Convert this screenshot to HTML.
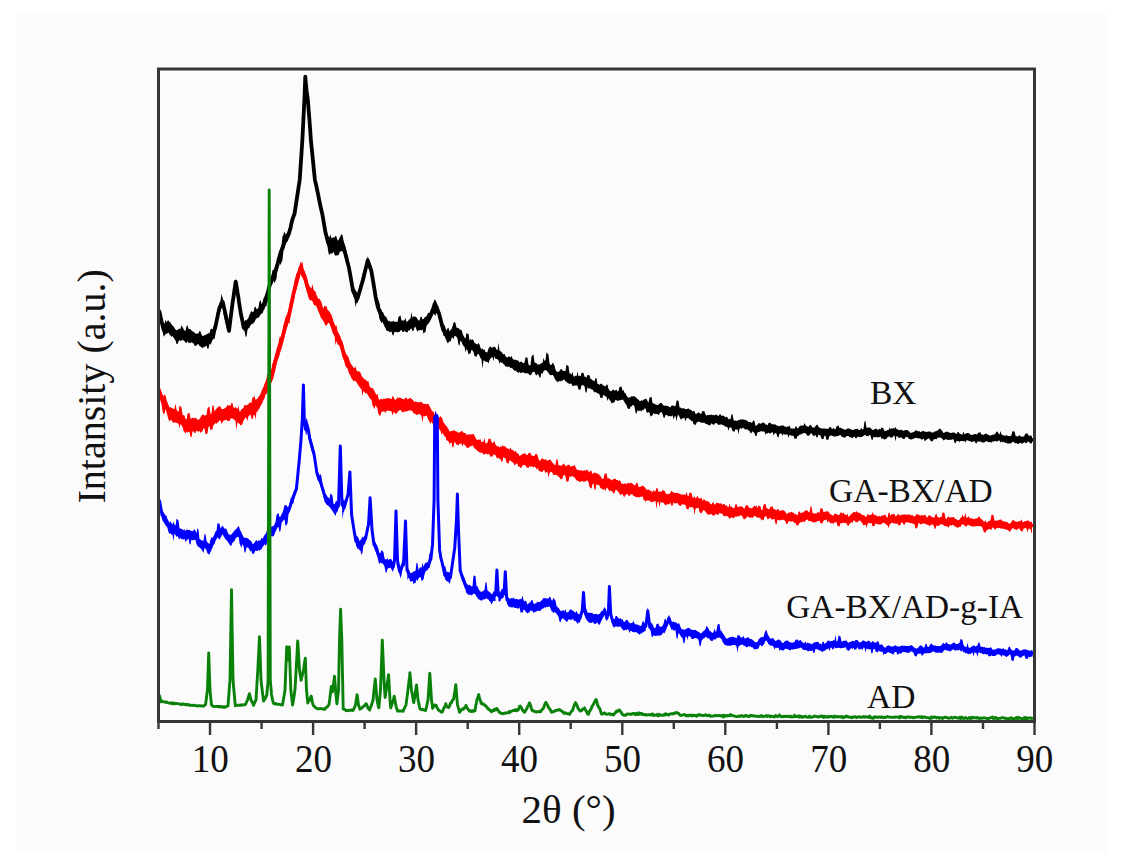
<!DOCTYPE html>
<html><head><meta charset="utf-8"><style>
html,body{margin:0;padding:0;background:#fff;width:1125px;height:859px;overflow:hidden}
svg{display:block}
</style></head><body>
<svg width="1125" height="859" viewBox="0 0 1125 859">
<rect x="0" y="0" width="1125" height="859" fill="#ffffff"/>
<rect x="17" y="13" width="1090" height="839" fill="#fbfbfb"/>
<path d="M159.5 306.4L160 308.6L160.5 311L161 314L161.5 316.5L162 318.7L162.5 320.9L163 322.7L163.4 324.2L163.5 323.9L164 323.8L164.5 323.6L165 321.7L165.5 319.7L166 321.1L166.5 322.4L167 321.6L167.5 320.8L168 320.6L168.5 320.6L169 321.1L169.5 322.1L170 322.3L170.5 322.6L171 323.4L171.5 324.3L172 324.8L172.5 325.4L173 326L173.5 326.6L174 327.2L174.5 327.7L175 328.7L175.5 329.6L176 330.3L176.5 330.4L177 330.1L177.5 329.7L178 329.5L178.5 329.4L179 329L179.5 328.5L180 328.8L180.5 329L181 327.1L181.5 325.2L182 326.1L182.5 327.1L183 328L183.5 329L184 329.8L184.5 330.6L185 330.8L185.5 330.8L186 328.7L186.5 326.2L187 325.8L187.5 325.2L188 326.9L188.5 328.8L189 328.9L189.5 329.1L190 329.1L190.5 329.2L191 329.8L191.5 330.5L192 330.9L192.5 331.3L193 331.6L193.5 331.8L194 332.3L194.5 332.7L195 333.1L195.5 333.4L196 333.7L196.5 334L197 333.6L197.5 333.2L198 333.4L198.5 333.6L199 332.2L199.5 330.8L200 331.2L200.5 331.5L201 333.1L201.5 334.6L202 335.2L202.5 335.7L203 335.9L203.5 335.9L204 335.6L204.5 334.7L205 334.9L205.5 335.2L206 334.7L206.5 334.3L207 334.1L207.5 333.9L208 333.5L208.5 333.1L209 333.2L209.5 333.4L210 331.2L210.5 329L211 329.5L211.5 328.4L212 329L212.5 329.5L213 328L213.5 326.5L214 325.5L214.5 324.6L215 324.3L215.5 322.1L216 318.2L216.5 314.1L217 311.7L217.5 309.3L218 308.8L218.5 308.3L219 305.8L219.3 304.3L219.5 302.6L220 301.7L220.5 300.8L221 297.2L221.5 293.7L222 295.7L222.5 297.7L222.8 298.4L223 299.3L223.5 301.4L224 303.7L224.5 306L225 307.8L225.5 309.8L226 312.2L226.2 313.4L226.5 315L227 317.5L227.5 319.9L228 322.5L228.5 324.9L229 328.3L229.5 324.5L230 320.6L230.5 316.8L231 312.7L231.5 308.7L232 304.7L232.5 300.9L233 297L233.5 293.5L234 290.1L234.5 286.7L235 283.5L235.5 280.2L235.7 278.9L236 279.9L236.5 282.8L237 286L237.5 289.3L238 292.2L238.5 295L238.8 297.2L239 298.7L239.5 302L240 304.9L240.5 307.7L241 310.9L241.5 314L241.6 314.1L242 315.7L242.5 318L243 320.5L243.5 323.1L243.7 324.1L244 321.6L244.5 321.5L245 320.7L245.5 319.9L246 320.1L246.5 320.4L247 319.7L247.5 318.9L248 318.4L248.5 317.7L249 316.1L249.5 314.4L250 313.9L250.5 312.8L251 311.8L251.5 310.9L252 311.4L252.5 312L253 312L253.5 311.9L254 309.8L254.5 307.6L255 307L255.5 306.4L255.6 306.8L256 307.8L256.5 309.3L257 308.9L257.5 308.7L258 308.2L258.5 307.6L259 304.6L259.5 301.4L260 300.7L260.5 299.9L261 301.9L261.2 302.8L261.5 304L262 303.3L262.5 302.6L263 300.5L263.5 298.3L264 297.4L264.5 296.4L265 295.3L265.5 294.1L266 294.2L266.5 294.2L266.6 294.2L267 291.8L267.5 289.1L268 286.9L268.5 285L269 282.7L269.5 280.4L270 278.8L270.5 277.2L271 276.8L271.5 276.3L272 273.1L272.5 269.9L273 269.9L273.5 269.9L274 268.7L274.1 268.7L274.5 267.9L275 266.2L275.5 264.6L276 263.3L276.5 261.7L277 260.9L277.5 259.9L278 257.8L278.1 256.9L278.5 255.1L279 253.1L279.5 251.2L280 249.7L280.5 248.3L281 246.8L281.5 245.5L282 240.7L282.5 236L282.8 236.4L283 235.8L283.5 234.3L284 232.8L284.5 231.4L285 233L285.5 234.8L286 233.8L286.3 233.5L286.5 233.4L287 232.8L287.5 232.1L288 230.5L288.5 228.6L289 227.6L289.5 226.3L290 224.8L290.5 223.2L290.9 221.9L291 220.9L291.5 218.8L292 216.8L292.5 215.1L293 212.5L293.5 210.2L294 209L294.4 209.7L294.5 209.2L295 206.9L295.5 204.4L296 201L296.5 197.6L297 194.6L297.3 193.5L297.5 192.2L298 188.6L298.5 185.2L299 181.9L299.5 178.6L299.7 178.9L300 174.3L300.5 166.4L301 158.9L301.5 151.4L302 144.1L302.4 138.7L302.5 136.8L303 126.9L303.5 117.1L304 107.3L304.4 99.6L304.5 97L305 84L305.3 76.1L305.5 76.8L306 82L306.4 86.1L306.5 86L307 90.7L307.5 95.5L307.9 99.2L308 100.6L308.5 106.9L309 113.1L309.5 119.3L310 126.5L310.5 133.5L310.9 139L311 139.5L311.5 144.3L312 149L312.5 153.9L312.9 157.7L313 158.8L313.5 163.6L314 168.8L314.5 174L314.9 177.6L315 176.5L315.5 178.1L316 180.1L316.5 182.1L317 184.8L317.5 187.6L318 190.3L318.5 192.8L318.8 193.7L319 194.2L319.5 195.5L320 198.8L320.5 201.9L321 204L321.5 206L322 208.2L322.5 210.5L322.8 212.4L323 213.6L323.5 216.4L324 218.4L324.5 220.6L325 223.5L325.5 226.5L326 227.3L326.5 230L327 232.2L327.5 234.4L328 236.4L328.5 236.1L329 237L329.5 237.6L330 235.9L330.5 234L331 236.8L331.5 238.5L332 238L332.5 237.7L333 237.6L333.5 237.6L334 237.5L334.5 237.6L335 236.7L335.5 235.8L336 236.3L336.5 236.8L337 238.7L337.5 240.3L338 240.4L338.5 240.1L339 239.1L339.5 237.9L340 236.7L340.5 236L341 235.1L341.5 234.3L342 234.5L342.5 234.9L343 237.7L343.5 240.3L344 242.3L344.5 244.3L345 246L345.5 248L346 249.6L346.4 251.4L346.5 251.9L347 254.6L347.5 257.2L348 259.1L348.5 261.1L348.8 263L349 264.2L349.5 267.1L350 269.4L350.5 271.5L351 274.4L351.5 277.3L352 280.8L352.5 284.2L353 287.5L353.5 287.7L354 288L354.5 288.4L355 289.3L355.5 290.1L356 290.9L356.5 291.6L357 292.8L357.5 294.4L358 292.6L358.5 290.8L359 288.8L359.5 286.8L360 285.5L360.5 284.3L361 282.3L361.5 280.2L362 276.8L362.5 273.4L362.8 273.4L363 272.6L363.5 270.6L364 270L364.5 269.5L365 267.7L365.5 265.9L366 263.7L366.5 261.5L367 259.5L367.5 257.3L367.7 256.4L368 257L368.5 258.5L369 259.7L369.5 261L370 262.5L370.5 264L371 264.8L371.2 266.4L371.5 267.8L372 270.7L372.5 273.6L373 276.5L373.5 279.5L374 282.7L374.5 286L375 289.4L375.4 292.2L375.5 292.1L376 294.6L376.5 297.1L377 297.6L377.5 298.1L377.8 299.4L378 299.4L378.5 300.8L379 301.9L379.5 303L380 306L380.5 309.1L381 309.3L381.5 309.6L382 311.8L382.5 311.9L383 312.4L383.5 313.1L384 314.5L384.5 316L385 316.2L385.5 316.2L386 316.9L386.5 317.4L387 318.6L387.5 319.9L388 320.4L388.5 320.9L389 321.1L389.5 320.7L390 321.4L390.5 322.1L391 321.7L391.5 321.3L392 321.4L392.5 321.5L393 321.2L393.5 320.8L394 321.4L394.5 322L395 321.7L395.5 321.6L396 321.7L396.5 321.8L397 322.1L397.5 322.2L398 319.6L398.5 316.8L399 316.5L399.5 316.2L400 315.8L400.5 315.5L401 318L401.5 320.5L402 320.5L402.5 320.5L403 320.5L403.5 320.5L404 320.4L404.5 320.2L405 319.1L405.5 318.1L406 319.9L406.5 321.7L407 321.7L407.5 321.4L408 320.9L408.5 320.3L409 319.8L409.5 319.3L410 318.7L410.5 318.3L411 315.2L411.5 312L412 315L412.5 318L413 317.1L413.5 316.2L414 316.4L414.5 316.7L415 316.6L415.5 316.8L416 317.1L416.5 317.6L416.9 318L417 318.6L417.5 318.9L418 319.8L418.5 320.4L419 320.5L419.5 320.5L420 318.7L420.5 316.9L421 316.8L421.5 316.6L422 318L422.5 319.4L423 319.1L423.5 319L423.9 318.8L424 318.6L424.5 317.5L425 317L425.5 316.7L426 316.6L426.5 316.4L427 315.1L427.5 313.7L428 313.2L428.5 312.7L429 312.9L429.5 313L430 311.6L430.5 310L431 309.4L431.5 308.7L432 307.6L432.5 306.4L433 304.8L433.5 303L434 301.2L434.4 299.6L434.5 299.2L435 299.7L435.5 300.4L436 301.3L436.5 302.3L437 303.8L437.5 305.3L438 306.1L438.5 307L439 308.6L439.3 310.4L439.5 311.4L440 313.3L440.5 315.3L441 317.3L441.5 319.2L442 320.5L442.5 321.8L443 323.5L443.5 325.2L444 324.6L444.5 325.2L445 326.6L445.5 328.3L446 329.4L446.5 330.6L447 329.4L447.5 328.1L447.6 328.5L448 328.1L448.5 327.7L449 329.6L449.5 331.5L450 330.8L450.5 330.1L451 329.6L451.5 329.1L452 327.7L452.5 326.4L453 324.5L453.5 322.7L454 322.3L454.5 322.1L454.6 322.2L455 322.6L455.5 323.1L456 325.3L456.5 327.4L457 327.7L457.5 328.1L458 328.1L458.5 328.1L459 328.7L459.5 329.2L460 329.4L460.2 329.7L460.5 330L461 330L461.5 330L462 331.6L462.5 333.4L463 334.6L463.5 335.8L464 336.8L464.4 337.5L464.5 337.4L465 337.9L465.5 338.6L466 335.7L466.5 332.8L467 333.4L467.5 333.8L468 333.9L468.5 333.8L469 337.2L469.5 340.6L470 339.7L470.5 339L471 339.5L471.5 340.1L472 339.7L472.5 339.3L472.8 339.6L473 339.9L473.5 340.3L474 341.7L474.5 343L475 343.2L475.5 343.3L476 343.8L476.5 344.2L477 344.2L477.5 344.4L478 343.6L478.5 343L479 343.7L479.5 344.5L479.8 345.6L480 346.3L480.5 347.8L481 348.6L481.5 349.4L482 348.9L482.5 348.3L483 349.2L483.5 350.1L484 349.7L484.5 349.3L485 350.7L485.5 352.1L486 352.1L486.5 352.2L486.8 352.4L487 352.4L487.5 352.1L488 350.3L488.5 348.4L489 347.8L489.5 347.3L490 346.8L490.5 346.3L491 347L491.5 347.8L492 347.6L492.5 347.6L493 347.3L493.5 347.1L494 346.8L494.5 346.7L494.8 346.7L495 347.1L495.5 347.6L496 348.6L496.5 349.4L497 349.9L497.5 350.2L498 346.5L498.5 342.7L499 346.7L499.5 350.6L500 350.9L500.5 351.3L501 351.6L501.5 351.9L502 352.6L502.5 353.3L503 353.9L503.5 354.5L504 354.1L504.5 353.7L505 354.9L505.5 356L506 356.7L506.5 357L507 357.3L507.5 357.5L508 357L508.5 356.4L509 356.4L509.5 356.5L510 356.9L510.5 357.4L511 356.6L511.5 355.9L512 357.1L512.5 358.5L513 359L513.5 359.5L514 359.7L514.5 359.7L515 359.8L515.5 359.8L516 360.1L516.5 360.2L517 360.3L517.5 360.4L518 360.6L518.5 360.8L519 361.7L519.5 362.6L520 362.3L520.5 361.8L521 361.7L521.5 361.6L522 362.1L522.5 362.8L523 363L523.5 363.2L524 362.9L524.5 362.6L525 360.1L525.5 357.5L526 357.5L526.5 357.5L527 357.6L527.5 357.8L528 361.2L528.5 364.6L529 365.1L529.5 365.4L530 365.4L530.5 365.1L531 360.9L531.5 356.5L532 355.9L532.5 355.3L533 354.7L533.5 354.4L533.9 357.4L534 358.2L534.5 362.3L535 362.6L535.5 363.1L536 363L536.5 362.9L537 363.9L537.5 364.7L538 364.5L538.5 364.2L539 364.3L539.5 364.4L540 364.2L540.5 363.8L541 363.5L541.5 363.1L542 363L542.5 362.9L543 360.4L543.5 357.8L544 359.3L544.5 360.9L545 360.3L545.5 360.2L546 356.1L546.5 352.3L547 352.8L547.5 353.4L548 354L548.5 354.7L549 359L549.5 363.2L550 364.2L550.5 365.1L551 365L551.5 364.9L552 363.7L552.5 362.7L553 363.1L553.5 363.8L554 364.7L554.5 365.6L554.9 367.2L555 368.1L555.5 369.6L556 370.7L556.5 371.6L557 371.8L557.5 371.9L558 371.8L558.5 371.7L559 371.4L559.5 371.2L560 370.2L560.5 369.2L561 369.2L561.5 369L562 369.8L562.5 370.6L563 370.7L563.5 370.9L564 370.8L564.5 370.9L565 371L565.5 371.2L566 367.8L566.5 364.5L567 364.9L567.5 365.4L568 365.8L568.5 366.1L568.8 368.4L569 369.9L569.5 373.5L570 373.5L570.5 373.5L571 374L571.5 374.8L572 373.2L572.5 371.6L573 374.1L573.5 376.4L574 376.5L574.5 376.4L575 376L575.5 375.6L576 375.9L576.5 376.2L577 373.8L577.5 371.4L578 373.9L578.5 376.3L579 375.9L579.5 375.4L580 376L580.5 376.5L581 374.7L581.5 372.9L582 372.8L582.5 372.8L582.8 372.7L583 372.7L583.5 372.9L584 374.8L584.5 376.9L585 376.7L585.5 376.5L586 377.2L586.5 377.8L587 376.3L587.5 374.8L588 374.9L588.5 375L589 375.2L589.5 375.3L590 377.1L590.5 378.9L591 379.1L591.5 379.3L592 379.8L592.5 380.3L593 380.4L593.5 380.4L594 380.9L594.5 381.5L595 379.7L595.5 377.9L596 378.1L596.5 378.3L596.8 380L597 381.2L597.5 384.1L598 384L598.5 383.7L599 384.4L599.5 384.9L600 384.3L600.5 383.7L601 383.7L601.5 383.7L602 384.2L602.5 384.8L603 385.2L603.5 385.6L604 385.7L604.5 385.9L605 386.3L605.5 386.6L606 385.5L606.5 384.4L607 384.6L607.5 384.7L608 386.7L608.5 388.9L609 389.5L609.5 390.2L610 390.8L610.5 391.3L611 391.3L611.5 391.1L612 390.5L612.5 389.9L613 389.6L613.5 389.4L614 390.1L614.5 390.8L615 390.5L615.5 390.3L616 389.9L616.5 389.6L617 390.5L617.5 391.5L618 391.2L618.5 390.9L619 389L619.5 387L620 386.9L620.5 386.8L621 386.6L621.5 386.5L622 388.6L622.5 390.9L622.9 390.3L623 390.4L623.5 390L624 391.3L624.5 392.7L625 393L625.5 393.3L626 394.4L626.5 395.4L627 396.2L627.5 396.9L628 397.4L628.5 397.7L629 397.6L629.5 397.3L630 397.4L630.5 397.3L631 396.8L631.5 396.2L632 396.3L632.5 396.4L633 396.3L633.5 396.3L634 396.3L634.5 396.4L635 396.7L635.5 397.1L636 397.4L636.5 397.7L636.9 398.4L637 398.8L637.5 399.1L638 399.4L638.5 399.6L639 400.3L639.5 400.9L640 401.1L640.5 401.3L641 400.6L641.5 399.9L642 400.4L642.5 400.9L643 400.2L643.5 399.5L644 399.5L644.5 399.5L645 399.1L645.5 398.8L646 398.8L646.5 399L647 399.9L647.5 401L648 401.8L648.5 402.7L649 400L649.5 397.2L650 397.4L650.5 397.5L650.9 397.3L651 396.9L651.5 396.6L652 399.7L652.5 403.1L653 403.2L653.5 403.5L654 403.6L654.5 403.7L655 404.1L655.5 404.5L656 404.7L656.5 404.7L657 405L657.5 405.1L658 405L658.5 404.7L659 404.1L659.5 403.5L660 403.2L660.5 403L661 402.9L661.5 403.1L662 403.6L662.5 404.3L663 404.9L663.5 405.5L664 405.7L664.5 405.8L664.9 405.7L665 405.6L665.5 405.6L666 405.7L666.5 405.8L667 405.9L667.5 406.1L668 406.2L668.5 406.3L669 406.7L669.5 407.1L670 407.2L670.5 407.2L671 406.4L671.5 405.6L672 405.5L672.5 405.4L673 405.5L673.5 405.6L674 405.9L674.5 406.2L675 406.1L675.5 406L676 403.4L676.5 400.8L677 400.6L677.5 400.5L678 400.5L678.5 400.7L678.8 402.6L679 404L679.5 407.2L680 407.4L680.5 407.6L681 408L681.5 408.3L682 408.4L682.5 408.5L683 408.2L683.5 408L684 408.3L684.5 408.7L685 408.9L685.5 409.2L686 409.1L686.5 409L687 408.9L687.5 408.8L688 408.5L688.5 408.3L689 408.9L689.5 409.6L690 409.6L690.5 409.8L691 410L691.5 410.3L692 410.9L692.5 411.4L692.8 411.4L693 411.3L693.5 410.7L694 411L694.5 411.3L695 412.6L695.5 413.8L696 413.9L696.5 413.8L697 413.5L697.5 413.1L698 412.8L698.5 412.5L699 412.6L699.5 412.8L700 413.4L700.5 414L701 413.7L701.5 413.3L702 412.2L702.5 411L703 411L703.5 411L704 411.2L704.5 411.5L705 413L705.5 414.5L706 415.1L706.5 415.8L706.8 415.6L707 415.5L707.5 415.1L708 415.1L708.5 415L709 414.9L709.5 414.7L710 414.9L710.5 415.2L711 414.7L711.5 414.4L712 414.8L712.5 415.3L713 415.1L713.5 414.8L714 415.2L714.5 415.4L715 415L715.5 414.6L716 414.6L716.5 414.8L717 415.2L717.5 415.6L718 415.8L718.5 416L719 415.3L719.5 414.4L720 414.3L720.5 414.2L721 415L721.5 416L722 415.7L722.5 415.6L723 415.7L723.5 415.8L724 416.1L724.5 416.5L725 416.9L725.5 417.4L726 417.1L726.5 416.7L727 417.1L727.5 417.3L728 418.4L728.5 419.4L729 418.9L729.5 418.4L730 418.9L730.5 419.5L731 416.7L731.5 414.1L732 414.3L732.5 414.4L733 417.1L733.5 419.7L734 420.2L734.5 420.7L735 420.6L735.5 420.6L736 420.8L736.5 420.9L737 420.8L737.5 420.6L738 420.4L738.5 420.1L739 420L739.5 420L740 419.5L740.5 419.1L741 419.5L741.5 419.9L742 419.5L742.5 419.2L743 419.3L743.5 419.6L744 419.7L744.5 419.8L745 419.8L745.5 419.8L746 420.3L746.5 420.8L747 420.8L747.5 420.8L748 421.5L748.5 422.3L749 422.2L749.5 422.1L750 422L750.5 421.8L751 422.5L751.5 423.1L752 422.4L752.5 421.9L753 421L753.5 420.3L754 420.8L754.5 421.3L755 423.6L755.5 425.8L756 425.8L756.5 425.6L757 425.2L757.5 424.6L758 423.9L758.5 423.2L759 423.1L759.5 423.2L760 423.4L760.5 423.7L760.9 423.7L761 423.6L761.5 423.6L762 423.1L762.5 422.6L763 422.6L763.5 422.8L764 422.9L764.5 423.1L765 423.8L765.5 424.5L766 424.6L766.5 424.5L767 425L767.5 425.4L768 424.3L768.5 423.1L769 422.9L769.5 422.7L770 422.7L770.5 422.6L771 423.5L771.5 424.4L772 424.1L772.5 423.9L773 424.2L773.5 424.5L774 424.4L774.5 424.3L775 424.5L775.5 424.6L776 425.1L776.5 425.4L777 425.5L777.5 425.7L778 425.8L778.5 425.9L779 426.1L779.5 426.4L780 426.1L780.5 425.7L781 425.6L781.5 425.5L782 425.5L782.5 425.5L783 425.5L783.5 425.6L784 426.1L784.5 426.5L785 426.6L785.5 426.5L786 426.9L786.5 427.2L787 426.9L787.5 426.5L788 426.4L788.5 426.4L788.8 426.1L789 425.9L789.5 425.4L790 426.8L790.5 428.3L791 428.5L791.5 428.5L792 428.6L792.5 428.6L793 428.6L793.5 428.6L794 428.7L794.5 428.8L795 427.7L795.5 426.6L796 426.6L796.5 426.5L797 427.6L797.5 428.6L798 428.3L798.5 427.9L799 427.1L799.5 426.2L800 426L800.5 425.7L801 425.5L801.5 425.4L802 425.6L802.5 425.8L803 425.7L803.5 425.6L804 424.2L804.5 423L805 424.1L805.5 425.2L806 425.5L806.5 425.9L807 426.2L807.5 426.5L808 426.8L808.5 427L809 426.2L809.5 425.4L810 425L810.5 424.8L811 425.4L811.5 426.1L812 426.8L812.5 427.6L813 427.6L813.5 427.4L814 427.6L814.5 427.6L815 426.9L815.5 426L816 425.4L816.5 425L816.8 424.7L817 424.7L817.5 424.8L818 425.8L818.5 427L819 427.2L819.5 427.5L820 427.9L820.5 428.2L821 428.3L821.5 428.3L822 428.6L822.5 428.7L823 428.6L823.5 428.5L824 428.6L824.5 428.6L825 428.6L825.5 428.6L826 428.8L826.5 429L827 428.9L827.5 428.8L828 428.8L828.5 428.8L829 428L829.5 427L830 427L830.5 426.9L831 427.6L831.5 428.4L832 428.6L832.5 428.9L833 428.5L833.5 428.1L834 428.6L834.5 429.1L835 429.2L835.5 429.2L836 427.8L836.5 426.4L837 426.2L837.5 426L838 425.7L838.5 425.5L839 426.7L839.5 428L840 427.8L840.5 427.7L841 428L841.5 428.2L842 428.5L842.5 428.8L843 429.1L843.5 429.3L844 429.5L844.5 429.6L845 429.7L845.5 429.8L846 429.5L846.5 429.1L847 428.8L847.5 428.5L848 428.5L848.5 428.4L849 428.5L849.5 428.6L850 429L850.5 429.3L851 429.3L851.5 429.4L852 429.7L852.5 430L853 430L853.5 429.8L854 429.7L854.5 429.6L855 429.3L855.5 429L856 429L856.5 429L857 428.8L857.5 428.6L858 429.2L858.5 429.8L859 429.9L859.5 430.1L860 429.6L860.5 429.2L861 428.6L861.5 427.9L862 428.7L862.5 429.4L863 429.2L863.5 429.1L864 425.3L864.5 421.6L865 421.3L865.5 421L866 424.4L866.5 427.8L867 427.7L867.5 427.8L868 427.6L868.5 427.6L869 427.5L869.5 427.5L870 427.8L870.5 428.1L871 428.6L871.5 429.1L872 429.5L872.5 429.8L873 429.9L873.5 430L874 429.6L874.5 429.2L875 428.9L875.5 428.6L876 428.8L876.5 428.8L877 429.3L877.5 429.7L878 429.8L878.5 429.8L879 429.2L879.5 428.8L880 429.1L880.5 429.6L881 428.4L881.5 427.3L882 427.6L882.5 428L883 428.3L883.5 428.5L884 429.9L884.5 431.1L885 431L885.5 430.8L886 430.8L886.5 430.7L887 430.4L887.5 430L888 430.1L888.5 430.2L889 428.9L889.5 427.6L890 428.4L890.5 429.2L891 428.7L891.5 428.3L892 428.5L892.5 428.6L893 428.3L893.5 428L894 428.3L894.5 428.7L895 427.8L895.5 426.9L896 428L896.5 429.1L897 429.2L897.5 429.5L898 429.6L898.5 429.7L899 430.1L899.5 430.5L900 430.2L900.5 429.8L901 429.8L901.5 429.7L902 430.1L902.5 430.6L903 430.7L903.5 430.8L904 430.6L904.5 430.4L905 430.2L905.5 430L906 430L906.5 430L907 429.9L907.5 429.9L908 430.4L908.5 431L909 431.4L909.5 431.8L910 432.4L910.5 432.9L911 432.8L911.5 432.7L912 432.5L912.5 432.4L913 432.2L913.5 432L914 431.7L914.5 431.5L915 430.9L915.5 430.3L916 430.3L916.5 430.4L917 430.7L917.5 431L918 431.2L918.5 431.3L919 431.3L919.5 431.3L920 431.8L920.5 432.3L921 431.9L921.5 431.4L922 431.3L922.5 431.2L923 431L923.5 430.8L924 431.3L924.5 431.8L925 431.7L925.5 431.6L926 431.8L926.5 432.1L927 432L927.5 431.8L928 431.7L928.5 431.6L929 431.4L929.5 431.3L930 431.5L930.5 431.8L931 432.1L931.5 432.4L932 432.5L932.5 432.5L933 432.5L933.5 432.5L934 432L934.5 431.6L935 431.4L935.5 431.3L936 431.2L936.5 431L937 430.7L937.5 430.4L938 430L938.5 429.7L939 429.1L939.5 428.6L940 428.7L940.5 429L941 429.5L941.5 430L942 430.8L942.5 431.5L943 432.3L943.5 433L944 432.9L944.5 432.6L945 432.3L945.5 432L946 431.8L946.5 431.7L947 431.6L947.5 431.8L948 431.9L948.5 432.1L949 432.4L949.5 432.7L950 432.8L950.5 432.8L951 432.9L951.5 433L952 432.7L952.5 432.5L953 432.5L953.5 432.6L954 432.6L954.5 432.6L955 432.9L955.5 433.2L956 433.7L956.5 434.2L957 433.2L957.5 432.1L958 432.1L958.5 432L959 432.7L959.5 433.5L960 433.7L960.5 434L961 434.3L961.5 434.6L962 434.5L962.5 434.4L963 433L963.5 431.5L964 433.1L964.5 434.6L965 434.2L965.5 433.8L966 433.5L966.5 433.2L967 433.1L967.5 433.1L968 433L968.5 433.1L969 433.4L969.5 433.8L970 434.1L970.5 434.5L971 434.8L971.5 435.1L972 435L972.5 434.7L973 434.7L973.5 434.6L974 434.3L974.5 434.2L975 434.1L975.5 434L976 434.2L976.5 434.5L977 434.2L977.5 433.8L978 433.3L978.5 432.7L979 432.6L979.5 432.5L980 432.4L980.5 432.2L981 433.4L981.5 434.7L982 434.6L982.5 434.6L983 434.8L983.5 434.9L984 434.6L984.5 434.2L985 434L985.5 433.8L986 433.7L986.5 433.6L987 434.1L987.5 434.6L988 434.8L988.5 435.1L989 435.2L989.5 435.3L990 435.6L990.5 435.8L991 435.5L991.5 435.1L992 435L992.5 434.8L993 434.7L993.5 434.6L994 434.6L994.5 434.6L995 434L995.5 433.4L996 432.6L996.5 431.7L997 431.7L997.5 431.6L998 432.5L998.5 433.4L999 433.9L999.5 434.4L1000 432.7L1000.5 431L1001 432.8L1001.5 434.7L1002 434.8L1002.5 434.8L1003 435.2L1003.5 435.5L1004 435.4L1004.5 435.4L1005 435.5L1005.5 435.7L1006 435.4L1006.5 435.1L1007 435.5L1007.5 435.7L1008 435.9L1008.5 436L1009 436.1L1009.5 436.1L1010 436.2L1010.5 436.3L1011 435.6L1011.5 434.9L1012 433.1L1012.5 431.3L1013 431.3L1013.5 431.3L1014 431.4L1014.5 431.6L1015 433.6L1015.5 435.7L1016 435.9L1016.5 436L1017 436.4L1017.5 436.8L1018 436.3L1018.5 435.8L1019 435.6L1019.5 435.5L1020 435.8L1020.5 436.1L1021 436.4L1021.5 436.7L1022 436.8L1022.5 436.8L1023 436.7L1023.5 436.5L1024 435.9L1024.5 435.4L1025 434.5L1025.5 433.6L1026 433.6L1026.5 433.5L1027 433.6L1027.5 433.6L1028 434.6L1028.5 435.6L1029 435.7L1029.5 435.8L1030 435.6L1030.5 435.3L1031 435.9L1031.5 436.5L1032 435L1032 443.5L1031.5 443L1031 443.4L1030.5 443.8L1030 443.1L1029.5 442.5L1029 442.1L1028.5 441.8L1028 441.7L1027.5 441.6L1027 442.4L1026.5 443.3L1026 443.3L1025.5 443.3L1025 442.6L1024.5 442L1024 442.4L1023.5 442.8L1023 443.3L1022.5 443.7L1022 443.6L1021.5 443.5L1021 443.1L1020.5 442.7L1020 442.9L1019.5 443.2L1019 443.5L1018.5 443.8L1018 444L1017.5 444L1017 443.5L1016.5 442.8L1016 443.1L1015.5 443.3L1015 443.2L1014.5 443.2L1014 442.3L1013.5 441.6L1013 441.7L1012.5 442L1012 442.5L1011.5 443.1L1011 443.3L1010.5 443.6L1010 443.6L1009.5 443.5L1009 443.6L1008.5 443.6L1008 443.6L1007.5 443.5L1007 443.3L1006.5 443.1L1006 442.9L1005.5 442.7L1005 442.5L1004.5 442.5L1004 442.1L1003.5 441.8L1003 442.1L1002.5 442.4L1002 441.9L1001.5 441.3L1001 442L1000.5 442.7L1000 441.6L999.5 440.6L999 440.6L998.5 440.6L998 441.1L997.5 441.5L997 441.5L996.5 441.6L996 441.2L995.5 440.9L995 441.1L994.5 441.2L994 441.3L993.5 441.4L993 441.5L992.5 441.6L992 442.1L991.5 442.7L991 442.4L990.5 442L990 442.1L989.5 442.2L989 442.2L988.5 442.2L988 441.8L987.5 441.5L987 441.4L986.5 441.3L986 441.3L985.5 441.4L985 441.9L984.5 442.3L984 442.5L983.5 442.5L983 442.5L982.5 442.4L982 442.3L981.5 442.2L981 441.7L980.5 441.2L980 441.4L979.5 441.7L979 441.7L978.5 441.6L978 441.5L977.5 441.4L977 442.4L976.5 443.4L976 443.3L975.5 443.1L975 442.1L974.5 441.2L974 441.3L973.5 441.4L973 441.6L972.5 441.8L972 442.1L971.5 442.2L971 441.7L970.5 441L970 441.2L969.5 441.3L969 440.9L968.5 440.7L968 440.4L967.5 440.2L967 440.3L966.5 440.4L966 441.5L965.5 442.5L965 441.8L964.5 441L964 441.1L963.5 441.2L963 441.2L962.5 441.1L962 441L961.5 440.9L961 440.9L960.5 440.9L960 441.5L959.5 442.2L959 441.4L958.5 440.7L958 441L957.5 441.2L957 441L956.5 440.8L956 442.2L955.5 443.5L955 443.1L954.5 442.8L954 441L953.5 439.4L953 439.3L952.5 439.3L952 439.5L951.5 439.7L951 439.7L950.5 439.7L950 439.7L949.5 439.7L949 439.9L948.5 440.1L948 439.9L947.5 439.7L947 439.6L946.5 439.6L946 439.3L945.5 439.2L945 439.6L944.5 440L944 440.3L943.5 440.5L943 439.8L942.5 439L942 438.5L941.5 438L941 437.8L940.5 437.7L940 437.4L939.5 437.2L939 437.5L938.5 437.8L938 437.7L937.5 437.8L937 438.5L936.5 439.3L936 439.2L935.5 438.9L935 439.1L934.5 439.3L934 439.5L933.5 439.6L933 440.6L932.5 441.6L932 441.5L931.5 441.3L931 441L930.5 440.8L930 439.8L929.5 438.8L929 438.6L928.5 438.6L928 438.8L927.5 439L927 439.4L926.5 439.6L926 440.3L925.5 441L925 440.8L924.5 440.7L924 439.5L923.5 438.3L923 438.9L922.5 439.6L922 439.6L921.5 439.5L921 439.2L920.5 438.8L920 438.6L919.5 438.5L919 438.3L918.5 438.2L918 438.3L917.5 438.5L917 438.1L916.5 437.7L916 437.8L915.5 437.9L915 438L914.5 438.1L914 438.4L913.5 438.8L913 438.9L912.5 439L912 439.2L911.5 439.4L911 439.5L910.5 439.5L910 439.3L909.5 439L909 438.8L908.5 438.5L908 437.7L907.5 437L907 436.9L906.5 437.1L906 437.2L905.5 437.3L905 438.2L904.5 439.1L904 439.1L903.5 439L903 438.8L902.5 438.7L902 438.1L901.5 437.6L901 437.5L900.5 437.4L900 437.6L899.5 437.7L899 437.8L898.5 437.9L898 437.1L897.5 436.3L897 436.2L896.5 436.1L896 438.7L895.5 441.4L895 438.5L894.5 435.7L894 435.7L893.5 435.8L893 436.7L892.5 437.4L892 437.5L891.5 437.6L891 437.6L890.5 437.7L890 437L889.5 436.4L889 436.6L888.5 436.8L888 437.1L887.5 437.3L887 438.1L886.5 438.8L886 439L885.5 439.1L885 439.4L884.5 439.6L884 439.3L883.5 438.9L883 438.4L882.5 437.9L882 438.6L881.5 439.3L881 437.8L880.5 436.5L880 436.7L879.5 437.1L879 437.2L878.5 437.3L878 437.3L877.5 437.2L877 437.1L876.5 437L876 437.2L875.5 437.3L875 437.3L874.5 437.3L874 437.1L873.5 436.8L873 438.4L872.5 440L872 439.7L871.5 439.5L871 437.4L870.5 435.4L870 435.1L869.5 434.9L869 435.5L868.5 436.2L868 436.1L867.5 436.1L867 436.1L866.5 436.2L866 435.6L865.5 435L865 435.1L864.5 435.2L864 435.6L863.5 436.1L863 436.3L862.5 436.6L862 436.8L861.5 437L861 437.1L860.5 437.1L860 437.2L859.5 437.3L859 437L858.5 436.6L858 436.7L857.5 436.7L857 437.5L856.5 438.3L856 438.3L855.5 438.3L855 437.4L854.5 436.4L854 436.7L853.5 437L853 437.6L852.5 438.2L852 438L851.5 437.7L851 437.6L850.5 437.5L850 437.2L849.5 436.8L849 436.5L848.5 436.2L848 436.1L847.5 436L847 435.9L846.5 436L846 436.8L845.5 437.6L845 437.5L844.5 437.5L844 437.5L843.5 437.5L843 437.2L842.5 436.8L842 436.7L841.5 436.6L841 435.7L840.5 434.9L840 435L839.5 435.2L839 435.6L838.5 436.1L838 435.9L837.5 435.8L837 436.2L836.5 436.6L836 436.5L835.5 436.3L835 436.4L834.5 436.5L834 436.4L833.5 436.4L833 436.1L832.5 435.9L832 435.6L831.5 435.4L831 435.6L830.5 435.8L830 435.8L829.5 435.9L829 437.8L828.5 439.6L828 439.8L827.5 439.8L827 439.9L826.5 439.8L826 437.9L825.5 435.9L825 435.8L824.5 435.6L824 437.2L823.5 438.9L823 439L822.5 439L822 439L821.5 438.9L821 437.3L820.5 435.6L820 435.4L819.5 435.2L819 434.7L818.5 434.2L818 435.7L817.5 437.4L817 437.2L816.8 437.3L816.5 437.6L816 436.2L815.5 434.9L815 435.3L814.5 435.5L814 435.9L813.5 436.1L813 435.5L812.5 434.7L812 434L811.5 433.4L811 433.3L810.5 433.5L810 434.4L809.5 435.3L809 435.5L808.5 435.7L808 435.7L807.5 435.8L807 435.2L806.5 434.6L806 434L805.5 433.3L805 433.1L804.5 432.9L804 433L803.5 433.3L803 433.2L802.5 433.3L802 433.9L801.5 434.6L801 434.4L800.5 434.2L800 434.5L799.5 434.8L799 435.3L798.5 435.8L798 436L797.5 436.1L797 437.4L796.5 438.7L796 438.7L795.5 438.7L795 438.7L794.5 438.7L794 437.2L793.5 435.7L793 435.7L792.5 435.7L792 435.8L791.5 435.7L791 435.6L790.5 435.3L790 435L789.5 434.7L789 436.3L788.8 436.9L788.5 438L788 436.1L787.5 434.3L787 434.4L786.5 434.5L786 434.6L785.5 434.7L785 434.7L784.5 434.6L784 434.1L783.5 433.7L783 434.7L782.5 435.9L782 434.8L781.5 433.7L781 433.5L780.5 433.4L780 433.5L779.5 433.7L779 435.5L778.5 437.3L778 437.3L777.5 437.2L777 435.4L776.5 433.6L776 433.4L775.5 433.1L775 433.2L774.5 433.2L774 434.4L773.5 435.6L773 433.7L772.5 431.9L772 432.2L771.5 432.5L771 433L770.5 433.5L770 433.5L769.5 433.6L769 433.1L768.5 432.6L768 433.1L767.5 433.6L767 433.5L766.5 433.3L766 434.1L765.5 434.7L765 433.3L764.5 431.8L764 431.5L763.5 431.2L763 431.4L762.5 431.7L762 431.4L761.5 431L761 431.2L760.9 431.3L760.5 431.4L760 431.6L759.5 432L759 431.9L758.5 432L758 432.2L757.5 432.5L757 434.3L756.5 436.1L756 436.2L755.5 436.1L755 434.7L754.5 433.1L754 432.7L753.5 432.3L753 431.7L752.5 431.3L752 432.1L751.5 433.1L751 433.2L750.5 433.2L750 432L749.5 430.7L749 430.7L748.5 430.6L748 429.9L747.5 429.2L747 429.3L746.5 429.5L746 429.5L745.5 429.6L745 429.3L744.5 429.1L744 428.4L743.5 427.9L743 427.7L742.5 427.7L742 428.4L741.5 429.1L741 428.6L740.5 428.1L740 428.4L739.5 428.8L739 431.5L738.5 434.3L738 431.7L737.5 429L737 429.4L736.5 429.7L736 429.5L735.5 429.1L735 430.5L734.5 431.8L734 431.6L733.5 431.5L733 431.3L732.5 431.1L732 429.4L731.5 427.7L731 427.5L730.5 427.4L730 427.4L729.5 427.4L729 429L728.5 430.7L728 429L727.5 427.2L727 427.1L726.5 426.8L726 426.8L725.5 426.7L725 426.2L724.5 425.9L724 425.6L723.5 425.3L723 425.2L722.5 425.1L722 424.6L721.5 424.3L721 424.4L720.5 424.6L720 424.7L719.5 424.6L719 424.9L718.5 425L718 424.5L717.5 423.9L717 423.4L716.5 423L716 422.9L715.5 422.9L715 423.6L714.5 424.4L714 424.6L713.5 424.7L713 424.5L712.5 424.2L712 423.7L711.5 423.2L711 424.1L710.5 425.1L710 425.3L709.5 425.5L709 425.3L708.5 424.9L708 424.7L707.5 424.4L707 424.3L706.8 424.3L706.5 424.1L706 423.9L705.5 423.7L705 423.3L704.5 422.8L704 422.8L703.5 422.8L703 422.7L702.5 422.7L702 422.8L701.5 422.8L701 422.6L700.5 422.3L700 422.2L699.5 422L699 421.7L698.5 421.6L698 421.7L697.5 421.9L697 422.4L696.5 422.8L696 423.9L695.5 425L695 424.8L694.5 424.6L694 424.4L693.5 424.1L693 422.5L692.8 421.7L692.5 420.6L692 420.9L691.5 421.2L691 420.6L690.5 420L690 419.6L689.5 419.5L689 418.8L688.5 418.2L688 418L687.5 417.9L687 418.2L686.5 418.4L686 419.9L685.5 421.4L685 419.6L684.5 417.8L684 418L683.5 418.3L683 418.2L682.5 418L682 418.8L681.5 419.6L681 419.4L680.5 419L680 418L679.5 416.9L679 415.9L678.8 415.3L678.5 414.8L678 415.3L677.5 416L677 418.5L676.5 421.2L676 418.6L675.5 415.9L675 416.2L674.5 416.4L674 417.9L673.5 419.4L673 417.2L672.5 415.2L672 415.8L671.5 416.4L671 416.3L670.5 416.2L670 416.1L669.5 415.9L669 416.2L668.5 416.5L668 415.9L667.5 415.3L667 415.2L666.5 415L666 415L665.5 415L665 416.4L664.9 416.8L664.5 418L664 417.8L663.5 417.4L663 415.6L662.5 413.8L662 412.8L661.5 411.9L661 412.1L660.5 412.5L660 413L659.5 413.5L659 414.4L658.5 415.3L658 414.6L657.5 413.9L657 414L656.5 414L656 414L655.5 413.8L655 413.9L654.5 413.9L654 413.4L653.5 412.9L653 414.1L652.5 415.5L652 415.5L651.5 415.7L651 416L650.9 416.4L650.5 416.6L650 414.8L649.5 412.8L649 412.4L648.5 411.9L648 412.5L647.5 413.1L647 412.4L646.5 411.9L646 410L645.5 408.4L645 408.3L644.5 408.4L644 409.3L643.5 410.4L643 410L642.5 409.6L642 410.7L641.5 411.7L641 411.1L640.5 410.5L640 410.6L639.5 410.7L639 411L638.5 411.3L638 410.6L637.5 409.8L637 412.2L636.9 412.3L636.5 413.9L636 413.2L635.5 412.5L635 409.4L634.5 406.4L634 405.6L633.5 405L633 405L632.5 405.2L632 405.8L631.5 406.5L631 406.6L630.5 406.7L630 408L629.5 409.1L629 409.1L628.5 408.9L628 408.6L627.5 408.1L627 406.7L626.5 405.3L626 404.5L625.5 403.7L625 403L624.5 402.3L624 401.3L623.5 400.4L623 399.9L622.9 399.6L622.5 399.5L622 399.7L621.5 400L621 400L620.5 399.9L620 400.2L619.5 400.5L619 400.6L618.5 400.6L618 400.8L617.5 401L617 400.7L616.5 400.3L616 400L615.5 399.8L615 401L614.5 402.2L614 402.4L613.5 402.6L613 402.8L612.5 403L612 403.2L611.5 403.2L611 402.2L610.5 400.9L610 400.4L609.5 399.9L609 398.9L608.5 398L608 399.5L607.5 401.1L607 398.9L606.5 396.6L606 396.6L605.5 396.5L605 396.2L604.5 395.8L604 395L603.5 394.4L603 396.2L602.5 398.1L602 398L601.5 398L601 398L600.5 398.1L600 396.3L599.5 394.4L599 393.9L598.5 393.4L598 393.4L597.5 393.3L597 393L596.8 392.8L596.5 392.8L596 392.3L595.5 391.8L595 392.3L594.5 392.6L594 391.8L593.5 390.9L593 390.2L592.5 389.5L592 389.5L591.5 389.5L591 389L590.5 388.4L590 388.4L589.5 388.4L589 388.4L588.5 388.4L588 387.8L587.5 387.2L587 390L586.5 392.8L586 392.5L585.5 392.1L585 389.2L584.5 386.3L584 385.8L583.5 385.4L583 385.2L582.8 385.2L582.5 385.3L582 385.3L581.5 385.3L581 387.5L580.5 389.8L580 389.7L579.5 389.7L579 389.6L578.5 389.5L578 387.6L577.5 385.6L577 385.6L576.5 385.6L576 385.5L575.5 385.5L575 385.5L574.5 385.5L574 385.8L573.5 386L573 386.1L572.5 386L572 385L571.5 384L571 383.6L570.5 383.5L570 383.7L569.5 384.1L569 383.8L568.8 383.6L568.5 383.3L568 383.2L567.5 382.9L567 382.4L566.5 381.8L566 381.6L565.5 381.5L565 380.6L564.5 379.7L564 379.6L563.5 379.6L563 380.3L562.5 381L562 380.8L561.5 380.5L561 381L560.5 381.4L560 381.1L559.5 380.9L559 381.3L558.5 381.7L558 381.9L557.5 382L557 381.5L556.5 380.9L556 380.4L555.5 379.7L555 379.4L554.9 378.8L554.5 378.3L554 376.9L553.5 375.6L553 375.1L552.5 374.9L552 374.9L551.5 375.1L551 375.2L550.5 375.3L550 374.9L549.5 374.4L549 373.7L548.5 372.9L548 372.3L547.5 371.7L547 371.1L546.5 370.6L546 370.3L545.5 370.1L545 370.1L544.5 370.6L544 370.9L543.5 371.3L543 372.6L542.5 373.9L542 373.4L541.5 372.8L541 375L540.5 377.2L540 377.5L539.5 377.7L539 376.2L538.5 374.7L538 374.4L537.5 374.1L537 374.8L536.5 375.4L536 375L535.5 374.6L535 373.2L534.5 371.9L534 371.8L533.9 371.8L533.5 372L533 371.9L532.5 372L532 373.2L531.5 374.3L531 374.8L530.5 375.2L530 375.1L529.5 374.9L529 374.4L528.5 373.8L528 373.6L527.5 373.6L527 373.3L526.5 373.1L526 373.2L525.5 373.4L525 373.2L524.5 372.9L524 372.7L523.5 372.5L523 372.4L522.5 372.3L522 372.6L521.5 373L521 372.9L520.5 372.9L520 372.4L519.5 371.8L519 372.4L518.5 373L518 372.6L517.5 372.3L517 372L516.5 371.5L516 371.1L515.5 370.6L515 370.7L514.5 370.8L514 370.3L513.5 369.8L513 369.2L512.5 368.6L512 368.1L511.5 367.8L511 368.1L510.5 368.6L510 367.6L509.5 366.7L509 366.7L508.5 366.6L508 366.8L507.5 366.9L507 366.8L506.5 366.6L506 366.6L505.5 366.5L505 365.8L504.5 365L504 364.6L503.5 364.3L503 363.5L502.5 362.7L502 362.8L501.5 363L501 362.3L500.5 361.6L500 362.8L499.5 364L499 362.1L498.5 360.2L498 359.8L497.5 359.3L497 359.1L496.5 358.7L496 358.9L495.5 358.9L495 357.5L494.8 356.7L494.5 356.1L494 358.6L493.5 361.2L493 359L492.5 357L492 357.2L491.5 357.4L491 358.1L490.5 358.7L490 359.3L489.5 359.9L489 361.7L488.5 363.5L488 362.7L487.5 361.8L487 362.1L486.8 362.1L486.5 361.8L486 361.7L485.5 361.7L485 361.2L484.5 360.8L484 360.5L483.5 360.2L483 364.6L482.5 368.8L482 364.2L481.5 359.5L481 358.8L480.5 358L480 357.2L479.8 356.6L479.5 355.8L479 354.8L478.5 354L478 354L477.5 354.2L477 355.4L476.5 356.7L476 356.6L475.5 356.5L475 356.3L474.5 356L474 354.1L473.5 352.1L473 351.4L472.8 351L472.5 350.6L472 350.2L471.5 349.7L471 351.5L470.5 353.4L470 353.5L469.5 353.7L469 354L468.5 354.2L468 352.2L467.5 350.2L467 349.7L466.5 349L466 350.6L465.5 352.2L465 349.4L464.5 346.8L464.4 346.6L464 346.4L463.5 346.1L463 345.3L462.5 344.5L462 343.1L461.5 341.8L461 341.2L460.5 340.6L460.2 341.8L460 343.3L459.5 345.6L459 345.2L458.5 344.6L458 341.5L457.5 338.5L457 337.6L456.5 336.7L456 336.4L455.5 336L455 336L454.6 335.9L454.5 335.9L454 337.6L453.5 339.5L453 338.3L452.5 337.3L452 337.8L451.5 338.3L451 340.1L450.5 341.8L450 341.5L449.5 341.2L449 341.8L448.5 342.4L448 343L447.6 343.2L447.5 342.9L447 341.9L446.5 340.7L446 339.6L445.5 338.5L445 337.1L444.5 335.8L444 336.2L443.5 335.8L443 333.6L442.5 331.4L442 330.4L441.5 329.3L441 327.3L440.5 325.3L440 323.3L439.5 321.3L439.3 320L439 319L438.5 316.6L438 315.4L437.5 314.2L437 313.4L436.5 312.6L436 314.2L435.5 315.9L435 315.2L434.5 314.7L434.4 314.6L434 314L433.5 313.1L433 314.3L432.5 315.3L432 316.7L431.5 318L431 319.3L430.5 320.4L430 321.3L429.5 322L429 322.9L428.5 323.5L428 324L427.5 324.6L427 325.3L426.5 326L426 328.9L425.5 331.8L425 332.2L424.5 332.6L424 333.2L423.9 333.4L423.5 333.8L423 331.5L422.5 329.2L422 329.8L421.5 330.3L421 330.3L420.5 330.1L420 330.2L419.5 330.2L419 330.3L418.5 330.2L418 331L417.5 331.7L417 331L416.9 330.4L416.5 329.8L416 328.2L415.5 326.9L415 327.1L414.5 327.5L414 329.1L413.5 330.7L413 331L412.5 331.3L412 329.9L411.5 328.5L411 328.7L410.5 328.9L410 329.7L409.5 330.7L409 330.4L408.5 330.3L408 331.3L407.5 332.2L407 332.4L406.5 332.3L406 332L405.5 331.7L405 331.2L404.5 330.8L404 331.4L403.5 332.1L403 332L402.5 331.9L402 330.9L401.5 329.9L401 330.2L400.5 330.5L400 331.3L399.5 332.1L399 332.1L398.5 332L398 332.2L397.5 332.3L397 332.3L396.5 332.1L396 332L395.5 331.9L395 332L394.5 332.1L394 333.6L393.5 335.2L393 335.2L392.5 335.2L392 333.3L391.5 331.5L391 331.8L390.5 332.1L390 332.1L389.5 332.2L389 331.6L388.5 330.7L388 330.9L387.5 331.3L387 331L386.5 330.6L386 329.5L385.5 328.1L385 327.5L384.5 326.6L384 325.1L383.5 323.7L383 322.4L382.5 321.4L382 322.7L381.5 323.1L381 321.9L380.5 320.9L380 320L379.5 319.1L379 316.4L378.5 313.7L378 312.3L377.8 311.3L377.5 309.9L377 307.5L376.5 305L376 303.3L375.5 301.6L375.4 300.1L375 298L374.5 295.3L374 290.9L373.5 286.5L373 283.6L372.5 280.8L372 278.2L371.5 275.6L371.2 273.9L371 274.3L370.5 272.6L370 271.1L369.5 269.6L369 269.1L368.5 268.6L368 266.2L367.7 264.2L367.5 264.8L367 267.2L366.5 269.6L366 271.8L365.5 274.1L365 275.8L364.5 277.6L364 279.7L363.5 281.7L363 284.1L362.8 285L362.5 286.6L362 288L361.5 289.4L361 291.2L360.5 293.1L360 294.7L359.5 296.3L359 298L358.5 299.7L358 301.5L357.5 303.3L357 303.2L356.5 302.5L356 304.9L355.5 307.3L355 303.2L354.5 299.1L354 298L353.5 296.8L353 294.1L352.5 291.1L352 288.2L351.5 285.3L351 282.7L350.5 280.1L350 277.2L349.5 274.5L349 271.8L348.8 270.7L348.5 270.5L348 269L347.5 267.4L347 265.4L346.5 263.3L346.4 262.8L346 262L345.5 260.3L345 258.8L344.5 257.1L344 255L343.5 252.9L343 251.4L342.5 251.7L342 251.3L341.5 251.1L341 251.3L340.5 251.6L340 251.7L339.5 252.6L339 253.9L338.5 254.9L338 255.3L337.5 255.5L337 255.5L336.5 255.3L336 255.5L335.5 255.8L335 255.3L334.5 254.8L334 253.1L333.5 251.7L333 252.4L332.5 253.2L332 253.4L331.5 253.6L331 253.8L330.5 253.2L330 254.1L329.5 254.9L329 254.2L328.5 253.3L328 249.7L327.5 246.4L327 244.3L326.5 242.3L326 240.5L325.5 237.7L325 235.1L324.5 232.5L324 229.1L323.5 225.5L323 222.9L322.8 221.8L322.5 220.8L322 218.1L321.5 215.6L321 213L320.5 210.5L320 208.2L319.5 205.8L319 202.9L318.8 201.7L318.5 199.9L318 199.1L317.5 198.6L317 196.1L316.5 193.8L316 191.7L315.5 189.6L315 185.9L314.9 182.6L314.5 178.1L314 173.1L313.5 167.9L313 162.9L312.9 161.8L312.5 157.8L312 152.8L311.5 148L311 145.2L310.9 142.7L310.5 138.1L310 131.1L309.5 124.1L309 118.8L308.5 112.4L308 104.9L307.9 103.3L307.5 100.9L307 96.6L306.5 92.5L306.4 90.8L306 86.7L305.5 81.5L305.3 77.2L305 85.1L304.5 98.1L304.4 100.6L304 109L303.5 118.9L303 128.7L302.5 138.6L302.4 140.5L302 146.9L301.5 154L301 161.6L300.5 169.2L300 176.7L299.7 181.2L299.5 184.2L299 187.1L298.5 190.1L298 193.6L297.5 197.2L297.3 198.8L297 201.1L296.5 204.6L296 208L295.5 211.3L295 214.6L294.5 217.7L294.4 218.2L294 220.1L293.5 221.2L293 222L292.5 223L292 225.3L291.5 227.9L291 230.1L290.9 231.1L290.5 233.2L290 234.8L289.5 236.3L289 237.8L288.5 239L288 240.4L287.5 241.5L287 242.1L286.5 242.6L286.3 242.2L286 242.5L285.5 243.7L285 246L284.5 248.5L284 249.3L283.5 250.1L283 254.9L282.8 256.7L282.5 259.9L282 261.2L281.5 262.5L281 263.8L280.5 265.3L280 263.2L279.5 261L279 263.4L278.5 265.8L278.1 267L278 267.8L277.5 269.4L277 274L276.5 278.3L276 279.8L275.5 281L275 282.1L274.5 283.3L274.1 282.1L274 281.8L273.5 280.4L273 282.2L272.5 284.1L272 284.6L271.5 285.1L271 286.3L270.5 287.5L270 288.5L269.5 290.7L269 293.4L268.5 296.1L268 298L267.5 300.2L267 302.5L266.6 304.5L266.5 306.5L266 306.3L265.5 306L265 307.6L264.5 309L264 309.8L263.5 310.5L263 312L262.5 313.5L262 313.5L261.5 313.5L261.2 313.8L261 314.1L260.5 314.8L260 315.6L259.5 316.4L259 317.1L258.5 317.7L258 317.7L257.5 317.7L257 318.1L256.5 318.5L256 319.1L255.6 319.6L255.5 319.7L255 320.9L254.5 322.1L254 322.6L253.5 323.1L253 323.6L252.5 324.1L252 324.1L251.5 324.3L251 324.7L250.5 325.2L250 326.5L249.5 327.5L249 328L248.5 328.3L248 329.1L247.5 329.7L247 333.1L246.5 336.5L246 336.6L245.5 336.8L245 333.7L244.5 330.6L244 331.3L243.7 330.7L243.5 329.8L243 328.2L242.5 326.7L242 323.1L241.6 320.3L241.5 320L241 317.2L240.5 314.3L240 311.5L239.5 308.5L239 305.3L238.8 303.7L238.5 302.2L238 299L237.5 295.9L237 293.2L236.5 290.5L236 286.9L235.7 284.3L235.5 285.4L235 288.9L234.5 292.4L234 295.8L233.5 299.2L233 302.9L232.5 306.4L232 310L231.5 313.7L231 317.5L230.5 321.5L230 325.3L229.5 329.2L229 333.2L228.5 332.1L228 330L227.5 327.8L227 325.2L226.5 322.4L226.2 322.5L226 322.5L225.5 322.9L225 320.6L224.5 318.5L224 316.4L223.5 314.2L223 309.5L222.8 307.4L222.5 307.2L222 307.7L221.5 308.2L221 309.8L220.5 311.5L220 312.1L219.5 312.7L219.3 312.4L219 313.9L218.5 316.4L218 318.8L217.5 321.2L217 323.3L216.5 325.5L216 329.9L215.5 334.2L215 336.5L214.5 339.3L214 338.8L213.5 338.4L213 339.3L212.5 340L212 341.3L211.5 342.5L211 343.8L210.5 344.6L210 344.3L209.5 344.1L209 346.3L208.5 348.6L208 348.7L207.5 348.8L207 347.2L206.5 345.6L206 346L205.5 346.6L205 346.6L204.5 346.7L204 347.3L203.5 347.3L203 347.7L202.5 348L202 347.7L201.5 347.3L201 347L200.5 346.6L200 346.3L199.5 345.9L199 345.1L198.5 344.3L198 344.2L197.5 344.2L197 344.8L196.5 345.4L196 345.8L195.5 346.1L195 345.9L194.5 345.6L194 344.5L193.5 343.2L193 343.2L192.5 343.1L192 342.5L191.5 342L191 342.6L190.5 343.2L190 342.9L189.5 342.7L189 342.8L188.5 343L188 342L187.5 341.1L187 342L186.5 342.7L186 342.9L185.5 342.8L185 342.1L184.5 341L184 340.8L183.5 340.6L183 340.1L182.5 339.8L182 340L181.5 340.4L181 340.7L180.5 341L180 340.5L179.5 340.1L179 340.8L178.5 341.5L178 342.8L177.5 344L177 344L176.5 343.9L176 342.3L175.5 340.4L175 339.8L174.5 339.1L174 338.2L173.5 337.4L173 336.7L172.5 336L172 336.4L171.5 336.8L171 336.2L170.5 335.6L170 335.1L169.5 334.7L169 333.3L168.5 332.7L168 333L167.5 333.3L167 333.6L166.5 333.8L166 334L165.5 334.3L165 335.1L164.5 335.8L164 336.3L163.5 336.6L163.4 335L163 333.4L162.5 331.2L162 328.6L161.5 326L161 323.2L160.5 320.5L160 318.4L159.5 316.4Z" fill="#000" stroke="none"/><path d="M159.5 311.8L160 314.1L160.5 316.5L161 318.9L161.5 321.2L162 323.3L162.5 325.4L163 327.4L163.4 328.9L163.5 329.4L164 329.3L164.5 329.1L165 328.9L165.5 328.6L166 328.3L166.5 328.1L167 327.8L167.5 327.5L168 327.2L168.5 327L169 326.8L169.5 327.1L170 327.6L170.5 328.1L171 328.7L171.5 329.3L172 330L172.5 330.6L173 331.3L173.5 331.9L174 332.6L174.5 333.3L175 334.1L175.5 334.7L176 335.4L176.5 335.6L177 335.6L177.5 335.6L178 335.5L178.5 335.3L179 335.1L179.5 334.9L180 334.7L180.5 334.4L181 334.1L181.5 333.9L182 333.8L182.5 333.9L183 334.2L183.5 334.7L184 335.4L184.5 336L185 336.6L185.5 336.9L186 336.9L186.5 336.7L187 336.2L187.5 335.6L188 335L188.5 334.6L189 334.4L189.5 334.4L190 334.5L190.5 334.9L191 335.3L191.5 335.8L192 336.4L192.5 336.9L193 337.5L193.5 338L194 338.5L194.5 338.8L195 339.1L195.5 339.3L196 339.3L196.5 339.2L197 339L197.5 338.9L198 338.9L198.5 338.9L199 339.1L199.5 339.4L200 339.8L200.5 340.1L201 340.4L201.5 340.8L202 341.1L202.5 341.3L203 341.5L203.5 341.7L204 341.7L204.5 341.2L205 340.7L205.5 340.3L206 339.9L206.5 339.7L207 339.6L207.5 339.5L208 339.5L208.5 339.4L209 339.2L209.5 339.1L210 338.9L210.5 338.7L211 338.6L211.5 337.4L212 336.2L212.5 334.9L213 333.6L213.5 332.2L214 330.9L214.5 329.7L215 328.5L215.5 326.3L216 324L216.5 321.7L217 319.2L217.5 316.8L218 314.4L218.5 312.1L219 309.8L219.3 308.4L219.5 307.7L220 306.6L220.5 305.6L221 304.6L221.5 303.8L222 303L222.5 302.3L222.8 302.1L223 303.1L223.5 305.4L224 307.6L224.5 309.7L225 311.9L225.5 314.1L226 316.6L226.2 317.7L226.5 319.2L227 321.8L227.5 324.1L228 326.5L228.5 328.7L229 330.9L229.5 326.9L230 323L230.5 319L231 315L231.5 311.1L232 307.3L232.5 303.6L233 300.1L233.5 296.7L234 293.3L234.5 289.9L235 286.4L235.5 282.9L235.7 281.6L236 283.2L236.5 286.1L237 289.1L237.5 292.2L238 295.3L238.5 298.5L238.8 300.4L239 302L239.5 305.3L240 308.5L240.5 311.5L241 314.3L241.5 317L241.6 317.1L242 319L242.5 321.5L243 324.1L243.5 326.7L243.7 327.6L244 326.6L244.5 326L245 325.6L245.5 325.2L246 325.1L246.5 324.9L247 324.7L247.5 324.5L248 324.2L248.5 323.8L249 323.3L249.5 322.6L250 322L250.5 320.9L251 319.8L251.5 319L252 318.2L252.5 317.6L253 317.1L253.5 316.5L254 316.1L254.5 315.6L255 315L255.5 314.4L255.6 314.3L256 313.9L256.5 313.6L257 313.3L257.5 313.1L258 312.9L258.5 312.6L259 312.1L259.5 311.5L260 310.8L260.5 310L261 309.2L261.2 308.9L261.5 308.4L262 307.8L262.5 307.1L263 306.4L263.5 305.6L264 304.7L264.5 303.7L265 302.6L265.5 301.4L266 300.2L266.5 298.8L266.6 298.1L267 296.1L267.5 293.8L268 291.6L268.5 289.7L269 287.8L269.5 286.1L270 284.3L270.5 283.2L271 281.9L271.5 280.6L272 279.3L272.5 278L273 276.7L273.5 275.4L274 274.2L274.1 274.1L274.5 273.2L275 272.1L275.5 270.9L276 269.7L276.5 268.2L277 266.6L277.5 264.7L278 262.7L278.1 261.8L278.5 260.1L279 258.2L279.5 256.4L280 254.7L280.5 253.1L281 251.6L281.5 250.2L282 249L282.5 247.7L282.8 247.3L283 246.7L283.5 245.2L284 243.7L284.5 242.3L285 240.8L285.5 239.5L286 238.3L286.3 237.9L286.5 238L287 237.3L287.5 236.5L288 235.6L288.5 234.5L289 233.1L289.5 231.6L290 229.8L290.5 228L290.9 226.3L291 225.3L291.5 223L292 221L292.5 219.3L293 217.7L293.5 216.4L294 215.2L294.4 214.4L294.5 213.9L295 210.8L295.5 207.5L296 204.2L296.5 200.9L297 197.6L297.3 195.9L297.5 194.5L298 191.1L298.5 187.8L299 184.5L299.5 181.2L299.7 180L300 175.6L300.5 168.1L301 160.6L301.5 153.1L302 145.5L302.4 139.4L302.5 137.4L303 127.5L303.5 117.7L304 107.9L304.4 99.9L304.5 97.4L305 84.5L305.3 76.7L305.5 79.6L306 84.8L306.4 88.9L306.5 89.9L307 93.7L307.5 97.6L307.9 100.5L308 101.8L308.5 108.2L309 114.5L309.5 120.6L310 127.7L310.5 134.7L310.9 140.2L311 141.4L311.5 146.2L312 151L312.5 155.9L312.9 159.9L313 161L313.5 166L314 171.1L314.5 176L314.9 179.8L315 180.4L315.5 182.4L316 184.5L316.5 186.6L317 188.9L317.5 191.3L318 193.8L318.5 196.4L318.8 198L319 199.1L319.5 201.6L320 204L320.5 206.3L321 208.5L321.5 210.7L322 212.9L322.5 215.2L322.8 216.8L323 218L323.5 221L324 224L324.5 226.9L325 229.9L325.5 232.8L326 234.4L326.5 236.3L327 238.3L327.5 240.4L328 242.4L328.5 243.3L329 244.2L329.5 245L330 245.5L330.5 246L331 246.3L331.5 245.7L332 245.2L332.5 244.9L333 244.7L333.5 244.6L334 244.7L334.5 245L335 245.5L335.5 246L336 246.6L336.5 247.1L337 247.4L337.5 247.6L338 247.5L338.5 247.1L339 246.4L339.5 245.4L340 244.4L340.5 244L341 243.9L341.5 243.9L342 244.1L342.5 244.5L343 245.2L343.5 246.9L344 248.7L344.5 250.5L345 252.4L345.5 254.2L346 256.1L346.4 257.5L346.5 258L347 260.1L347.5 262.2L348 264.1L348.5 266L348.8 267L349 268L349.5 270.8L350 273.5L350.5 276.4L351 279.3L351.5 282.1L352 285L352.5 287.9L353 290.8L353.5 292L354 293L354.5 294L355 295L355.5 295.9L356 296.7L356.5 297.4L357 298L357.5 298.6L358 296.8L358.5 295.1L359 293.4L359.5 291.7L360 290L360.5 288.4L361 286.6L361.5 284.8L362 283.1L362.5 281.4L362.8 280.5L363 279.8L363.5 277.7L364 275.7L364.5 273.6L365 271.5L365.5 269.4L366 267.4L366.5 265.4L367 263.4L367.5 261.3L367.7 260.3L368 261.3L368.5 262.7L369 264.1L369.5 265.5L370 266.9L370.5 268.4L371 269.8L371.2 270.4L371.5 272L372 274.8L372.5 277.7L373 280.6L373.5 283.6L374 286.7L374.5 289.8L375 293L375.4 295.6L375.5 296.3L376 298.6L376.5 301L377 303.3L377.5 305.5L377.8 306.9L378 307.5L378.5 308.9L379 310.1L379.5 311.1L380 312L380.5 313L381 314L381.5 315.2L382 316.6L382.5 316.5L383 317.3L383.5 318.4L384 319.7L384.5 321L385 322.3L385.5 323.3L386 324L386.5 324.5L387 324.8L387.5 325.2L388 325.6L388.5 326.1L389 326.6L389.5 326.6L390 326.7L390.5 326.7L391 326.7L391.5 326.7L392 326.8L392.5 326.9L393 326.9L393.5 326.9L394 326.8L394.5 326.6L395 326.5L395.5 326.5L396 326.5L396.5 326.7L397 326.9L397.5 327L398 327L398.5 326.8L399 326.5L399.5 326.2L400 325.8L400.5 325.5L401 325.3L401.5 325.2L402 325.2L402.5 325.2L403 325.3L403.5 325.3L404 325.4L404.5 325.6L405 325.7L405.5 326L406 326.3L406.5 326.5L407 326.6L407.5 326.5L408 326.1L408.5 325.6L409 325L409.5 324.4L410 324L410.5 323.7L411 323.6L411.5 323.4L412 323.3L412.5 323.1L413 322.8L413.5 322.5L414 322.1L414.5 321.8L415 321.7L415.5 321.8L416 322.1L416.5 322.6L416.9 323.2L417 323.8L417.5 324.5L418 325L418.5 325.3L419 325.4L419.5 325.5L420 325.5L420.5 325.4L421 325.3L421.5 325.1L422 324.8L422.5 324.3L423 323.8L423.5 323.5L423.9 323.5L424 323.4L424.5 322.7L425 322.3L425.5 321.9L426 321.5L426.5 321L427 320.4L427.5 319.8L428 319.3L428.5 318.8L429 318.2L429.5 317.6L430 316.7L430.5 315.8L431 314.7L431.5 313.5L432 312.2L432.5 310.9L433 309.4L433.5 307.7L434 306L434.4 304.5L434.5 304.1L435 304.6L435.5 305.4L436 306.2L436.5 307.3L437 308.4L437.5 309.7L438 310.9L438.5 312.2L439 313.4L439.3 314.3L439.5 315.2L440 317.2L440.5 319.2L441 321.3L441.5 323.3L442 325.2L442.5 327L443 328.8L443.5 330.4L444 330.8L444.5 331.3L445 332L445.5 333L446 334L446.5 335.2L447 336.3L447.5 337.3L447.6 337.7L448 337.5L448.5 337.1L449 336.7L449.5 336.2L450 335.7L450.5 335.1L451 334.5L451.5 333.8L452 332.9L452.5 332.2L453 331.4L453.5 330.8L454 330.4L454.5 330.2L454.6 330.3L455 330.7L455.5 331.2L456 331.6L456.5 332L457 332.4L457.5 332.9L458 333.5L458.5 334.1L459 334.8L459.5 335.2L460 335.5L460.2 335.4L460.5 335.7L461 336.4L461.5 337.1L462 337.8L462.5 338.6L463 339.5L463.5 340.3L464 341.2L464.4 342L464.5 342.1L465 342.6L465.5 343.2L466 343.9L466.5 344.5L467 345L467.5 345.4L468 345.6L468.5 345.5L469 345.3L469.5 345.1L470 344.9L470.5 344.8L471 344.9L471.5 345.2L472 345.5L472.5 346L472.8 346.3L473 346.6L473.5 347.1L474 347.6L474.5 348L475 348.2L475.5 348.4L476 348.6L476.5 348.6L477 348.7L477.5 348.8L478 349.1L478.5 349.5L479 350.2L479.5 351L479.8 351.7L480 352.2L480.5 352.8L481 353.5L481.5 354L482 354.5L482.5 354.9L483 355.3L483.5 355.6L484 355.8L484.5 356.1L485 356.3L485.5 356.6L486 357L486.5 357.3L486.8 357.5L487 357.4L487.5 357L488 356.5L488.5 355.9L489 355.4L489.5 354.8L490 354.3L490.5 353.8L491 353.4L491.5 352.9L492 352.5L492.5 352.1L493 351.8L493.5 351.5L494 351.4L494.5 351.4L494.8 351.6L495 352.2L495.5 353L496 353.7L496.5 354.2L497 354.6L497.5 354.8L498 354.9L498.5 355L499 355.1L499.5 355.2L500 355.4L500.5 355.8L501 356.3L501.5 356.9L502 357.5L502.5 358.1L503 358.7L503.5 359.3L504 359.8L504.5 360.3L505 360.8L505.5 361.2L506 361.7L506.5 361.8L507 362L507.5 362L508 362.1L508.5 362.1L509 362.1L509.5 362.1L510 362.1L510.5 362.1L511 362.1L511.5 362.3L512 362.5L512.5 363L513 363.7L513.5 364.3L514 364.9L514.5 365.4L515 365.8L515.5 366.2L516 366.4L516.5 366.5L517 366.6L517.5 366.7L518 366.8L518.5 367L519 367.2L519.5 367.4L520 367.6L520.5 367.6L521 367.4L521.5 367.3L522 367.3L522.5 367.3L523 367.5L523.5 367.7L524 368L524.5 368.2L525 368.4L525.5 368.4L526 368.4L526.5 368.4L527 368.5L527.5 368.7L528 369L528.5 369.3L529 369.7L529.5 369.9L530 369.9L530.5 369.7L531 369.4L531.5 368.9L532 368.3L532.5 367.6L533 367.1L533.5 366.8L533.9 366.7L534 366.8L534.5 367.1L535 367.4L535.5 367.9L536 368.3L536.5 368.7L537 369L537.5 369.2L538 369.3L538.5 369.3L539 369.2L539.5 369.1L540 368.9L540.5 368.6L541 368.4L541.5 368L542 367.7L542.5 367.4L543 367L543.5 366.5L544 366.1L544.5 365.7L545 365.4L545.5 365.5L546 365.7L546.5 366.1L547 366.6L547.5 367.2L548 367.9L548.5 368.5L549 369L549.5 369.4L550 369.6L550.5 369.7L551 369.7L551.5 369.6L552 369.7L552.5 369.9L553 370.4L553.5 371.1L554 371.9L554.5 372.9L554.9 373.8L555 374.5L555.5 375.1L556 375.7L556.5 376.1L557 376.4L557.5 376.5L558 376.4L558.5 376.3L559 376.2L559.5 376.1L560 376L560.5 376.1L561 376L561.5 375.9L562 375.7L562.5 375.5L563 375.3L563.5 375.2L564 375.2L564.5 375.4L565 375.7L565.5 376L566 376.5L566.5 376.9L567 377.3L567.5 377.8L568 378.2L568.5 378.5L568.8 378.6L569 378.6L569.5 378.6L570 378.6L570.5 378.7L571 379.1L571.5 379.5L572 380L572.5 380.5L573 380.8L573.5 381L574 381L574.5 380.9L575 380.8L575.5 380.6L576 380.5L576.5 380.5L577 380.5L577.5 380.5L578 380.6L578.5 380.6L579 380.7L579.5 380.8L580 380.8L580.5 380.9L581 380.7L581.5 380.7L582 380.6L582.5 380.5L582.8 380.5L583 380.5L583.5 380.6L584 380.8L584.5 381.2L585 381.6L585.5 382L586 382.4L586.5 382.7L587 382.9L587.5 383L588 383.1L588.5 383.2L589 383.4L589.5 383.5L590 383.6L590.5 383.6L591 383.8L591.5 383.9L592 384.2L592.5 384.7L593 385.2L593.5 385.7L594 386.2L594.5 386.7L595 387.1L595.5 387.3L596 387.6L596.5 387.8L596.8 387.9L597 388.1L597.5 388.5L598 388.9L598.5 389.1L599 389.3L599.5 389.3L600 389.3L600.5 389.3L601 389.2L601.5 389.2L602 389.3L602.5 389.3L603 389.6L603.5 389.9L604 390.3L604.5 390.8L605 391.4L605.5 391.8L606 392.2L606.5 392.4L607 392.6L607.5 392.7L608 393L608.5 393.4L609 394L609.5 394.6L610 395.2L610.5 395.7L611 396L611.5 396.2L612 396.1L612.5 396L613 395.7L613.5 395.5L614 395.3L614.5 395.1L615 394.9L615.5 394.9L616 395L616.5 395.2L617 395.4L617.5 395.6L618 395.8L618.5 395.9L619 396L619.5 395.9L620 395.8L620.5 395.7L621 395.5L621.5 395.4L622 395.2L622.5 395.2L622.9 395.4L623 395.6L623.5 396.1L624 396.7L624.5 397.3L625 398L625.5 398.7L626 399.4L626.5 400.1L627 400.9L627.5 401.5L628 402.1L628.5 402.4L629 402.6L629.5 402.6L630 402.5L630.5 402.2L631 401.8L631.5 401.4L632 401L632.5 400.7L633 400.5L633.5 400.5L634 400.7L634.5 401.1L635 401.7L635.5 402.4L636 403.1L636.5 403.8L636.9 404.4L637 404.8L637.5 405.2L638 405.5L638.5 405.7L639 405.8L639.5 405.8L640 405.8L640.5 405.8L641 405.7L641.5 405.6L642 405.4L642.5 405.1L643 404.7L643.5 404.4L644 404.1L644.5 403.8L645 403.7L645.5 403.8L646 404L646.5 404.4L647 405L647.5 405.7L648 406.4L648.5 407.1L649 407.7L649.5 408.2L650 408.4L650.5 408.4L650.9 408.2L651 407.8L651.5 407.5L652 407.3L652.5 407.3L653 407.5L653.5 407.9L654 408.3L654.5 408.7L655 409.1L655.5 409.4L656 409.6L656.5 409.7L657 409.6L657.5 409.5L658 409.3L658.5 409L659 408.7L659.5 408.4L660 408.1L660.5 407.8L661 407.7L661.5 407.8L662 408.1L662.5 408.7L663 409.3L663.5 409.8L664 410.2L664.5 410.4L664.9 410.4L665 410.3L665.5 410.4L666 410.4L666.5 410.5L667 410.7L667.5 410.8L668 411L668.5 411.1L669 411.3L669.5 411.3L670 411.4L670.5 411.4L671 411.2L671.5 411.1L672 411L672.5 410.9L673 411L673.5 411.1L674 411.1L674.5 411.2L675 411.2L675.5 411.1L676 410.9L676.5 410.7L677 410.5L677.5 410.4L678 410.5L678.5 410.6L678.8 410.9L679 411.2L679.5 411.7L680 412.2L680.5 412.6L681 412.9L681.5 413.1L682 413.2L682.5 413.1L683 413.1L683.5 413.2L684 413.2L684.5 413.3L685 413.4L685.5 413.5L686 413.6L686.5 413.7L687 413.7L687.5 413.7L688 413.6L688.5 413.5L689 413.5L689.5 413.6L690 413.8L690.5 414.1L691 414.6L691.5 415L692 415.6L692.5 416.1L692.8 416.6L693 416.9L693.5 417.2L694 417.5L694.5 417.7L695 417.9L695.5 418.1L696 418.2L696.5 418.2L697 418.1L697.5 417.9L698 417.7L698.5 417.5L699 417.5L699.5 417.7L700 417.9L700.5 418.1L701 418.3L701.5 418.3L702 418.3L702.5 418.2L703 418.2L703.5 418.2L704 418.4L704.5 418.6L705 418.9L705.5 419.2L706 419.5L706.5 419.8L706.8 419.9L707 420L707.5 420.1L708 420.2L708.5 420.1L709 419.9L709.5 419.7L710 419.5L710.5 419.3L711 419.2L711.5 419.2L712 419.3L712.5 419.4L713 419.6L713.5 419.6L714 419.5L714.5 419.3L715 419.1L715.5 419L716 418.9L716.5 419L717 419.3L717.5 419.6L718 419.9L718.5 420.2L719 420.4L719.5 420.4L720 420.3L720.5 420.2L721 420L721.5 419.9L722 419.9L722.5 420.1L723 420.3L723.5 420.5L724 420.8L724.5 421.1L725 421.5L725.5 421.9L726 422.3L726.5 422.7L727 423L727.5 423.2L728 423.4L728.5 423.4L729 423.3L729.5 423.3L730 423.3L730.5 423.3L731 423.4L731.5 423.6L732 423.7L732.5 423.9L733 424.1L733.5 424.2L734 424.4L734.5 424.6L735 424.8L735.5 424.9L736 425.1L736.5 425.2L737 425.2L737.5 425.1L738 424.9L738.5 424.7L739 424.5L739.5 424.3L740 424.2L740.5 424.2L741 424.1L741.5 424.1L742 424L742.5 423.9L743 423.8L743.5 423.8L744 423.9L744.5 424.1L745 424.4L745.5 424.6L746 424.8L746.5 425L747 425.3L747.5 425.5L748 425.9L748.5 426.2L749 426.6L749.5 426.9L750 427.1L750.5 427.1L751 427.1L751.5 427L752 426.9L752.5 426.9L753 427.2L753.5 427.6L754 428.1L754.5 428.6L755 429.1L755.5 429.4L756 429.5L756.5 429.4L757 429.1L757.5 428.7L758 428.2L758.5 427.8L759 427.6L759.5 427.5L760 427.5L760.5 427.6L760.9 427.6L761 427.5L761.5 427.4L762 427.3L762.5 427.3L763 427.2L763.5 427.3L764 427.5L764.5 427.9L765 428.3L765.5 428.6L766 428.9L766.5 429.1L767 429.1L767.5 428.9L768 428.7L768.5 428.4L769 428.2L769.5 428.1L770 428L770.5 428L771 428L771.5 428L772 428.2L772.5 428.3L773 428.5L773.5 428.7L774 429L774.5 429.3L775 429.5L775.5 429.7L776 429.7L776.5 429.8L777 429.8L777.5 429.8L778 429.8L778.5 429.8L779 429.9L779.5 429.9L780 429.8L780.5 429.8L781 429.7L781.5 429.6L782 429.6L782.5 429.7L783 429.8L783.5 430L784 430.2L784.5 430.4L785 430.7L785.5 430.7L786 430.8L786.5 430.7L787 430.6L787.5 430.5L788 430.5L788.5 430.6L788.8 430.7L789 430.8L789.5 431.1L790 431.4L790.5 431.7L791 432L791.5 432.1L792 432.2L792.5 432.2L793 432.2L793.5 432.2L794 432.2L794.5 432.2L795 432.2L795.5 432.3L796 432.2L796.5 432.2L797 432.1L797.5 432L798 431.8L798.5 431.5L799 431.3L799.5 431L800 430.8L800.5 430.5L801 430.2L801.5 429.9L802 429.6L802.5 429.3L803 429.1L803.5 429L804 429L804.5 429.1L805 429.3L805.5 429.6L806 429.8L806.5 430.1L807 430.3L807.5 430.4L808 430.4L808.5 430.3L809 430.1L809.5 430L810 429.8L810.5 429.7L811 429.8L811.5 430L812 430.4L812.5 431L813 431.5L813.5 432L814 432.2L814.5 432.1L815 431.8L815.5 431.4L816 430.9L816.5 430.4L816.8 430.1L817 430.1L817.5 430.2L818 430.5L818.5 430.8L819 431.2L819.5 431.6L820 431.9L820.5 432.1L821 432.3L821.5 432.4L822 432.4L822.5 432.4L823 432.4L823.5 432.3L824 432.3L824.5 432.3L825 432.4L825.5 432.4L826 432.6L826.5 432.7L827 432.7L827.5 432.7L828 432.6L828.5 432.5L829 432.4L829.5 432.2L830 432.2L830.5 432.1L831 432L831.5 432.1L832 432.1L832.5 432.2L833 432.3L833.5 432.3L834 432.4L834.5 432.5L835 432.6L835.5 432.7L836 432.7L836.5 432.7L837 432.5L837.5 432.3L838 432L838.5 431.8L839 431.5L839.5 431.4L840 431.4L840.5 431.6L841 431.9L841.5 432.2L842 432.6L842.5 432.9L843 433.1L843.5 433.2L844 433.3L844.5 433.3L845 433.2L845.5 433L846 432.8L846.5 432.7L847 432.5L847.5 432.5L848 432.4L848.5 432.5L849 432.5L849.5 432.6L850 432.6L850.5 432.6L851 432.7L851.5 432.8L852 433L852.5 433.3L853 433.4L853.5 433.4L854 433.4L854.5 433.2L855 433.1L855.5 433L856 432.9L856.5 433L857 433L857.5 433.1L858 433.1L858.5 433.2L859 433.3L859.5 433.3L860 433.4L860.5 433.5L861 433.5L861.5 433.5L862 433.4L862.5 433.2L863 432.9L863.5 432.6L864 432.3L864.5 432L865 431.7L865.5 431.4L866 431.3L866.5 431.1L867 431L867.5 431L868 431L868.5 431.2L869 431.3L869.5 431.5L870 431.8L870.5 432.1L871 432.5L871.5 432.9L872 433.1L872.5 433.4L873 433.5L873.5 433.5L874 433.4L874.5 433.4L875 433.4L875.5 433.4L876 433.6L876.5 433.6L877 433.6L877.5 433.5L878 433.3L878.5 433.1L879 432.8L879.5 432.7L880 432.8L880.5 433L881 433.3L881.5 433.7L882 434.1L882.5 434.5L883 434.7L883.5 434.9L884 435L884.5 434.9L885 434.8L885.5 434.7L886 434.6L886.5 434.4L887 434.2L887.5 434L888 433.7L888.5 433.5L889 433.2L889.5 432.9L890 432.7L890.5 432.6L891 432.5L891.5 432.4L892 432.4L892.5 432.3L893 432.2L893.5 432.1L894 432L894.5 431.9L895 431.9L895.5 432L896 432.1L896.5 432.3L897 432.6L897.5 432.9L898 433.2L898.5 433.6L899 433.9L899.5 434.1L900 434.2L900.5 434.2L901 434.1L901.5 434L902 434L902.5 434L903 434.2L903.5 434.3L904 434.4L904.5 434.5L905 434.3L905.5 434.1L906 433.8L906.5 433.5L907 433.4L907.5 433.5L908 433.9L908.5 434.4L909 434.9L909.5 435.5L910 435.9L910.5 436.1L911 436.1L911.5 436.1L912 435.9L912.5 435.8L913 435.5L913.5 435.3L914 435L914.5 434.7L915 434.5L915.5 434.4L916 434.3L916.5 434.4L917 434.5L917.5 434.5L918 434.6L918.5 434.8L919 434.9L919.5 435.1L920 435.3L920.5 435.6L921 435.7L921.5 435.7L922 435.7L922.5 435.5L923 435.4L923.5 435.2L924 435.1L924.5 435.1L925 435.2L925.5 435.3L926 435.5L926.5 435.7L927 435.7L927.5 435.7L928 435.5L928.5 435.3L929 435.1L929.5 435L930 435L930.5 435.1L931 435.3L931.5 435.6L932 435.8L932.5 435.9L933 436L933.5 436L934 435.9L934.5 435.7L935 435.6L935.5 435.3L936 435.1L936.5 434.8L937 434.4L937.5 434.1L938 433.8L938.5 433.5L939 433.4L939.5 433.3L940 433.4L940.5 433.7L941 434.2L941.5 434.8L942 435.3L942.5 435.9L943 436.3L943.5 436.5L944 436.5L944.5 436.3L945 436.1L945.5 435.7L946 435.5L946.5 435.3L947 435.3L947.5 435.5L948 435.7L948.5 435.9L949 436.1L949.5 436.3L950 436.4L950.5 436.4L951 436.4L951.5 436.3L952 436.1L952.5 436L953 435.9L953.5 435.9L954 436L954.5 436.3L955 436.6L955.5 437L956 437.3L956.5 437.5L957 437.6L957.5 437.6L958 437.6L958.5 437.5L959 437.5L959.5 437.5L960 437.5L960.5 437.6L961 437.6L961.5 437.7L962 437.8L962.5 437.8L963 437.9L963.5 437.9L964 437.9L964.5 437.9L965 437.7L965.5 437.5L966 437.3L966.5 437L967 436.7L967.5 436.5L968 436.5L968.5 436.6L969 436.8L969.5 437.2L970 437.6L970.5 437.9L971 438.2L971.5 438.3L972 438.4L972.5 438.3L973 438.1L973.5 438L974 437.8L974.5 437.7L975 437.6L975.5 437.7L976 437.8L976.5 438L977 438.2L977.5 438.3L978 438.4L978.5 438.4L979 438.3L979.5 438.2L980 438L980.5 437.9L981 437.8L981.5 437.9L982 438L982.5 438.1L983 438.2L983.5 438.2L984 438.2L984.5 438.1L985 437.9L985.5 437.7L986 437.5L986.5 437.5L987 437.6L987.5 437.8L988 438.1L988.5 438.4L989 438.7L989.5 438.9L990 439L990.5 438.9L991 438.8L991.5 438.7L992 438.5L992.5 438.3L993 438.1L993.5 438L994 437.9L994.5 437.9L995 437.8L995.5 437.8L996 437.7L996.5 437.6L997 437.6L997.5 437.5L998 437.5L998.5 437.4L999 437.4L999.5 437.4L1000 437.5L1000.5 437.7L1001 437.9L1001.5 438.3L1002 438.5L1002.5 438.7L1003 438.8L1003.5 438.7L1004 438.6L1004.5 438.6L1005 438.6L1005.5 438.8L1006 439.1L1006.5 439.5L1007 439.8L1007.5 440.1L1008 440.3L1008.5 440.3L1009 440.2L1009.5 440L1010 439.7L1010.5 439.4L1011 439.1L1011.5 438.8L1012 438.6L1012.5 438.5L1013 438.4L1013.5 438.4L1014 438.5L1014.5 438.7L1015 439L1015.5 439.3L1016 439.5L1016.5 439.8L1017 439.9L1017.5 439.9L1018 439.9L1018.5 439.7L1019 439.6L1019.5 439.5L1020 439.5L1020.5 439.6L1021 439.7L1021.5 439.8L1022 439.9L1022.5 439.9L1023 439.7L1023.5 439.5L1024 439.2L1024.5 438.9L1025 438.7L1025.5 438.5L1026 438.5L1026.5 438.4L1027 438.5L1027.5 438.5L1028 438.6L1028.5 438.7L1029 438.8L1029.5 439L1030 439.1L1030.5 439.4L1031 439.6L1031.5 439.8L1032 439.9" fill="none" stroke="#000" stroke-width="3.8" stroke-linejoin="round" stroke-linecap="round"/>
<path d="M159.5 386L160 387.5L160.5 389.1L161 390.9L161.5 392.8L162 393.9L162.5 395L163 396.2L163.4 397L163.5 395.6L164 395L164.5 394.6L165 394.9L165.5 395.5L166 397.6L166.5 399.9L167 401.3L167.5 402.7L168 404.1L168.5 405.3L169 406.6L169.5 407.2L170 407.2L170.5 406.9L171 407.5L171.5 408.2L172 408L172.5 408L173 408.7L173.5 409.3L174 409L174.5 408.7L175 406L175.5 403.5L176 406.4L176.5 409.4L177 410.3L177.5 411.1L178 411.6L178.5 411.9L179 408.8L179.5 405.8L180 406.1L180.5 406.4L181 406.8L181.5 407.2L182 410.7L182.5 414.3L183 414.9L183.5 415.3L184 415.4L184.5 415.6L185 417.2L185.5 418.8L186 419.2L186.5 419.4L187 416.7L187.5 413.7L188 413.6L188.5 413.3L189 413L189.5 412.8L190 415.6L190.5 418.5L191 418.4L191.5 418.5L192 418.2L192.5 417.8L193 418L193.5 418.1L194 418.2L194.5 418.3L195 417.7L195.5 417.4L196 417.9L196.5 418.7L197 419.2L197.5 419.5L198 419.7L198.5 419.8L199 419.5L199.5 419L200 418.3L200.5 417.4L201 416.4L201.5 415.6L202 415.1L202.5 414.8L203 414.6L203.5 414.6L204 415.2L204.5 415.8L205 415.6L205.5 415.3L206 415.1L206.5 414.7L207 411.4L207.5 408L208 407.5L208.5 407.2L209 407L209.5 406.8L210 410.4L210.5 414L211 413.7L211.5 413.2L212 409.4L212.5 405.5L213 405.3L213.5 405L214 408.4L214.5 411.8L215 410.7L215.5 409.4L216 409.2L216.5 408.9L217 408.1L217.5 407.4L217.9 407.1L218 407L218.5 407.2L219 406.5L219.5 405.9L220 406.2L220.5 406.5L221 407.9L221.5 409.2L222 409.1L222.5 408.9L223 408.9L223.5 408.9L224 408.6L224.5 408.4L224.9 408.2L225 408.1L225.5 407.6L226 407.3L226.5 407L227 405.8L227.5 404.9L228 405.3L228.5 405.8L229 405.4L229.5 405L230 405.5L230.5 406.1L231 404.4L231.5 402.7L231.8 402.8L232 402.9L232.5 403.1L233 405.3L233.5 407.6L234 407.7L234.5 407.9L235 407.4L235.5 406.8L236 407.5L236.5 408.2L237 408.5L237.5 409.1L238 407.3L238.5 405.6L238.8 407.6L239 408.9L239.5 411.4L240 411.4L240.5 411.2L241 410.1L241.5 408.9L242 408.9L242.5 408.8L243 408.3L243.5 407.8L244 406.3L244.5 404.9L245 405.1L245.5 405.4L245.8 405.3L246 405.3L246.5 405.2L247 405L247.5 404.7L248 404.6L248.5 404.3L249 403.4L249.5 402.4L250 402.5L250.5 402.7L251 402.8L251.5 402.9L252 400.1L252.5 397.3L252.8 397.7L253 397.7L253.5 397.2L254 396.6L254.5 395.9L255 397.9L255.5 399.8L256 399.5L256.5 399.3L257 398.9L257.5 398.4L258 397.6L258.5 396.8L259 396.2L259.5 395.7L259.8 395.5L260 395.1L260.5 394.1L261 392.6L261.5 391L262 390L262.5 389L263 387.9L263.5 386.7L264 385.3L264.5 383.9L265 382.7L265.4 382L265.5 381.6L266 379.9L266.5 378.3L267 376L267.5 373.8L268 372.9L268.5 371.9L269 371L269.5 369.9L270 370.6L270.5 371.4L271 370.2L271.5 369L272 366L272.5 362.9L272.9 363L273 362.5L273.5 360.3L274 359.6L274.5 358.8L275 356.7L275.5 354.6L276 352L276.5 349.5L277 347.8L277.3 346.8L277.5 345.9L278 344.4L278.5 342.9L279 339.9L279.5 337L280 337.3L280.5 337.6L281 336.1L281.4 335.2L281.5 334.8L282 332.9L282.5 331.1L283 328.3L283.5 325.5L284 323.5L284.5 321.5L284.7 320.6L285 319.4L285.5 317.6L286 316.5L286.5 315.4L287 314.5L287.5 313.6L288 311.9L288.3 311.9L288.5 311.2L289 308.2L289.5 305L290 302.8L290.5 300.4L291 299.1L291.5 297.9L292 295.5L292.5 293.2L293 290.9L293.4 289.1L293.5 288L294 284.3L294.5 280.6L295 278.8L295.5 276.9L296 275.1L296.5 273.3L297 273.1L297.5 272.8L297.6 272.7L298 271L298.5 269.1L299 267.5L299.5 266.1L300 264L300.5 261.9L300.6 261.7L301 262.1L301.5 263.4L302 262.7L302.5 261.9L303 265.3L303.5 268.7L304 269.8L304.5 270.9L305 272.2L305.2 272.8L305.5 273.9L306 275.1L306.5 276.5L307 279.1L307.5 281.7L308 283.3L308.5 284.7L309 285.3L309.5 285.7L310 287.3L310.1 287.1L310.5 287.3L311 287.9L311.5 288.6L312 286.3L312.5 284.1L313 286.8L313.5 289.5L314 290.3L314.5 291.1L315 291.3L315.5 291.6L316 293.3L316.5 295L317 296L317.5 297.1L317.8 297.7L318 298.2L318.5 299.2L319 298.8L319.5 298.5L320 299.5L320.5 300.4L321 301.4L321.5 302.2L322 304.2L322.5 306.2L323 307.3L323.5 308.5L324 307L324.5 305.4L325 306L325.1 306L325.5 306.2L326 306.4L326.5 306.3L327 307.9L327.5 309.4L328 310L328.5 310.7L329 311L329.5 311.7L330 312.6L330.5 313.8L331 314.3L331.5 314.8L332 316.2L332.1 317L332.5 318L333 319.9L333.5 321.6L334 322.7L334.5 323.7L335 325L335.5 326.3L336 325.8L336.5 325.3L337 328.3L337.5 331.1L338 332L338.5 332.7L339 333.7L339.5 334.8L340 335.8L340.5 336.8L341 338.4L341.5 340L342 340.8L342.5 341.6L343 343.4L343.5 345.3L344 347.7L344.5 350.1L344.8 351.4L345 351.4L345.5 352.9L346 353.8L346.5 354.6L347 355.1L347.5 355.7L348 356.4L348.5 357.3L349 358.9L349.5 360.6L350 361.9L350.5 363.3L351 364L351.5 364.6L352 365.5L352.5 365.6L353 366.7L353.5 367.8L354 367.9L354.5 367.9L355 367L355.5 366.2L356 368.2L356.5 370.3L357 370.9L357.5 371.6L358 371.3L358.5 370.9L359 371.5L359.5 371.8L360 372.2L360.5 372.7L361 374L361.5 375.4L362 376.3L362.5 377.3L363 377.6L363.5 377.9L364 378.8L364.5 379.6L365 379.6L365.5 379.6L366 379.9L366.5 380.5L367 380.9L367.5 381.4L368 381.3L368.5 381.3L369 383.7L369.5 386.1L370 386.9L370.5 387.5L371 387.9L371.5 388.1L372 388L372.5 388.1L372.9 388.5L373 388.6L373.5 389.6L374 390.4L374.5 391.3L375 392.3L375.5 393.2L376 394.3L376.5 395.3L377 394.3L377.5 393.3L378 395.9L378.5 398.4L379 399.2L379.5 399.9L379.9 399.9L380 399.5L380.5 399L381 398.8L381.5 398.7L382 399.2L382.5 399.7L383 399L383.5 398.4L384 398.7L384.5 399L385 398.8L385.5 398.4L386 398.4L386.5 398.3L386.9 398.3L387 398.1L387.5 398.2L388 398.2L388.5 398.4L389 398.2L389.5 398.1L390 398.4L390.5 398.7L391 398.9L391.5 399L392 397.7L392.5 396.3L393 396.3L393.5 396.4L393.9 397.7L394 398L394.5 399.5L395 399.6L395.5 399.7L396 399.4L396.5 399.1L397 398.1L397.5 397.2L398 397.6L398.5 398L399 397.8L399.5 397.6L400 397.8L400.5 398.1L400.9 398L401 398.1L401.5 398.3L402 398.6L402.5 398.9L403 399.1L403.5 399.3L404 399.3L404.5 399.3L405 398.5L405.5 397.7L406 397.6L406.5 397.5L407 398.4L407.5 399.4L407.9 399.2L408 399L408.5 398.9L409 398.5L409.5 398L410 398L410.5 398.1L411 398.5L411.5 399.1L412 399.3L412.5 399.6L413 400.3L413.5 400.8L414 401.6L414.5 402.3L414.9 401.9L415 401.7L415.5 401.1L416 401.6L416.5 401.9L417 402.1L417.5 402.2L418 402.3L418.5 402.3L419 402.3L419.5 402.3L420 401.9L420.5 401.6L421 402L421.5 402.4L421.8 402.6L422 402.6L422.5 402.6L423 403.4L423.5 404.1L424 403.9L424.5 403.7L425 403.8L425.5 403.9L426 404.1L426.5 404.4L427 404.1L427.5 403.8L428 403.9L428.5 404L428.8 404.5L429 405L429.5 406.3L430 407L430.5 407.8L431 409L431.5 410L432 410.8L432.5 411.5L433 411.5L433.5 411.6L434 412.7L434.5 413.9L435 415L435.5 416.1L435.8 416.4L436 416.6L436.5 416.9L437 417.2L437.5 417.4L438 417.7L438.5 417.8L439 417.6L439.5 417.5L440 416.6L440.5 416L441 416.7L441.5 417.6L442 418.3L442.5 419L442.8 420.1L443 420.7L443.5 422.5L444 423L444.5 423.5L445 424.4L445.5 425.2L446 425.6L446.5 426L447 426.8L447.5 427.7L448 428.5L448.5 429.1L449 430.4L449.5 431.4L449.8 431.5L450 431.4L450.5 431.3L451 431.2L451.5 431.1L452 431.1L452.5 431L453 430.5L453.5 430.1L454 430.3L454.5 430.6L455 430.9L455.5 431.3L456 431.3L456.5 431.3L456.8 431.8L457 432L457.5 432.2L458 432.5L458.5 432.6L459 432.5L459.5 432.4L460 432.2L460.5 431.9L461 431.4L461.5 430.9L462 431L462.5 431.3L463 432.1L463.5 432.8L464 432.9L464.5 433L465 433L465.5 433.1L466 434L466.5 435.1L467 434.7L467.5 434.2L468 434.6L468.5 434.6L469 434.5L469.5 434.2L470 434.5L470.5 434.8L471 434.5L471.5 434.3L472 434.2L472.5 434.3L473 434L473.5 434L474 434.8L474.5 435.8L475 436.7L475.5 437.5L476 438.6L476.5 439.4L477 439.7L477.5 439.9L478 439.7L478.5 439.6L479 439.7L479.5 439.7L480 439.5L480.5 439.3L481 440.5L481.5 441.9L482 441.9L482.5 441.9L482.9 441.8L483 441.8L483.5 441.5L484 439.7L484.5 437.8L485 440.5L485.5 443.2L486 443.3L486.5 443.5L487 443L487.5 442.6L488 440.7L488.5 438.8L489 438.8L489.5 438.8L490 438.8L490.5 438.8L491 440.5L491.5 442.1L492 442.5L492.5 443L493 442.7L493.5 442.5L494 441.5L494.5 440.7L495 442.7L495.5 444.7L496 445.2L496.5 445.6L496.9 446L497 446.2L497.5 446.4L498 446.3L498.5 446.2L499 446.9L499.5 447.5L500 447.1L500.5 446.6L501 446.7L501.5 446.6L502 445.8L502.5 445.3L503 445.7L503.5 446.3L504 446.2L504.5 446.1L505 446.4L505.5 446.7L506 447.3L506.5 447.9L507 448.3L507.5 448.6L508 448.8L508.5 448.8L509 449.2L509.5 449.6L510 448.6L510.5 447.6L510.9 448.3L511 448.6L511.5 449.7L512 449.8L512.5 449.9L513 450.3L513.5 450.6L514 451.3L514.5 452L515 451.3L515.5 450.6L516 451.6L516.5 452.7L517 452.9L517.5 453.3L518 453.7L518.5 454L519 455L519.5 455.9L520 455.8L520.5 455.4L521 455.2L521.5 454.8L522 454.3L522.5 453.9L523 453.8L523.5 453.8L524 453.6L524.5 453.4L524.9 453.4L525 453.6L525.5 453.6L526 454.3L526.5 455L527 455L527.5 454.9L528 454.1L528.5 453.1L529 453.1L529.5 453L530 452.9L530.5 452.7L531 454L531.5 455.4L532 455.5L532.5 455.7L533 455.9L533.5 456.1L534 456L534.5 455.8L535 454.7L535.5 453.7L536 453.8L536.5 454.1L537 454.5L537.5 455.2L538 457L538.5 458.8L538.8 459.5L539 460L539.5 460.6L540 460.5L540.5 460.3L541 459.6L541.5 458.7L542 458.5L542.5 458.3L543 458.8L543.5 459.3L544 459.6L544.5 459.8L545 459.4L545.5 459.1L546 459.6L546.5 460.2L547 460.5L547.5 460.8L548 460.4L548.5 459.9L549 459.9L549.5 459.8L550 459.7L550.5 459.5L551 460.4L551.5 461.5L552 462L552.5 462.7L552.8 463L553 463.4L553.5 463.4L554 464.3L554.5 464.9L555 464.9L555.5 464.8L556 461.9L556.5 459.1L557 459.3L557.5 459.5L558 462.6L558.5 465.6L559 465.5L559.5 465.3L560 465.5L560.5 465.5L561 465.7L561.5 465.8L562 465.3L562.5 464.7L563 464L563.5 463.4L564 463.9L564.5 464.4L565 465.1L565.5 465.9L566 466.1L566.5 466.3L566.8 465.9L567 465.6L567.5 464.9L568 464.8L568.5 464.8L569 464.9L569.5 465L570 465.8L570.5 466.5L571 466.5L571.5 466.4L572 466.1L572.5 465.9L573 465.9L573.5 466.1L574 465.3L574.5 464.8L575 465.9L575.5 467.1L576 468.1L576.5 469L577 469.6L577.5 470.1L578 470L578.5 469.9L579 470.2L579.5 470.4L580 470.4L580.5 470.3L581 470.2L581.5 470.1L582 470.6L582.5 471.1L583 470.9L583.5 470.6L584 470.4L584.5 470.1L585 470.6L585.5 471L586 470.3L586.5 469.8L587 469.8L587.5 470L588 470.6L588.5 471.3L589 471.9L589.5 472.4L590 471.4L590.5 470.3L591 470.7L591.5 471L592 472.7L592.5 474.2L592.9 473.7L593 473.3L593.5 472.7L594 472.7L594.5 472.7L595 472.7L595.5 472.7L596 473.1L596.5 473.5L597 473.5L597.5 473.4L598 473.7L598.5 473.9L599 474.5L599.5 475.3L600 475.5L600.5 475.9L601 476.8L601.5 477.8L602 478.5L602.5 479.1L603 479.1L603.5 479L604 476.6L604.5 474.1L605 473.7L605.5 473.4L606 473.2L606.5 473.2L606.9 475.2L607 475.7L607.5 478.4L608 478.2L608.5 477.9L609 478.3L609.5 478.7L610 479L610.5 479.2L611 479.9L611.5 480.6L612 480.1L612.5 479.6L613 479.4L613.5 479.2L614 478.9L614.5 478.8L615 478.7L615.5 478.7L616 479.3L616.5 479.9L617 479.9L617.5 480L618 480.4L618.5 480.9L619 480.6L619.5 480.2L620 480.7L620.5 481.1L620.9 482.2L621 482.4L621.5 483.7L622 483.5L622.5 483.4L623 483.8L623.5 484.3L624 483.8L624.5 483.3L625 483.4L625.5 483.4L626 484L626.5 484.6L627 483.6L627.5 482.6L628 482.9L628.5 483.3L629 483.3L629.5 483.3L630 483.1L630.5 482.8L631 482.9L631.5 483L632 483.2L632.5 483.5L633 484L633.5 484.5L634 485.1L634.5 485.5L634.9 485.3L635 485.2L635.5 484.9L636 483.6L636.5 482.5L637 482.7L637.5 483.1L638 485L638.5 486.9L639 487L639.5 487L640 486.8L640.5 486.5L641 486.4L641.5 486.2L642 485.9L642.5 485.5L643 485.8L643.5 486.3L644 486.5L644.5 486.9L645 487.5L645.5 488.1L646 489L646.5 489.9L647 489.8L647.5 489.6L648 489.7L648.5 489.7L648.8 489.7L649 489.8L649.5 489.9L650 490.3L650.5 490.9L651 491.1L651.5 491.4L652 491.7L652.5 491.9L653 491L653.5 490.1L654 490.8L654.5 491.5L655 491.3L655.5 491.3L656 489.5L656.5 487.9L657 488.1L657.5 488.2L658 490.1L658.5 491.8L659 491.8L659.5 491.8L660 491.6L660.5 491.6L661 491.7L661.5 492L662 490.9L662.5 489.9L662.8 490.1L663 490.3L663.5 490.5L664 490.7L664.5 490.8L665 491.8L665.5 492.9L666 493.4L666.5 494L667 494.2L667.5 494.2L668 494.1L668.5 493.8L669 494L669.5 494L670 493.3L670.5 492.6L671 491.6L671.5 490.7L672 491.3L672.5 492.1L673 492.2L673.5 492.4L674 492.6L674.5 492.8L675 493.1L675.5 493.3L676 493L676.5 492.7L676.8 492.7L677 492.7L677.5 493L678 493.1L678.5 493.4L679 493.6L679.5 493.8L680 494L680.5 494.1L681 494.4L681.5 494.6L682 494.5L682.5 494.4L683 494.6L683.5 494.9L684 494.5L684.5 494.3L685 494.7L685.5 495.2L686 493.4L686.5 491.7L687 493.6L687.5 495.5L688 495.9L688.5 496.2L689 494.3L689.5 492.5L690 492.6L690.5 492.8L691 493L691.5 493L692 495.2L692.5 497.4L693 497.6L693.5 497.9L694 496.9L694.5 495.9L695 497.2L695.5 498.4L696 498L696.5 497.5L697 496.5L697.5 495.5L698 496.7L698.5 498L699 498.3L699.5 498.7L700 498.4L700.5 498.2L701 497.8L701.5 497.4L702 499.2L702.5 500.9L702.9 500.5L703 500.1L703.5 499.2L704 499.4L704.5 499.6L705 500.1L705.5 500.8L706 501L706.5 501.3L707 501.2L707.5 501.1L708 501.4L708.5 501.8L709 502.1L709.5 502.2L710 503.3L710.5 504.2L711 504.2L711.5 504.2L712 503.4L712.5 502.6L713 502.6L713.5 502.6L714 503.5L714.5 504.4L715 504.5L715.5 504.5L716 503.5L716.5 502.5L716.9 502.8L717 502.7L717.5 503.2L718 503L718.5 502.8L719 503.2L719.5 503.7L720 503.5L720.5 503.3L721 503.4L721.5 503.5L722 504.4L722.5 505.1L723 504.5L723.5 503.8L724 504L724.5 504.1L725 504.9L725.5 505.9L726 505.4L726.5 504.9L727 505.8L727.5 506.8L728 507L728.5 507.2L729 505.4L729.5 503.6L730 505.2L730.5 506.7L730.9 506.7L731 506.7L731.5 506.8L732 507.1L732.5 507.5L733 508L733.5 508.3L734 508.1L734.5 507.7L735 506L735.5 504.2L736 504L736.5 504L737 505.4L737.5 506.9L738 506.9L738.5 506.8L739 506.7L739.5 506.7L740 506.4L740.5 506.3L741 506.3L741.5 506.4L742 506.7L742.5 506.9L743 507.5L743.5 507.9L744 508.4L744.5 508.7L744.9 507.7L745 507.2L745.5 505.8L746 505.5L746.5 505.3L747 505.2L747.5 505.1L748 505.9L748.5 506.7L749 507.4L749.5 508.1L750 508.1L750.5 508L751 508.2L751.5 508.3L752 508.2L752.5 508.1L753 507.3L753.5 506.5L754 506.1L754.5 505.8L755 506.2L755.5 506.8L756 506.1L756.5 505.5L757 506.7L757.5 507.9L758 506.7L758.5 505.4L758.8 505.6L759 505.8L759.5 506.1L760 506.3L760.5 506.5L761 508.4L761.5 510.1L762 510L762.5 509.7L763 507.3L763.5 504.8L764 504.4L764.5 504.1L765 503.8L765.5 503.7L766 505.9L766.5 508.3L767 508.3L767.5 508.5L768 508.8L768.5 509L769 509.2L769.5 509.3L770 507.9L770.5 506.5L771 506.5L771.5 506.5L772 506.6L772.5 506.6L772.8 507.3L773 507.8L773.5 509L774 509.1L774.5 509.4L775 509.5L775.5 509.7L776 510.1L776.5 510.4L777 509.7L777.5 508.9L778 508.9L778.5 508.9L779 510L779.5 511.2L780 510.9L780.5 510.5L781 510.5L781.5 510.4L782 510.3L782.5 510.3L783 510.2L783.5 510.2L784 510.5L784.5 510.9L785 511.4L785.5 511.9L786 513.1L786.5 514.1L786.8 514L787 513.8L787.5 513.2L788 512.9L788.5 512.7L789 512.5L789.5 512.5L790 512.5L790.5 512.5L791 512.1L791.5 511.8L792 512.1L792.5 512.5L793 512.6L793.5 512.9L794 513.2L794.5 513.7L795 513.9L795.5 514.1L796 514.4L796.5 514.6L797 515.1L797.5 515.4L798 513.7L798.5 511.9L799 511.6L799.5 511.3L800 512.2L800.5 513.2L801 513L801.5 513L802 512.6L802.5 512.3L803 512.4L803.5 512.6L804 511.8L804.5 510.9L805 510.7L805.5 510.6L806 510.4L806.5 510.3L807 510.5L807.5 510.7L808 511.3L808.5 512L809 512.2L809.5 512.5L810 509.4L810.5 506.3L811 506.5L811.5 506.7L812 510.1L812.5 513.5L813 513.1L813.5 512.8L814 513.4L814.5 514.1L815 513.7L815.5 513.1L816 513.4L816.5 513.5L817 512.8L817.5 512L818 512.2L818.5 512.5L819 512.5L819.5 512.7L820 510.4L820.5 508.1L821 508.3L821.5 508.4L822 508.4L822.5 508.2L823 510.3L823.5 512.3L824 512L824.5 511.7L825 511.7L825.5 511.8L826 511.5L826.5 511.4L827 511.1L827.5 510.9L828 511.4L828.5 511.9L829 512.4L829.5 512.8L830 513.7L830.5 514.5L831 514.5L831.5 514.6L832 515L832.5 515.5L833 515.5L833.5 515.4L834 514.5L834.5 513.4L835 513.8L835.5 514.3L836 513.9L836.5 513.8L837 514.2L837.5 514.8L838 515.1L838.5 515.3L839 514.9L839.5 514.4L840 513.5L840.5 512.6L840.9 512.6L841 512.5L841.5 512.5L842 513.2L842.5 513.8L843 513.1L843.5 512.5L844 513.3L844.5 514.3L845 514.4L845.5 514.6L846 514.9L846.5 515.2L847 514.3L847.5 513.4L848 515.2L848.5 516.9L849 516.6L849.5 516.3L850 515.4L850.5 514.6L851 514.3L851.5 514L852 513.5L852.5 513.2L853 512.4L853.5 511.7L854 511.9L854.5 512.2L855 512.3L855.5 512.4L856 511.7L856.5 511.1L857 511.8L857.5 512.5L858 512.5L858.5 512.6L859 512.8L859.5 513.1L860 513.2L860.5 513.4L861 514L861.5 514.6L862 514.9L862.5 515.1L863 515.1L863.5 515L864 515.3L864.5 515.4L865 516.3L865.5 517L866 516.7L866.5 516.4L867 515.2L867.5 514.2L868 514.3L868.5 514.6L869 515L869.5 515.4L870 514.9L870.5 514.5L871 514.8L871.5 515L872 513.4L872.5 511.7L873 513.2L873.5 514.7L874 514.6L874.5 514.6L875 515L875.5 515.6L876 515.4L876.5 515.3L877 516L877.5 516.6L878 516.4L878.5 516.1L879 516L879.5 515.9L880 516.3L880.5 516.7L881 516.1L881.5 515.7L882 515.6L882.5 515.6L883 515.4L883.5 515.3L884 515.1L884.5 515.1L885 514.8L885.5 514.6L886 515.8L886.5 517L887 517.4L887.5 517.7L888 515.4L888.5 512.9L889 512.7L889.5 512.4L890 514.2L890.5 516L891 515L891.5 514.2L892 514.3L892.5 514.6L893 514.1L893.5 513.7L894 513.9L894.5 514.1L895 515.2L895.5 516.2L896 516.2L896.5 516.1L897 515.2L897.5 514.3L898 514.2L898.5 514.1L899 514.8L899.5 515.5L900 515.4L900.5 515.2L901 515L901.5 514.8L902 514.7L902.5 514.6L903 514.6L903.5 514.7L904 514.5L904.5 514.3L905 514.5L905.5 514.6L906 514.8L906.5 514.9L907 514.6L907.5 514.3L908 514.5L908.5 514.7L909 514.5L909.5 514.4L910 514.7L910.5 515.1L911 515.3L911.5 515.6L912 515.3L912.5 515L913 515.7L913.5 516.3L914 516.4L914.5 516.4L915 516.1L915.5 515.7L916 514.8L916.5 513.9L917 514.1L917.5 514.4L918 514.4L918.5 514.6L919 514.9L919.5 515.2L920 515.6L920.5 515.9L921 515.2L921.5 514.4L922 515.1L922.5 515.8L923 515.6L923.5 515.5L924 515.1L924.5 514.8L925 515L925.5 515.3L926 516.1L926.5 516.9L927 517.2L927.5 517.4L928 516.6L928.5 515.6L929 515.4L929.5 515.1L930 515.5L930.5 516.1L931 516.3L931.5 516.7L932 517L932.5 517.3L933 517.3L933.5 517.4L934 517.6L934.5 517.8L935 516.1L935.5 514.3L936 514.2L936.5 514.1L937 515.5L937.5 517L937.6 517L938 517.2L938.5 517.5L939 517.6L939.5 517.6L940 517.4L940.5 517.1L941 517.1L941.5 517L942 514.7L942.5 512.4L943 512.5L943.5 512.6L944 512.8L944.5 513.1L945 515.6L945.5 518.1L946 518.7L946.5 519.3L947 518.2L947.5 516.9L948 516.7L948.5 516.5L949 517L949.5 517.4L950 517.4L950.5 517.4L951 517.3L951.5 517.3L952 517.2L952.5 517.2L953 517.1L953.5 517L954 517.5L954.5 518.1L955 518.5L955.5 518.9L956 519.1L956.5 519.2L957 519.8L957.5 520.2L958 520.2L958.5 520.1L959 519.9L959.5 519.5L960 518.8L960.5 518L961 517.6L961.5 517.3L962 515.8L962.5 514.5L963 515.7L963.5 517L964 516.8L964.5 516.6L965 514.7L965.5 512.7L966 515.6L966.5 518.3L967 517.8L967.5 517.4L968 516.7L968.5 516.1L969 517.1L969.5 518.1L970 518.1L970.2 518.2L970.5 518.3L971 518.4L971.5 518.5L972 518.3L972.5 518.2L973 518.7L973.5 519.2L974 519.1L974.5 518.9L975 518.7L975.5 518.6L976 518.4L976.5 518.2L977 518.4L977.5 518.6L978 517.5L978.5 516.5L979 516.5L979.5 516.5L980 517.5L980.5 518.6L981 518.9L981.5 519.2L982 519.4L982.5 519.7L983 520.6L983.5 521.4L984 521.8L984.5 522.1L985 521.1L985.5 520L986 521.2L986.5 522.3L987 522.6L987.5 522.8L988 521.9L988.5 520.8L989 520.9L989.5 520.9L990 520.6L990.5 520.3L991 517.5L991.5 514.8L992 514.7L992.5 514.8L993 515L993.5 515.3L994 517.9L994.5 520.5L995 520.7L995.5 520.7L996 520.7L996.5 520.6L997 520.5L997.5 520.5L998 520.4L998.5 520.3L999 520L999.5 519.7L1000 519.7L1000.5 519.6L1001 519.6L1001.5 519.6L1002 520.4L1002.5 521.3L1002.8 521.2L1003 521.3L1003.5 521.1L1004 521.4L1004.5 521.7L1005 521.6L1005.5 521.5L1006 521.8L1006.5 522.2L1007 522.1L1007.5 522.1L1008 522.7L1008.5 523.3L1009 523.6L1009.5 523.7L1010 523.6L1010.5 523.3L1011 522.6L1011.5 521.7L1012 520.9L1012.5 520.1L1013 520L1013.5 520.2L1014 520.5L1014.5 520.9L1015 521.2L1015.5 521.5L1016 521.7L1016.5 521.7L1017 521.7L1017.5 521.6L1018 521.5L1018.5 521.4L1019 521.3L1019.5 521.3L1020 521.2L1020.5 521.2L1021 520.2L1021.5 519.2L1022 520.6L1022.5 522L1023 522.1L1023.5 522L1024 521.7L1024.5 521.3L1025 521.3L1025.5 521.3L1026 521.1L1026.5 520.9L1027 520.7L1027.5 520.4L1028 520.4L1028.5 520.4L1029 521.1L1029.5 521.8L1030 521.7L1030.5 521.7L1031 521.7L1031.5 521.9L1032 522L1032 533.1L1031.5 533L1031 531.1L1030.5 529.2L1030 528.9L1029.5 528.6L1029 528.7L1028.5 528.8L1028 530.6L1027.5 532.3L1027 530.4L1026.5 528.5L1026 528.3L1025.5 528.1L1025 528.2L1024.5 528.3L1024 528.5L1023.5 528.7L1023 530.2L1022.5 531.5L1022 531.4L1021.5 531.3L1021 531.1L1020.5 530.9L1020 529.6L1019.5 528.4L1019 528.4L1018.5 528.4L1018 529L1017.5 529.5L1017 529.7L1016.5 529.9L1016 529.8L1015.5 529.6L1015 529.3L1014.5 529.1L1014 528.8L1013.5 528.7L1013 528.3L1012.5 528L1012 528.6L1011.5 529.3L1011 530.1L1010.5 530.9L1010 531.5L1009.5 531.9L1009 531.2L1008.5 530.4L1008 530.2L1007.5 530L1007 529.8L1006.5 529.8L1006 529.5L1005.5 529.4L1005 529.2L1004.5 529L1004 528.8L1003.5 528.7L1003 528.8L1002.8 528.8L1002.5 528.8L1002 528.6L1001.5 528.5L1001 528.5L1000.5 528.5L1000 528.3L999.5 528L999 527.9L998.5 527.7L998 528L997.5 528.2L997 527.9L996.5 527.7L996 528.7L995.5 529.7L995 529.4L994.5 529L994 528.5L993.5 528L993 527.6L992.5 527.2L992 528.3L991.5 529.6L991 529.7L990.5 530L990 529.3L989.5 528.7L989 529.1L988.5 529.5L988 529.7L987.5 529.7L987 530.1L986.5 530.3L986 531.5L985.5 532.7L985 532.5L984.5 532.3L984 531.9L983.5 531.5L983 529.6L982.5 527.7L982 527.2L981.5 526.7L981 526.4L980.5 526.3L980 526L979.5 525.9L979 526L978.5 526.3L978 526.2L977.5 526.1L977 526.1L976.5 526.1L976 526.2L975.5 526.2L975 526.3L974.5 526.4L974 526.4L973.5 526.3L973 526.5L972.5 526.5L972 526.4L971.5 526.4L971 526.1L970.5 525.9L970.2 525.7L970 525.6L969.5 525.4L969 525.1L968.5 524.9L968 525L967.5 525.1L967 525.9L966.5 526.8L966 526.5L965.5 526.2L965 525.9L964.5 525.4L964 524.9L963.5 524.4L963 524.4L962.5 524.6L962 524.6L961.5 524.8L961 525.9L960.5 527L960 526.9L959.5 526.7L959 527.1L958.5 527.4L958 527.7L957.5 527.8L957 527.4L956.5 526.9L956 526.7L955.5 526.4L955 526.4L954.5 526.3L954 525.7L953.5 525L953 525L952.5 525.1L952 525.3L951.5 525.7L951 525.3L950.5 525.1L950 525.5L949.5 525.8L949 526.8L948.5 527.7L948 527.2L947.5 526.6L947 526.6L946.5 526.5L946 526.3L945.5 526.1L945 526L944.5 526.1L944 525.8L943.5 525.6L943 524.7L942.5 523.9L942 524.2L941.5 524.5L941 524.4L940.5 524.3L940 524.7L939.5 525L939 525.5L938.5 526L938 525.9L937.6 525.9L937.5 526L937 525.6L936.5 525.2L936 527L935.5 528.8L935 528.8L934.5 528.7L934 526.9L933.5 525.1L933 524.7L932.5 524.4L932 524.4L931.5 524.4L931 524.8L930.5 525.4L930 525.6L929.5 525.9L929 525.5L928.5 525L928 524.9L927.5 524.8L927 524.7L926.5 524.6L926 524.3L925.5 524L925 523.7L924.5 523.5L924 523.4L923.5 523.4L923 523.5L922.5 523.6L922 523.9L921.5 524.3L921 524.3L920.5 524.2L920 523.9L919.5 523.5L919 523L918.5 522.7L918 525L917.5 527.6L917 527.7L916.5 528.1L916 528.4L915.5 528.7L915 526.6L914.5 524.3L914 524.1L913.5 523.7L913 523.7L912.5 523.6L912 523.3L911.5 523L911 523.1L910.5 523.2L910 523.1L909.5 523L909 522.8L908.5 522.5L908 522.3L907.5 522.2L907 522.2L906.5 522.3L906 522.4L905.5 522.5L905 523.7L904.5 524.8L904 524.7L903.5 524.6L903 523.5L902.5 522.4L902 522.4L901.5 522.3L901 523.6L900.5 525L900 525.1L899.5 525.2L899 525.3L898.5 525.4L898 524.5L897.5 523.7L897 523.6L896.5 523.5L896 523.7L895.5 523.8L895 523.6L894.5 523.3L894 523.5L893.5 523.6L893 523.1L892.5 522.7L892 522.7L891.5 522.9L891 523.3L890.5 523.9L890 524.3L889.5 524.7L889 526.5L888.5 528.2L888 526.8L887.5 525.3L887 525.2L886.5 524.9L886 524.3L885.5 523.7L885 523.4L884.5 523.2L884 522.9L883.5 522.7L883 522.9L882.5 523.1L882 523.6L881.5 524.2L881 524.3L880.5 524.4L880 524.4L879.5 524.5L879 524.4L878.5 524.3L878 524.3L877.5 524.2L877 524L876.5 523.8L876 523.5L875.5 523.2L875 524.6L874.5 526L874 526L873.5 526L873 526.1L872.5 526.2L872 524.5L871.5 522.8L871 523.2L870.5 523.6L870 523.3L869.5 523.1L869 522.9L868.5 522.8L868 523.4L867.5 524.1L867 526L866.5 527.9L866 526.2L865.5 524.4L865 524.8L864.5 525.1L864 525.4L863.5 525.5L863 524.6L862.5 523.6L862 522.9L861.5 522.2L861 521.5L860.5 520.9L860 520.6L859.5 520.5L859 520.7L858.5 521L858 521.7L857.5 522.4L857 522.3L856.5 522.2L856 522L855.5 522L855 521.2L854.5 520.4L854 520.5L853.5 520.6L853 521.8L852.5 523.2L852 522.5L851.5 522L851 522.5L850.5 523L850 523.5L849.5 523.8L849 524.9L848.5 525.9L848 525.7L847.5 525.4L847 524.6L846.5 523.6L846 523.2L845.5 522.7L845 523L844.5 523.3L844 522.8L843.5 522.4L843 522.8L842.5 523.3L842 523.3L841.5 523.2L841 523.2L840.9 523.2L840.5 523.2L840 524.8L839.5 526.5L839 526.4L838.5 526.3L838 526L837.5 525.7L837 523.7L836.5 521.8L836 522L835.5 522.4L835 522.3L834.5 522.3L834 523.1L833.5 523.8L833 523.6L832.5 523.2L832 523.2L831.5 523L831 523.3L830.5 523.5L830 522.7L829.5 521.9L829 521.4L828.5 520.9L828 521.8L827.5 522.8L827 521L826.5 519.2L826 519.8L825.5 520.5L825 520.1L824.5 519.9L824 520.3L823.5 520.7L823 522L822.5 523.3L822 523.4L821.5 523.4L821 523.3L820.5 523.2L820 521.9L819.5 520.6L819 520.7L818.5 520.9L818 520.9L817.5 521.1L817 521.5L816.5 521.8L816 521.9L815.5 521.9L815 522.3L814.5 522.6L814 522.4L813.5 522.3L813 522.2L812.5 522.2L812 522L811.5 521.6L811 521.4L810.5 521L810 521.1L809.5 521.3L809 521.1L808.5 521L808 520.1L807.5 519.3L807 519.8L806.5 520.3L806 520.2L805.5 520.2L805 521.5L804.5 522.8L804 522L803.5 521.2L803 521.4L802.5 521.6L802 522.1L801.5 522.6L801 522.2L800.5 521.9L800 522.4L799.5 523L799 524L798.5 525L798 525.3L797.5 525.4L797 525.5L796.5 525.4L796 524.2L795.5 522.9L795 522.9L794.5 522.7L794 522.4L793.5 522.2L793 521.6L792.5 521.1L792 521.3L791.5 521.4L791 521.5L790.5 521.6L790 521.4L789.5 521.2L789 521.2L788.5 521.3L788 522.6L787.5 524L787 524.1L786.8 524.2L786.5 524L786 522.9L785.5 521.6L785 520.9L784.5 520.2L784 519.9L783.5 519.7L783 519.8L782.5 519.9L782 519.8L781.5 519.7L781 520L780.5 520.4L780 520.3L779.5 520.2L779 520.3L778.5 520.3L778 519.9L777.5 519.5L777 522.1L776.5 524.5L776 524.2L775.5 523.8L775 521.3L774.5 519L774 518.9L773.5 518.9L773 519.3L772.8 519.4L772.5 519.6L772 519.6L771.5 519.6L771 518.7L770.5 517.7L770 517.9L769.5 518L769 518.6L768.5 519.3L768 519.3L767.5 519.3L767 517.9L766.5 516.6L766 516.3L765.5 516.2L765 516.6L764.5 517L764 518.8L763.5 520.7L763 520L762.5 519.3L762 519.9L761.5 520.5L761 519.5L760.5 518.3L760 518.2L759.5 518L759 517.7L758.8 517.5L758.5 517.2L758 517.5L757.5 517.7L757 517.4L756.5 517L756 516.7L755.5 516.5L755 516L754.5 515.6L754 516.3L753.5 517.1L753 517.6L752.5 518.1L752 517.7L751.5 517.3L751 517.6L750.5 517.9L750 517.8L749.5 517.6L749 517.4L748.5 517.1L748 516.7L747.5 516.3L747 516.9L746.5 517.5L746 518.2L745.5 518.8L745 519L744.9 519.2L744.5 519.3L744 519.3L743.5 519.1L743 517.8L742.5 516.4L742 515.9L741.5 515.5L741 515.3L740.5 515.2L740 515.5L739.5 516L739 516.3L738.5 516.6L738 516.4L737.5 516.1L737 516.6L736.5 517L736 516.6L735.5 516.3L735 516.8L734.5 517.2L734 517.8L733.5 518.2L733 518.1L732.5 517.9L732 517.5L731.5 517L731 517.5L730.9 517.7L730.5 518.2L730 518.5L729.5 518.8L729 517.9L728.5 516.9L728 516.7L727.5 516.4L727 516L726.5 515.6L726 515.9L725.5 516.3L725 516.2L724.5 516.2L724 516.1L723.5 515.9L723 515L722.5 514L722 513.8L721.5 513.4L721 513.4L720.5 513.5L720 513.1L719.5 512.7L719 513.7L718.5 514.7L718 514.8L717.5 514.9L717 514.3L716.9 514.3L716.5 513.9L716 514L715.5 514.2L715 514.9L714.5 515.5L714 515.5L713.5 515.5L713 515.5L712.5 515.5L712 514.7L711.5 513.8L711 514.2L710.5 514.5L710 514.4L709.5 514.3L709 514.6L708.5 514.9L708 514.5L707.5 514.2L707 513.7L706.5 513.3L706 512.5L705.5 511.7L705 511.1L704.5 510.6L704 510.2L703.5 509.9L703 510.7L702.9 510.9L702.5 511.3L702 512.5L701.5 513.6L701 513.2L700.5 512.8L700 512.4L699.5 512L699 509.8L698.5 507.6L698 507.9L697.5 508.2L697 508.1L696.5 508L696 508.5L695.5 508.8L695 512.1L694.5 515.3L694 511.8L693.5 508.3L693 507.8L692.5 507.3L692 507.1L691.5 506.9L691 507.2L690.5 507.5L690 507.1L689.5 506.7L689 508L688.5 509.5L688 509.4L687.5 509.3L687 509.1L686.5 508.9L686 507L685.5 505L685 504.8L684.5 504.6L684 504.6L683.5 504.6L683 504.4L682.5 504.4L682 504.4L681.5 504.5L681 505.4L680.5 506.1L680 505.9L679.5 505.5L679 505.1L678.5 504.7L678 503.7L677.5 502.9L677 503L676.8 503.1L676.5 503.4L676 503.3L675.5 503.2L675 503.4L674.5 503.5L674 502.8L673.5 502.1L673 504L672.5 505.9L672 505.8L671.5 506L671 504.2L670.5 502.4L670 503.2L669.5 504L669 504.4L668.5 504.6L668 504.3L667.5 503.8L667 504.3L666.5 504.9L666 504.9L665.5 504.9L665 504.7L664.5 504.6L664 503.6L663.5 502.6L663 502.8L662.8 502.7L662.5 502.7L662 502.5L661.5 502.3L661 502L660.5 501.7L660 504.4L659.5 507.3L659 504.5L658.5 501.6L658 501.8L657.5 501.8L657 505.4L656.5 508.9L656 504.9L655.5 501L655 501.1L654.5 501.4L654 501.4L653.5 501.3L653 502L652.5 502.5L652 502.1L651.5 501.6L651 501.9L650.5 502.1L650 501.3L649.5 500.6L649 500.5L648.8 500.5L648.5 500.5L648 500.4L647.5 500.3L647 500.5L646.5 500.6L646 501.2L645.5 501.8L645 501.1L644.5 500.5L644 499.9L643.5 499.6L643 497.7L642.5 496L642 496.5L641.5 496.9L641 496.8L640.5 496.7L640 497.1L639.5 497.5L639 497.3L638.5 497.1L638 497.2L637.5 497.4L637 497.1L636.5 497L636 497.1L635.5 497.3L635 496.6L634.9 496.6L634.5 496.1L634 496L633.5 496L633 495.2L632.5 494.4L632 494.3L631.5 494.3L631 494.3L630.5 494.4L630 495.1L629.5 495.9L629 495.9L628.5 495.8L628 494.7L627.5 493.7L627 494L626.5 494.3L626 494.6L625.5 494.8L625 496L624.5 497L624 496.7L623.5 496.3L623 495.1L622.5 494L622 494L621.5 494.1L621 494.7L620.9 494.9L620.5 495.2L620 494.5L619.5 493.7L619 492.7L618.5 491.9L618 491.5L617.5 491.3L617 490.6L616.5 489.9L616 489.9L615.5 490L615 491.6L614.5 493.3L614 493.4L613.5 493.6L613 492.5L612.5 491.4L612 491.3L611.5 491.3L611 490.8L610.5 490.3L610 490.9L609.5 491.5L609 490.5L608.5 489.6L608 488.9L607.5 488.3L607 487.8L606.9 487.7L606.5 487.4L606 489.2L605.5 491.2L605 490L604.5 488.9L604 489.3L603.5 489.5L603 489.6L602.5 489.5L602 488.9L601.5 488.2L601 488.2L600.5 488.2L600 486.9L599.5 485.7L599 485L598.5 484.5L598 484.9L597.5 485.3L597 484.6L596.5 483.8L596 486.8L595.5 489.7L595 489.7L594.5 489.6L594 486.4L593.5 483.3L593 483.6L592.9 484L592.5 484.3L592 486.6L591.5 488.6L591 488.3L590.5 487.9L590 487.5L589.5 487L589 484.6L588.5 482.1L588 481.4L587.5 480.7L587 480.5L586.5 480.5L586 480.9L585.5 481.3L585 481.5L584.5 481.7L584 481.7L583.5 481.7L583 481.4L582.5 481L582 481.1L581.5 481.2L581 481.6L580.5 482L580 481.9L579.5 481.7L579 481.5L578.5 481.2L578 480.9L577.5 480.5L577 480.6L576.5 480.6L576 479.8L575.5 478.8L575 478.1L574.5 477.5L574 477.2L573.5 477.1L573 476.5L572.5 476.2L572 476.3L571.5 476.4L571 476.6L570.5 476.8L570 476.5L569.5 476.2L569 478.9L568.5 481.6L568 481.6L567.5 481.7L567 481.8L566.8 481.8L566.5 481.9L566 479.1L565.5 476.3L565 475.7L564.5 475.1L564 475.1L563.5 475.3L563 476.8L562.5 478.4L562 478.7L561.5 479L561 479.2L560.5 479.3L560 478.4L559.5 477.3L559 476.9L558.5 476.5L558 476.2L557.5 475.9L557 475.3L556.5 474.8L556 474.8L555.5 474.9L555 474.9L554.5 474.8L554 475L553.5 475.1L553 474.4L552.8 473.8L552.5 473L552 472.3L551.5 471.8L551 472L550.5 472.3L550 472.6L549.5 472.8L549 475.5L548.5 478L548 474.9L547.5 471.6L547 471.9L546.5 472.1L546 472.7L545.5 473.3L545 471.7L544.5 470.2L544 470.2L543.5 470.3L543 471L542.5 471.7L542 471.9L541.5 472.1L541 471.7L540.5 471.2L540 471.2L539.5 471L539 470.9L538.8 470.6L538.5 470.2L538 469L537.5 467.9L537 468.7L536.5 469.7L536 468.3L535.5 467.2L535 466.8L534.5 466.6L534 467L533.5 467.4L533 467L532.5 466.7L532 466.4L531.5 466.2L531 466.4L530.5 466.7L530 466.4L529.5 466L529 467L528.5 467.9L528 467.9L527.5 467.7L527 467.6L526.5 467.3L526 466.3L525.5 465.2L525 465.3L524.9 465.2L524.5 465.4L524 465L523.5 464.7L523 465.1L522.5 465.6L522 466.5L521.5 467.4L521 467.8L520.5 468.1L520 467.4L519.5 466.4L519 466.8L518.5 467L518 465.6L517.5 464.3L517 463.7L516.5 463.3L516 463.9L515.5 464.6L515 465.1L514.5 465.6L514 464.3L513.5 462.8L513 462.7L512.5 462.3L512 462L511.5 461.7L511 461.1L510.9 460.9L510.5 460.6L510 460.4L509.5 460.4L509 461.9L508.5 463.5L508 463.4L507.5 463.2L507 462.9L506.5 462.5L506 460.4L505.5 458.3L505 458.2L504.5 458.1L504 457.4L503.5 456.7L503 458.8L502.5 461.3L502 461.6L501.5 462L501 460.6L500.5 459.1L500 459L499.5 458.7L499 458.2L498.5 457.7L498 458L497.5 458.4L497 458.1L496.9 457.9L496.5 457.6L496 456.4L495.5 455.3L495 454.9L494.5 454.6L494 454.5L493.5 454.5L493 455.4L492.5 456.5L492 456.5L491.5 456.6L491 456.7L490.5 456.7L490 455.7L489.5 454.5L489 454.2L488.5 453.9L488 454.3L487.5 454.6L487 454.2L486.5 453.8L486 453.8L485.5 453.8L485 454L484.5 454.3L484 454.4L483.5 454.5L483 453.9L482.9 453.7L482.5 453.1L482 452.9L481.5 452.6L481 452.7L480.5 452.8L480 452.5L479.5 452.3L479 452L478.5 451.8L478 451.2L477.5 450.7L477 450.4L476.5 450L476 449.6L475.5 449.1L475 448.7L474.5 448.3L474 447.4L473.5 446.7L473 445.8L472.5 445.3L472 445.7L471.5 446.5L471 446.1L470.5 445.8L470 446.6L469.5 447.3L469 447.5L468.5 447.6L468 448.1L467.5 448.3L467 447.8L466.5 447.1L466 446.4L465.5 445.9L465 445.2L464.5 444.7L464 444.3L463.5 443.8L463 445.3L462.5 446.8L462 445.1L461.5 443.5L461 443.6L460.5 443.8L460 443.8L459.5 444L459 444.6L458.5 445.3L458 445L457.5 444.7L457 444.9L456.8 444.9L456.5 444.8L456 443.8L455.5 442.8L455 442.3L454.5 441.9L454 444.4L453.5 447L453 447.2L452.5 447.4L452 445L451.5 442.5L451 442.6L450.5 442.7L450 443.6L449.8 443.9L449.5 444.2L449 442.8L448.5 441.3L448 440.9L447.5 440.5L447 440.5L446.5 440.6L446 438.6L445.5 436.7L445 436.5L444.5 436.4L444 435.4L443.5 434.6L443 433.6L442.8 433.3L442.5 432.6L442 433.8L441.5 435L441 432.8L440.5 430.8L440 430L439.5 429.5L439 429L438.5 428.6L438 429.9L437.5 431L437 430.9L436.5 430.7L436 430.1L435.8 429.7L435.5 429.2L435 428.4L434.5 427.7L434 426.3L433.5 424.9L433 424.2L432.5 423.5L432 422.6L431.5 421.6L431 422.8L430.5 423.9L430 422.8L429.5 421.8L429 420.8L428.8 420.3L428.5 420.6L428 419.1L427.5 417.6L427 416.6L426.5 415.6L426 415.7L425.5 415.9L425 416.2L424.5 416.4L424 416.1L423.5 415.8L423 419L422.5 422.3L422 419.3L421.8 418.1L421.5 416.1L421 415.5L420.5 414.9L420 414.4L419.5 414L419 413.9L418.5 413.8L418 414.4L417.5 414.9L417 415L416.5 414.9L416 414.4L415.5 413.7L415 413.8L414.9 413.9L414.5 414L414 413.6L413.5 413.1L413 412.3L412.5 411.5L412 411L411.5 410.7L411 410.4L410.5 410.2L410 410.4L409.5 410.6L409 410.6L408.5 410.7L408 410.7L407.9 410.9L407.5 411.1L407 411.3L406.5 411.4L406 411.5L405.5 411.5L405 411.4L404.5 411.2L404 411.8L403.5 412.4L403 412.2L402.5 412L402 411.8L401.5 411.5L401 410.5L400.9 410.2L400.5 409.6L400 410L399.5 410.5L399 410.7L398.5 410.8L398 411.6L397.5 412.4L397 412.9L396.5 413.4L396 413.7L395.5 413.9L395 413.1L394.5 412.1L394 412.4L393.9 412.5L393.5 412.6L393 414.1L392.5 415.7L392 413.6L391.5 411.6L391 411.2L390.5 410.9L390 410.9L389.5 411L389 410.9L388.5 410.8L388 410.6L387.5 410.5L387 410.6L386.9 410.9L386.5 411.1L386 412L385.5 413L385 412.3L384.5 411.6L384 411.6L383.5 411.4L383 411.5L382.5 411.6L382 411.8L381.5 412.1L381 413.8L380.5 415.6L380 415.8L379.9 415.8L379.5 415.4L379 414.8L378.5 414.1L378 411.4L377.5 408.7L377 407.8L376.5 406.8L376 406L375.5 405.2L375 407.2L374.5 409.2L374 408.1L373.5 407.1L373 406.3L372.9 406.1L372.5 405.8L372 402.8L371.5 399.8L371 399.6L370.5 399.2L370 398.5L369.5 397.7L369 397L368.5 396.1L368 395.3L367.5 394.6L367 393.7L366.5 392.9L366 392.9L365.5 393.5L365 392.8L364.5 392L364 391.5L363.5 390.8L363 393.4L362.5 395.8L362 392.5L361.5 389.3L361 388.7L360.5 388.3L360 387.6L359.5 387L359 386.2L358.5 385.2L358 384.7L357.5 384.2L357 383.1L356.5 382.1L356 381.7L355.5 381.3L355 380.8L354.5 380.4L354 381L353.5 381.6L353 380.4L352.5 379.2L352 379L351.5 378.5L351 377L350.5 375.4L350 374.9L349.5 374.4L349 373.1L348.5 371.8L348 370L347.5 368.3L347 367.9L346.5 367.5L346 366.7L345.5 365.9L345 364.5L344.8 363.4L344.5 362.2L344 360.3L343.5 358.3L343 357.2L342.5 356.2L342 353.9L341.5 351.7L341 350.3L340.5 349L340 347.4L339.5 345.9L339 344.9L338.5 345L338 344.7L337.5 344.1L337 342.5L336.5 340.8L336 343L335.5 345.2L335 340.5L334.5 335.8L334 335.2L333.5 334.6L333 333.6L332.5 332.4L332.1 331.2L332 330.7L331.5 329.1L331 327.5L330.5 326.1L330 324.7L329.5 323.5L329 322.9L328.5 322.7L328 323.2L327.5 323.8L327 324.8L326.5 325.6L326 325.7L325.5 325.6L325.1 324.6L325 324.7L324.5 323.1L324 322.4L323.5 321.5L323 320.6L322.5 319.6L322 319.1L321.5 318.7L321 317.8L320.5 316.7L320 315.3L319.5 313.9L319 312.8L318.5 311.7L318 310.6L317.8 310L317.5 309.3L317 308L316.5 306.6L316 305.9L315.5 305.2L315 305.2L314.5 305.4L314 304.8L313.5 304.2L313 302.8L312.5 301.4L312 300.8L311.5 300.2L311 300.4L310.5 300.7L310.1 300.1L310 300.4L309.5 299.4L309 298.7L308.5 297.8L308 295.7L307.5 293.5L307 291.4L306.5 289.4L306 287.9L305.5 286.6L305.2 285.1L305 284.3L304.5 282.3L304 281.1L303.5 279.8L303 278.8L302.5 277.8L302 277L301.5 276.3L301 274.6L300.6 272.5L300.5 272.7L300 274.7L299.5 276.9L299 278.6L298.5 280.5L298 282.5L297.6 284.2L297.5 284.9L297 286.8L296.5 288.7L296 290.1L295.5 291.5L295 293.9L294.5 296.3L294 299.5L293.5 302.6L293.4 302L293 304L292.5 306.5L292 307.4L291.5 308.4L291 311.2L290.5 313.9L290 319L289.5 324L289 323.4L288.5 322.6L288.3 323.2L288 324.8L287.5 326.3L287 327.6L286.5 328.9L286 330.3L285.5 331.6L285 333.8L284.7 335.1L284.5 336.2L284 338.2L283.5 340.3L283 342.4L282.5 344.4L282 346.5L281.5 348.6L281.4 348.9L281 350.2L280.5 351.2L280 353.2L279.5 355.2L279 356.6L278.5 357.9L278 359.4L277.5 360.8L277.3 360.6L277 361.4L276.5 362.7L276 364.6L275.5 366.5L275 368.7L274.5 370.9L274 374.3L273.5 377.7L273 378.8L272.9 379.2L272.5 380.3L272 381.6L271.5 382.8L271 383.6L270.5 384.3L270 385.3L269.5 386.3L269 388.3L268.5 390.3L268 391.2L267.5 392L267 392.9L266.5 393.9L266 394.2L265.5 394.5L265.4 395.1L265 396.6L264.5 398.4L264 399.2L263.5 400L263 401.2L262.5 402.3L262 403.4L261.5 404.6L261 405.3L260.5 405.9L260 407.2L259.8 407.8L259.5 408.6L259 409.1L258.5 409.6L258 410.6L257.5 411.4L257 411.8L256.5 412.1L256 415.8L255.5 419.6L255 417.2L254.5 414.8L254 415L253.5 415.1L253 417.4L252.8 418.1L252.5 419.2L252 419L251.5 418.7L251 416.5L250.5 414.3L250 414.9L249.5 415.6L249 415.7L248.5 415.8L248 418.5L247.5 421L247 419.7L246.5 418.2L246 417.7L245.8 417.5L245.5 417.2L245 418.2L244.5 419.3L244 419.9L243.5 420.6L243 422.2L242.5 423.8L242 424.5L241.5 425L241 425.2L240.5 425.4L240 424.6L239.5 423.6L239 423.8L238.8 423.6L238.5 423.3L238 422.6L237.5 422L237 426L236.5 430.1L236 425.4L235.5 420.7L235 420.4L234.5 419.9L234 419.6L233.5 419.3L233 418.9L232.5 418.6L232 418.5L231.8 418.4L231.5 418.3L231 418.6L230.5 418.7L230 419.9L229.5 421.2L229 421L228.5 420.9L228 420.9L227.5 421.1L227 420.3L226.5 419.7L226 419.9L225.5 420L225 420.3L224.9 420.3L224.5 420.3L224 420.5L223.5 420.7L223 421.6L222.5 422.5L222 423.2L221.5 423.9L221 422.3L220.5 420.6L220 420.5L219.5 420.3L219 421L218.5 421.9L218 422L217.9 422.1L217.5 422.6L217 423.2L216.5 423.9L216 423.3L215.5 422.7L215 423.7L214.5 424.6L214 424.6L213.5 424.7L213 426.9L212.5 429.2L212 429.5L211.5 429.8L211 430.1L210.5 430.3L210 428.2L209.5 426.1L209 426.4L208.5 426.7L208 429.9L207.5 433.2L207 433.6L206.5 434L206 434.2L205.5 434.3L205 431.6L204.5 428.8L204 428.5L203.5 428.2L203 429.6L202.5 431.2L202 431.4L201.5 431.8L201 432.4L200.5 433.1L200 432L199.5 430.8L199 431.4L198.5 431.8L198 431.6L197.5 431.2L197 430.9L196.5 430.4L196 431.6L195.5 433L195 433L194.5 433.1L194 432.2L193.5 431.3L193 431.5L192.5 431.6L192 434.5L191.5 437.3L191 437.1L190.5 437.1L190 434.6L189.5 432.1L189 431.8L188.5 431.5L188 432.2L187.5 432.8L187 432.2L186.5 431.4L186 432.6L185.5 433.6L185 432.9L184.5 432.1L184 431.3L183.5 430.7L183 428.8L182.5 426.9L182 426L181.5 425.2L181 424.6L180.5 424.1L180 426.3L179.5 428.6L179 426.2L178.5 423.8L178 423.6L177.5 423.4L177 423.1L176.5 422.8L176 422.5L175.5 422.6L175 422.5L174.5 422.5L174 422.6L173.5 422.7L173 422.6L172.5 422.3L172 421.1L171.5 420.1L171 419.9L170.5 419.9L170 420.7L169.5 421.3L169 420.5L168.5 419.2L168 417.7L167.5 416.1L167 413.8L166.5 411.6L166 410.1L165.5 408.9L165 411.4L164.5 414.1L164 414L163.5 414L163.4 413.3L163 412.5L162.5 411.2L162 407.4L161.5 403.6L161 401.6L160.5 399.6L160 399.6L159.5 399.6Z" fill="#ff0000" stroke="none"/><path d="M159.5 391.7L160 393.3L160.5 394.9L161 396.5L161.5 398L162 399.5L162.5 400.9L163 402.2L163.4 403L163.5 402.4L164 402.4L164.5 402.5L165 402.8L165.5 403.4L166 404.4L166.5 405.6L167 407.1L167.5 408.7L168 410.3L168.5 411.8L169 413.1L169.5 413.8L170 414.2L170.5 414.3L171 414.3L171.5 414.4L172 414.6L172.5 414.9L173 415.1L173.5 415.2L174 415.1L174.5 415L175 415L175.5 415.1L176 415.4L176.5 415.9L177 416.4L177.5 416.9L178 417.3L178.5 417.5L179 417.7L179.5 418L180 418.2L180.5 418.6L181 418.9L181.5 419.4L182 419.8L182.5 420.3L183 420.9L183.5 421.5L184 422.2L184.5 422.9L185 423.7L185.5 424.4L186 425.2L186.5 425.7L187 426L187.5 426.1L188 426L188.5 425.8L189 425.5L189.5 425.2L190 425.1L190.5 425.1L191 425.1L191.5 425.2L192 425.4L192.5 425.4L193 425.2L193.5 424.8L194 424.4L194.5 424L195 423.8L195.5 423.8L196 424.2L196.5 424.7L197 425.2L197.5 425.5L198 425.6L198.5 425.6L199 425.3L199.5 424.9L200 424.3L200.5 423.5L201 422.8L201.5 422.2L202 421.8L202.5 421.6L203 421.6L203.5 421.7L204 422L204.5 422.2L205 422.4L205.5 422.5L206 422.3L206.5 422.1L207 421.7L207.5 421.3L208 420.9L208.5 420.6L209 420.4L209.5 420.2L210 420.1L210.5 419.9L211 419.8L211.5 419.5L212 419.2L212.5 418.8L213 418.6L213.5 418.3L214 418L214.5 417.7L215 417.3L215.5 416.8L216 416.2L216.5 415.6L217 415L217.5 414.3L217.9 413.8L218 413.7L218.5 413.6L219 413.8L219.5 414.1L220 414.4L220.5 414.7L221 415L221.5 415.1L222 415.2L222.5 415.1L223 415L223.5 414.9L224 414.7L224.5 414.6L224.9 414.4L225 414.3L225.5 413.8L226 413.3L226.5 412.7L227 412.1L227.5 411.8L228 411.7L228.5 411.6L229 411.8L229.5 411.9L230 412L230.5 412.3L231 412.4L231.5 412.5L231.8 412.6L232 412.8L232.5 413L233 413.1L233.5 413.3L234 413.5L234.5 413.8L235 414L235.5 414.2L236 414.4L236.5 414.6L237 414.9L237.5 415.2L238 415.8L238.5 416.3L238.8 416.9L239 417.1L239.5 417.3L240 417.3L240.5 417.2L241 417L241.5 416.7L242 416.2L242.5 415.6L243 414.8L243.5 413.9L244 413.1L244.5 412.4L245 411.9L245.5 411.5L245.8 411.4L246 411.4L246.5 411.3L247 411.1L247.5 410.8L248 410.4L248.5 409.9L249 409.4L249.5 408.9L250 408.6L250.5 408.5L251 408.6L251.5 408.7L252 409L252.5 409.2L252.8 409.4L253 409.4L253.5 408.8L254 408.3L254.5 407.7L255 407.1L255.5 406.5L256 406.1L256.5 405.7L257 405.3L257.5 404.8L258 404.2L258.5 403.5L259 402.8L259.5 402.1L259.8 401.6L260 401.1L260.5 400L261 398.9L261.5 397.7L262 396.6L262.5 395.5L263 394.5L263.5 393.3L264 392.1L264.5 390.9L265 389.5L265.4 388.5L265.5 388.1L266 386.8L266.5 385.6L267 384.6L267.5 383.6L268 382.8L268.5 381.9L269 380.9L269.5 379.9L270 378.8L270.5 377.7L271 376.6L271.5 375.5L272 374.4L272.5 373.3L272.9 372.2L273 371.7L273.5 369.5L274 367.3L274.5 365L275 362.8L275.5 360.6L276 358.6L276.5 356.6L277 354.7L277.3 353.6L277.5 353.1L278 351.6L278.5 350.1L279 348.7L279.5 347.3L280 345.9L280.5 344.5L281 343L281.4 341.8L281.5 341.4L282 339.4L282.5 337.5L283 335.5L283.5 333.5L284 331.4L284.5 329.4L284.7 328.5L285 327.3L285.5 325.6L286 323.9L286.5 322.4L287 320.9L287.5 319.5L288 318.2L288.3 317.5L288.5 317L289 314.9L289.5 312.8L290 310.5L290.5 308.1L291 305.8L291.5 303.4L292 301L292.5 298.6L293 296.2L293.4 294.2L293.5 293.7L294 291.8L294.5 289.8L295 287.9L295.5 286L296 284.2L296.5 282.4L297 280.6L297.5 278.8L297.6 278.5L298 276.8L298.5 274.9L299 273L299.5 271.2L300 269.4L300.5 267.7L300.6 267.4L301 268.5L301.5 269.7L302 270.8L302.5 271.9L303 273L303.5 274.2L304 275.4L304.5 276.6L305 277.9L305.2 278.5L305.5 279.6L306 281.3L306.5 283.2L307 285.2L307.5 287.1L308 289L308.5 290.6L309 292L309.5 293.1L310 294.1L310.1 293.8L310.5 293.9L311 294.1L311.5 294.4L312 294.8L312.5 295.3L313 295.8L313.5 296.4L314 296.9L314.5 297.5L315 298.2L315.5 299L316 299.9L316.5 300.8L317 301.8L317.5 302.9L317.8 303.6L318 304.1L318.5 305.2L319 306.3L319.5 307.4L320 308.4L320.5 309.4L321 310.3L321.5 311.1L322 311.9L322.5 312.8L323 313.7L323.5 314.7L324 315.5L324.5 316.3L325 316.9L325.1 316.8L325.5 317L326 317.2L326.5 317.1L327 316.9L327.5 316.7L328 316.5L328.5 316.6L329 316.9L329.5 317.5L330 318.5L330.5 319.7L331 321.1L331.5 322.6L332 323.9L332.1 324.5L332.5 325.6L333 326.7L333.5 327.8L334 328.9L334.5 330L335 331.1L335.5 332.4L336 333.7L336.5 334.9L337 336.1L337.5 337.2L338 338.1L338.5 338.9L339 339.5L339.5 340.7L340 341.9L340.5 343.1L341 344.4L341.5 345.9L342 347.6L342.5 349.3L343 351.2L343.5 353.1L344 354.9L344.5 356.6L344.8 357.7L345 358L345.5 359L346 359.9L346.5 360.7L347 361.6L347.5 362.4L348 363.4L348.5 364.4L349 365.6L349.5 366.7L350 367.9L350.5 369.1L351 370.3L351.5 371.4L352 372.5L352.5 373.1L353 373.5L353.5 373.9L354 374.2L354.5 374.4L355 374.8L355.5 375.1L356 375.7L356.5 376.3L357 376.9L357.5 377.6L358 378.3L358.5 378.9L359 379.5L359.5 379.9L360 380.4L360.5 380.8L361 381.3L361.5 382L362 382.7L362.5 383.4L363 384.1L363.5 384.7L364 385.2L364.5 385.5L365 385.7L365.5 385.8L366 385.9L366.5 386.3L367 387L367.5 387.9L368 388.9L368.5 390L369 391.1L369.5 392.1L370 392.8L370.5 393.4L371 393.8L371.5 394L372 394.1L372.5 394.3L372.9 394.6L373 394.7L373.5 395.5L374 396.5L374.5 397.6L375 398.6L375.5 399.5L376 400.3L376.5 401.1L377 401.9L377.5 402.7L378 403.5L378.5 404.3L379 405L379.5 405.6L379.9 406L380 405.8L380.5 405.6L381 405.4L381.5 405.3L382 405.3L382.5 405.4L383 405.5L383.5 405.7L384 405.8L384.5 405.7L385 405.6L385.5 405.4L386 405.2L386.5 405L386.9 404.8L387 404.6L387.5 404.5L388 404.5L388.5 404.5L389 404.7L389.5 404.8L390 405L390.5 405.2L391 405.4L391.5 405.6L392 405.7L392.5 405.8L393 405.8L393.5 405.9L393.9 406L394 406L394.5 405.9L395 405.8L395.5 405.6L396 405.3L396.5 405.1L397 404.9L397.5 404.8L398 404.7L398.5 404.5L399 404.4L399.5 404.2L400 404L400.5 403.9L400.9 403.9L401 404L401.5 404.2L402 404.5L402.5 404.7L403 404.9L403.5 405.1L404 405.3L404.5 405.5L405 405.5L405.5 405.5L406 405.4L406.5 405.3L407 405.2L407.5 405.1L407.9 404.9L408 404.7L408.5 404.7L409 404.6L409.5 404.6L410 404.5L410.5 404.5L411 404.6L411.5 404.9L412 405.3L412.5 405.9L413 406.5L413.5 407.1L414 407.5L414.5 407.8L414.9 407.9L415 407.9L415.5 408L416 408.1L416.5 408.2L417 408.1L417.5 408.1L418 408L418.5 408.1L419 408.2L419.5 408.5L420 409L420.5 409.5L421 409.9L421.5 410.2L421.8 410.4L422 410.5L422.5 410.4L423 410.3L423.5 410.3L424 410.2L424.5 410L425 410L425.5 409.9L426 409.9L426.5 410L427 410.1L427.5 410.3L428 410.4L428.5 410.5L428.8 410.7L429 411.1L429.5 412.1L430 413.2L430.5 414.3L431 415.4L431.5 416.3L432 417L432.5 417.7L433 418.2L433.5 418.8L434 419.4L434.5 420.1L435 420.8L435.5 421.6L435.8 422.1L436 422.4L436.5 423L437 423.4L437.5 423.6L438 423.6L438.5 423.4L439 423.3L439.5 423.4L440 423.8L440.5 424.4L441 425.2L441.5 426L442 426.8L442.5 427.4L442.8 427.8L443 427.9L443.5 428.4L444 428.9L444.5 429.5L445 430.1L445.5 430.8L446 431.4L446.5 432.1L447 432.9L447.5 433.9L448 434.8L448.5 435.7L449 436.4L449.5 437L449.8 437.2L450 437.2L450.5 437.2L451 437.2L451.5 437.1L452 436.9L452.5 436.7L453 436.5L453.5 436.4L454 436.3L454.5 436.3L455 436.5L455.5 436.9L456 437.4L456.5 437.9L456.8 438.3L457 438.5L457.5 438.6L458 438.6L458.5 438.4L459 438.2L459.5 438L460 437.8L460.5 437.7L461 437.6L461.5 437.7L462 437.7L462.5 437.9L463 438L463.5 438.1L464 438.3L464.5 438.4L465 438.7L465.5 439.1L466 439.6L466.5 440.3L467 440.9L467.5 441.5L468 441.8L468.5 441.9L469 441.8L469.5 441.4L470 441L470.5 440.6L471 440.1L471.5 439.7L472 439.5L472.5 439.6L473 439.8L473.5 440.4L474 441.2L474.5 442.2L475 443.1L475.5 443.9L476 444.5L476.5 444.8L477 445L477.5 445.2L478 445.4L478.5 445.6L479 445.9L479.5 446.1L480 446.4L480.5 446.6L481 446.8L481.5 447.1L482 447.4L482.5 447.7L482.9 447.9L483 447.9L483.5 448.1L484 448.2L484.5 448.3L485 448.4L485.5 448.5L486 448.5L486.5 448.6L487 448.7L487.5 448.7L488 448.7L488.5 448.7L489 448.7L489.5 448.7L490 448.7L490.5 448.7L491 448.7L491.5 448.6L492 448.5L492.5 448.5L493 448.5L493.5 448.7L494 449L494.5 449.4L495 449.8L495.5 450.1L496 450.5L496.5 451L496.9 451.4L497 451.6L497.5 451.9L498 452.1L498.5 452.4L499 452.6L499.5 452.9L500 452.9L500.5 452.9L501 452.6L501.5 452.1L502 451.7L502.5 451.4L503 451.3L503.5 451.5L504 451.9L504.5 452.3L505 452.8L505.5 453.3L506 453.8L506.5 454.3L507 454.8L507.5 455.1L508 455.3L508.5 455.3L509 455.3L509.5 455.2L510 455.2L510.5 455.2L510.9 455.4L511 455.5L511.5 455.9L512 456.4L512.5 456.9L513 457.3L513.5 457.6L514 457.8L514.5 457.8L515 457.9L515.5 457.9L516 458L516.5 458.2L517 458.5L517.5 459L518 459.6L518.5 460.3L519 460.8L519.5 461.3L520 461.5L520.5 461.4L521 461.1L521.5 460.6L522 460.1L522.5 459.7L523 459.4L523.5 459.2L524 459.2L524.5 459.3L524.9 459.5L525 459.7L525.5 460L526 460.3L526.5 460.6L527 460.8L527.5 461L528 461.2L528.5 461.2L529 461.2L529.5 461.1L530 460.9L530.5 460.8L531 460.7L531.5 460.6L532 460.7L532.5 460.9L533 461.1L533.5 461.3L534 461.4L534.5 461.4L535 461.4L535.5 461.4L536 461.5L536.5 461.8L537 462.2L537.5 462.9L538 463.6L538.5 464.3L538.8 464.9L539 465.3L539.5 465.7L540 466L540.5 466.1L541 466.1L541.5 465.9L542 465.7L542.5 465.5L543 465.3L543.5 465.1L544 465.1L544.5 465L545 465.1L545.5 465.2L546 465.4L546.5 465.8L547 466.2L547.5 466.7L548 467L548.5 467.3L549 467.3L549.5 467.2L550 467L550.5 466.9L551 466.8L551.5 466.8L552 467.1L552.5 467.7L552.8 468.3L553 468.8L553.5 469.4L554 469.7L554.5 469.9L555 469.9L555.5 469.8L556 469.8L556.5 469.9L557 470.1L557.5 470.3L558 470.5L558.5 470.8L559 470.9L559.5 471L560 471.1L560.5 471L561 470.9L561.5 470.7L562 470.4L562.5 470.1L563 470L563.5 469.9L564 470L564.5 470.2L565 470.5L565.5 470.8L566 471L566.5 471.2L566.8 471.2L567 471.1L567.5 471L568 471L568.5 471L569 471.1L569.5 471.2L570 471.4L570.5 471.5L571 471.5L571.5 471.5L572 471.3L572.5 471.2L573 471.1L573.5 471.2L574 471.5L574.5 472L575 472.7L575.5 473.4L576 474.2L576.5 474.7L577 475.2L577.5 475.5L578 475.8L578.5 476L579 476.2L579.5 476.3L580 476.4L580.5 476.3L581 476.2L581.5 476L582 476L582.5 476L583 476.1L583.5 476.2L584 476.2L584.5 476.1L585 476L585.5 475.8L586 475.7L586.5 475.6L587 475.7L587.5 475.9L588 476.2L588.5 476.6L589 477L589.5 477.3L590 477.8L590.5 478.2L591 478.6L591.5 478.9L592 479.1L592.5 479.1L592.9 478.9L593 478.6L593.5 478.4L594 478.2L594.5 478.2L595 478.2L595.5 478.3L596 478.5L596.5 478.6L597 478.8L597.5 479L598 479.2L598.5 479.5L599 479.9L599.5 480.5L600 481.1L600.5 481.9L601 482.6L601.5 483.2L602 483.7L602.5 484L603 484.1L603.5 484.1L604 483.9L604.5 483.5L605 483.1L605.5 482.8L606 482.7L606.5 482.6L606.9 482.8L607 482.8L607.5 483.2L608 483.5L608.5 483.9L609 484.2L609.5 484.5L610 484.9L610.5 485.2L611 485.5L611.5 485.6L612 485.5L612.5 485.4L613 485.1L613.5 484.9L614 484.7L614.5 484.6L615 484.6L615.5 484.6L616 484.7L616.5 485L617 485.3L617.5 485.6L618 486L618.5 486.4L619 486.9L619.5 487.5L620 488L620.5 488.3L620.9 488.5L621 488.4L621.5 488.4L622 488.5L622.5 488.6L623 488.9L623.5 489.3L624 489.7L624.5 490L625 490.1L625.5 490.1L626 489.8L626.5 489.5L627 489.1L627.5 488.8L628 488.7L628.5 488.7L629 488.7L629.5 488.8L630 488.9L630.5 488.9L631 489L631.5 489.1L632 489.3L632.5 489.6L633 489.8L633.5 490.1L634 490.3L634.5 490.4L634.9 490.4L635 490.3L635.5 490.4L636 490.5L636.5 490.7L637 491L637.5 491.3L638 491.6L638.5 491.8L639 492L639.5 492.1L640 492.1L640.5 492L641 491.9L641.5 491.7L642 491.5L642.5 491.3L643 491.3L643.5 491.5L644 491.8L644.5 492.4L645 493L645.5 493.7L646 494.3L646.5 494.7L647 495L647.5 495.2L648 495.3L648.5 495.4L648.8 495.4L649 495.4L649.5 495.6L650 495.8L650.5 496.2L651 496.5L651.5 496.9L652 497.1L652.5 497.1L653 496.9L653.5 496.7L654 496.4L654.5 496.2L655 496.1L655.5 496.2L656 496.4L656.5 496.7L657 496.9L657.5 497.1L658 497.1L658.5 497L659 496.8L659.5 496.6L660 496.5L660.5 496.4L661 496.5L661.5 496.6L662 496.8L662.5 497.1L662.8 497.3L663 497.5L663.5 497.7L664 497.8L664.5 497.9L665 498.1L665.5 498.3L666 498.5L666.5 498.7L667 498.9L667.5 499.1L668 499.2L668.5 499.1L669 499L669.5 498.7L670 498.2L670.5 497.8L671 497.3L671.5 497L672 496.8L672.5 496.9L673 497.1L673.5 497.4L674 497.7L674.5 498L675 498L675.5 498L676 497.9L676.5 497.7L676.8 497.6L677 497.6L677.5 497.7L678 497.9L678.5 498.3L679 498.7L679.5 499.1L680 499.4L680.5 499.7L681 499.8L681.5 499.7L682 499.6L682.5 499.4L683 499.4L683.5 499.4L684 499.6L684.5 499.8L685 500.1L685.5 500.2L686 500.4L686.5 500.6L687 500.8L687.5 500.9L688 501.1L688.5 501.1L689 501.2L689.5 501.4L690 501.5L690.5 501.7L691 501.9L691.5 502L692 502L692.5 502.1L693 502.3L693.5 502.5L694 502.8L694.5 503.1L695 503.3L695.5 503.4L696 503.5L696.5 503.4L697 503.3L697.5 503.2L698 503.1L698.5 503.1L699 503.1L699.5 503.3L700 503.7L700.5 504L701 504.5L701.5 504.9L702 505.3L702.5 505.6L702.9 505.7L703 505.6L703.5 505.4L704 505.3L704.5 505.2L705 505.3L705.5 505.6L706 505.9L706.5 506.4L707 506.8L707.5 507.2L708 507.6L708.5 508L709 508.3L709.5 508.5L710 508.7L710.5 508.9L711 509L711.5 509.1L712 509L712.5 509L713 509L713.5 509L714 509L714.5 509L715 509L715.5 509L716 508.9L716.5 508.7L716.9 508.6L717 508.4L717.5 508.3L718 508.2L718.5 508.1L719 508.1L719.5 508.1L720 508.3L720.5 508.4L721 508.7L721.5 509L722 509.3L722.5 509.6L723 509.9L723.5 510L724 510.2L724.5 510.3L725 510.4L725.5 510.5L726 510.7L726.5 510.9L727 511.1L727.5 511.4L728 511.7L728.5 511.9L729 512L729.5 512.1L730 512.1L730.5 512L730.9 512L731 512L731.5 512.1L732 512.2L732.5 512.5L733 512.6L733.5 512.7L734 512.6L734.5 512.3L735 512.1L735.5 511.8L736 511.6L736.5 511.6L737 511.6L737.5 511.6L738 511.6L738.5 511.5L739 511.3L739.5 511.1L740 510.8L740.5 510.8L741 510.8L741.5 511.1L742 511.5L742.5 512L743 512.4L743.5 512.7L744 512.9L744.5 513L744.9 512.9L745 512.7L745.5 512.5L746 512.2L746.5 512L747 511.9L747.5 511.8L748 511.9L748.5 512.1L749 512.3L749.5 512.6L750 512.7L750.5 512.8L751 512.8L751.5 512.7L752 512.5L752.5 512.2L753 511.9L753.5 511.5L754 511.2L754.5 511L755 511L755.5 511.1L756 511.3L756.5 511.6L757 512L757.5 512.4L758 512.7L758.5 512.9L758.8 513.2L759 513.4L759.5 513.6L760 513.8L760.5 514L761 514.2L761.5 514.3L762 514.2L762.5 514L763 513.7L763.5 513.4L764 513L764.5 512.6L765 512.3L765.5 512.2L766 512.2L766.5 512.3L767 512.5L767.5 512.8L768 513L768.5 513.2L769 513.4L769.5 513.5L770 513.6L770.5 513.7L771 513.7L771.5 513.7L772 513.7L772.5 513.7L772.8 513.8L773 513.8L773.5 513.9L774 513.9L774.5 514L775 514.2L775.5 514.4L776 514.8L776.5 515.1L777 515.4L777.5 515.5L778 515.6L778.5 515.5L779 515.4L779.5 515.2L780 515.1L780.5 515L781 514.9L781.5 514.8L782 514.8L782.5 514.9L783 515.1L783.5 515.4L784 515.7L784.5 516.1L785 516.6L785.5 517.1L786 517.6L786.5 518L786.8 518.1L787 518.1L787.5 517.9L788 517.6L788.5 517.4L789 517.1L789.5 516.9L790 516.7L790.5 516.6L791 516.6L791.5 516.7L792 516.8L792.5 516.9L793 517.1L793.5 517.3L794 517.7L794.5 518.1L795 518.6L795.5 519L796 519.3L796.5 519.6L797 519.6L797.5 519.6L798 519.4L798.5 519.2L799 518.9L799.5 518.5L800 518.2L800.5 517.9L801 517.6L801.5 517.4L802 517.2L802.5 517L803 516.8L803.5 516.6L804 516.4L804.5 516.2L805 516L805.5 515.8L806 515.6L806.5 515.5L807 515.5L807.5 515.5L808 515.6L808.5 515.9L809 516.1L809.5 516.5L810 516.8L810.5 517.1L811 517.4L811.5 517.5L812 517.5L812.5 517.5L813 517.5L813.5 517.5L814 517.6L814.5 517.9L815 518.1L815.5 518.1L816 518.1L816.5 517.9L817 517.6L817.5 517.2L818 516.9L818.5 516.7L819 516.5L819.5 516.6L820 516.7L820.5 516.9L821 517.1L821.5 517.2L822 517.2L822.5 517L823 516.8L823.5 516.5L824 516.2L824.5 515.9L825 515.6L825.5 515.5L826 515.4L826.5 515.5L827 515.7L827.5 516.1L828 516.5L828.5 517.1L829 517.6L829.5 518L830 518.4L830.5 518.6L831 518.8L831.5 519L832 519.2L832.5 519.4L833 519.4L833.5 519.3L834 519L834.5 518.6L835 518.3L835.5 518L836 517.9L836.5 518L837 518.2L837.5 518.5L838 518.8L838.5 519L839 519.2L839.5 519.3L840 519.3L840.5 519.3L840.9 519.3L841 519.3L841.5 519.2L842 519L842.5 518.9L843 518.6L843.5 518.4L844 518.3L844.5 518.3L845 518.5L845.5 518.8L846 519.3L846.5 519.7L847 520.1L847.5 520.5L848 520.6L848.5 520.5L849 520.3L849.5 519.9L850 519.4L850.5 518.9L851 518.4L851.5 517.9L852 517.4L852.5 517L853 516.7L853.5 516.5L854 516.3L854.5 516.2L855 516.2L855.5 516.2L856 516.2L856.5 516.4L857 516.5L857.5 516.6L858 516.7L858.5 516.8L859 516.7L859.5 516.7L860 516.9L860.5 517.2L861 517.6L861.5 518.3L862 518.9L862.5 519.5L863 520.1L863.5 520.5L864 520.8L864.5 520.9L865 520.8L865.5 520.7L866 520.4L866.5 520L867 519.7L867.5 519.5L868 519.2L868.5 519.1L869 519.1L869.5 519.1L870 519.1L870.5 519.2L871 519.2L871.5 519.2L872 519.1L872.5 519L873 518.9L873.5 518.8L874 518.8L874.5 518.8L875 519L875.5 519.3L876 519.7L876.5 520L877 520.3L877.5 520.5L878 520.7L878.5 520.7L879 520.7L879.5 520.6L880 520.5L880.5 520.3L881 520L881.5 519.8L882 519.5L882.5 519.3L883 519.2L883.5 519.1L884 519.1L884.5 519.3L885 519.5L885.5 519.9L886 520.3L886.5 520.7L887 521.1L887.5 521.3L888 521.4L888.5 521.4L889 521.2L889.5 520.9L890 520.5L890.5 520L891 519.5L891.5 519.1L892 518.9L892.5 518.9L893 519L893.5 519.2L894 519.5L894.5 519.7L895 519.8L895.5 519.9L896 519.9L896.5 519.8L897 519.6L897.5 519.4L898 519.3L898.5 519.2L899 519.2L899.5 519.1L900 519L900.5 518.9L901 518.7L901.5 518.6L902 518.5L902.5 518.4L903 518.3L903.5 518.4L904 518.5L904.5 518.6L905 518.6L905.5 518.6L906 518.6L906.5 518.5L907 518.5L907.5 518.4L908 518.5L908.5 518.6L909 518.7L909.5 518.8L910 518.9L910.5 519.1L911 519.2L911.5 519.4L912 519.6L912.5 519.8L913 519.9L913.5 520.1L914 520.1L914.5 520.1L915 520L915.5 519.7L916 519.4L916.5 519.1L917 518.8L917.5 518.6L918 518.5L918.5 518.7L919 518.9L919.5 519.3L920 519.6L920.5 519.8L921 519.8L921.5 519.8L922 519.7L922.5 519.6L923 519.5L923.5 519.5L924 519.5L924.5 519.6L925 519.8L925.5 520.1L926 520.4L926.5 520.8L927 521L927.5 521.2L928 521.1L928.5 520.9L929 520.7L929.5 520.4L930 520.2L930.5 520.2L931 520.3L931.5 520.5L932 520.7L932.5 520.9L933 521.1L933.5 521.4L934 521.6L934.5 521.7L935 521.8L935.5 521.8L936 521.7L936.5 521.6L937 521.5L937.5 521.4L937.6 521.4L938 521.3L938.5 521.2L939 521.2L939.5 521.1L940 521L940.5 520.8L941 520.7L941.5 520.5L942 520.4L942.5 520.4L943 520.4L943.5 520.5L944 520.7L944.5 521L945 521.5L945.5 522L946 522.4L946.5 522.8L947 523L947.5 523L948 522.9L948.5 522.6L949 522.2L949.5 521.9L950 521.5L950.5 521.2L951 521L951.5 520.9L952 520.8L952.5 520.9L953 521.1L953.5 521.4L954 521.7L954.5 522L955 522.4L955.5 522.8L956 523.2L956.5 523.5L957 523.7L957.5 523.9L958 523.9L958.5 523.7L959 523.4L959.5 523L960 522.5L960.5 522L961 521.4L961.5 521L962 520.7L962.5 520.7L963 520.7L963.5 520.9L964 521.1L964.5 521.4L965 521.6L965.5 521.8L966 521.8L966.5 521.7L967 521.5L967.5 521.4L968 521.4L968.5 521.4L969 521.5L969.5 521.7L970 521.8L970.2 522L970.5 522.1L971 522.3L971.5 522.5L972 522.7L972.5 522.9L973 523L973.5 522.9L974 522.7L974.5 522.5L975 522.3L975.5 522.2L976 522.1L976.5 522L977 522L977.5 522L978 522L978.5 522L979 522L979.5 522.1L980 522.2L980.5 522.3L981 522.5L981.5 522.8L982 523.3L982.5 523.8L983 524.3L983.5 524.8L984 525.2L984.5 525.5L985 525.7L985.5 525.9L986 526.1L986.5 526.2L987 526.3L987.5 526.3L988 526.1L988.5 525.9L989 525.5L989.5 525L990 524.5L990.5 524.1L991 523.8L991.5 523.6L992 523.6L992.5 523.7L993 523.9L993.5 524.1L994 524.3L994.5 524.4L995 524.4L995.5 524.3L996 524.2L996.5 524.1L997 524L997.5 524L998 524.1L998.5 524.3L999 524.4L999.5 524.5L1000 524.5L1000.5 524.4L1001 524.4L1001.5 524.4L1002 524.5L1002.5 524.7L1002.8 524.8L1003 525L1003.5 525.1L1004 525.1L1004.5 525.2L1005 525.2L1005.5 525.3L1006 525.4L1006.5 525.6L1007 525.8L1007.5 526.2L1008 526.5L1008.5 526.9L1009 527.1L1009.5 527.3L1010 527.1L1010.5 526.8L1011 526.3L1011.5 525.6L1012 525L1012.5 524.6L1013 524.3L1013.5 524.3L1014 524.4L1014.5 524.6L1015 524.9L1015.5 525.1L1016 525.3L1016.5 525.3L1017 525.2L1017.5 525.1L1018 524.9L1018.5 524.8L1019 524.7L1019.5 524.7L1020 524.7L1020.5 524.9L1021 525.1L1021.5 525.3L1022 525.4L1022.5 525.5L1023 525.4L1023.5 525.3L1024 525.1L1024.5 524.9L1025 524.8L1025.5 524.8L1026 524.9L1026.5 525.1L1027 525.3L1027.5 525.4L1028 525.5L1028.5 525.4L1029 525.3L1029.5 525.2L1030 525.1L1030.5 525.1L1031 525.1L1031.5 525.2L1032 525.4" fill="none" stroke="#ff0000" stroke-width="3.8" stroke-linejoin="round" stroke-linecap="round"/>
<path d="M159.5 497.4L160 500.1L160.5 502.9L161 506.1L161.5 509.3L162 511.8L162.5 510.2L163 511.2L163.5 512.3L164 513.1L164.5 513.8L165 514.6L165.5 515.5L166 515.6L166.5 515.8L167 517.4L167.5 519.1L168 520L168.5 520.7L169 522L169.5 522.7L170 522L170.5 521.1L171 522.2L171.5 523.2L172 523.9L172.5 524.6L173 523L173.5 521.2L174 522.9L174.5 524.4L175 525L175.5 525.7L176 522.3L176.5 518.7L177 519.1L177.5 519.6L178 520.1L178.5 520.6L179 524.6L179.5 528.5L180 528.4L180.5 528.3L181 528.7L181.5 529L182 529.2L182.5 529.2L183 529.6L183.5 530.2L184 529.7L184.5 529.3L185 530.1L185.5 531L186 530.4L186.5 529.5L187 529.7L187.5 529.7L188 529.7L188.5 529.9L189 529.8L189.5 529.9L190 530.3L190.5 530.7L191 530.8L191.5 530.9L192 531.1L192.5 531.2L193 530.8L193.5 530.4L194 529.7L194.5 529L195 530L195.5 531.1L196 531.9L196.5 533L197 530.3L197.5 527.9L198 529L198.5 530.1L199 534.6L199.5 539L200 539.3L200.5 539.4L201 539.9L201.5 540.3L202 540.5L202.5 540.7L203 540.7L203.5 540.7L203.9 538.2L204 537.2L204.5 534.1L205 534.1L205.5 534.4L206 537.4L206.5 540.7L207 541.6L207.5 542.4L208 543L208.5 543.3L209 543.8L209.5 543.9L210 541.6L210.5 539.2L210.9 539.2L211 538.5L211.5 537.1L212 537.5L212.5 538.1L213 537.2L213.5 536.3L214 535.2L214.5 534.1L215 532.8L215.5 531.5L216 531L216.5 530.7L217 526.8L217.5 523.1L217.9 523L218 523.4L218.5 523.6L219 523.7L219.5 523.6L220 526.1L220.5 528.4L221 527.7L221.5 527L222 525.9L222.1 525.4L222.5 525.7L223 526.4L223.5 527L224 527.9L224.5 528.8L225 528.6L225.5 528.4L226 528.6L226.5 529.2L227 530.5L227.5 531.9L228 533L228.5 534.1L229 534.8L229.5 534.3L230 534.7L230.5 535L231 534.7L231.5 534.3L232 533.7L232.5 533L233 532.5L233.5 531.8L234 531.2L234.5 530.6L235 530L235.5 529.5L236 529.1L236.5 528.9L237 528L237.5 527.2L238 526.7L238.5 526L238.8 526.2L239 526.8L239.5 528.2L240 529.7L240.5 531.1L241 531.8L241.5 532.5L242 533.8L242.5 535.1L243 536L243.5 536.8L244 537.8L244.4 538.6L244.5 537.8L245 537.7L245.5 537.5L246 537.8L246.5 538.1L247 538.1L247.5 538.2L248 538.4L248.5 538.8L249 539.5L249.5 540.2L250 540.2L250.5 540.2L251 540.9L251.5 541.6L252 542.8L252.5 543.8L252.8 544.1L253 544L253.5 543.7L254 543.2L254.5 542.7L255 541.7L255.5 541L256 540.4L256.5 540.1L257 540.8L257.5 541.5L258 541.1L258.5 540.6L259 540.6L259.5 540.7L260 540.4L260.5 540.2L261 539L261.2 538.6L261.5 537.6L262 538.3L262.5 538.9L263 538L263.5 537L264 536.1L264.5 535.1L265 534.6L265.5 534.1L266 533.1L266.5 532.1L266.8 530.8L267 529.8L267.5 527.3L268 526.6L268.5 526L269 525.4L269.5 524.8L270 526.1L270.5 527.4L271 527L271.5 526.7L272 526.3L272.5 526.2L273 526.2L273.5 526L274 525.3L274.5 524.4L275 523.2L275.5 522L276 518.5L276.5 515.1L277 514.4L277.5 513.8L278 513.3L278.5 512.9L279 515.1L279.5 517.1L280 516.9L280.5 516.6L281 515.6L281.5 514.4L282 513.5L282.5 512.6L283 511.1L283.5 509.6L284 507.3L284.5 505.3L285 505L285.5 504.9L286 505.6L286.5 505L287 506.1L287.5 507.1L288 507L288.5 506.7L289 505.6L289.5 504.3L290 501.6L290.5 498.8L291 498L291.5 497.3L292 496L292.5 494.9L292.9 494.1L293 493.8L293.5 492.3L294 491.1L294.5 489.8L295 488.4L295.5 486.8L296 481.9L296.4 484.9L296.5 483.6L297 479.8L297.5 476L298 470.8L298.5 465.5L299 460.5L299.2 458.9L299.5 455.5L300 449.6L300.5 443.7L301 438.6L301.5 430.9L302 422.9L302.3 419.5L302.5 413.1L303 397.2L303.4 384.6L303.5 388.5L304 408L304.3 419.7L304.5 418.2L305 422.1L305.5 426L306 420.4L306.5 418.3L307 418.6L307.5 421.3L308 423.1L308.5 426.7L309 430.1L309.5 433.6L309.7 435L310 433.8L310.5 435.5L311 437.6L311.5 439.7L312 441.6L312.5 443.6L313 445.1L313.5 446.6L313.9 449.5L314 450.1L314.5 453.5L315 456.7L315.5 460L316 463.8L316.5 467.4L316.7 468.8L317 469.7L317.5 471.3L318 472.2L318.5 472.9L319 474.1L319.5 475.3L320 474.5L320.5 473.9L320.9 475.1L321 475.4L321.5 477.1L322 481.1L322.5 485L323 486.4L323.5 487.9L324 489.1L324.5 490.3L325 492.8L325.1 493.5L325.5 494.1L326 494.6L326.5 495L327 496L327.5 496.8L328 497.1L328.5 497.4L329 498.2L329.5 498.9L330 496.1L330.5 493.3L330.7 493.6L331 493.8L331.5 494.3L332 495L332.5 495.7L333 499.7L333.5 503.8L334 504.1L334.5 504.3L334.9 503.8L335 503.5L335.5 501.7L336 501.1L336.5 500.4L337 501.8L337.5 503.3L338 502.6L338.5 504.8L339 488.4L339.5 471.9L340 455.5L340.3 445.7L340.5 452.7L341 470L341.5 487.3L342 504.6L342.5 497.4L343 498.5L343.5 499.6L344 501.6L344.5 500.2L345 499.7L345.5 499L346 497.1L346.5 495.4L347 493.5L347.5 491.7L348 493.6L348.5 487.6L349 481.4L349.5 475.3L349.9 471.5L350 474L350.5 486.7L351 499.3L351.5 512L351.6 514.5L352 514.1L352.5 517.2L353 520.4L353.5 523.6L354 526.7L354.5 529.8L355 532.8L355.5 535.8L355.8 537.3L356 535.7L356.5 535.4L357 535.9L357.5 536.6L358 537.3L358.5 537.9L359 539.5L359.5 541L360 540.5L360.5 539.9L361 539.3L361.4 539L361.5 538.4L362 537.6L362.5 536.9L363 537L363.5 537.2L364 536.5L364.5 535.8L365 535.5L365.5 535L365.6 535L366 532.9L366.5 530.3L367 526.2L367.5 522.2L368 521.3L368.5 524L369 515.4L369.5 506.9L370 498.2L370.1 496.5L370.5 503L371 511.5L371.5 519.9L372 528.4L372.5 529.4L373 534.2L373.5 539L374 542.8L374.5 541.5L375 541.8L375.5 542.3L376 543.3L376.5 544.6L377 545.3L377.5 546.2L378 547.8L378.5 549.3L379 551.5L379.5 553.4L379.6 553.3L380 553.1L380.5 552.9L381 551.4L381.5 550L382 550.4L382.5 550.9L383 551.6L383.5 552.3L384 555.3L384.5 558.2L385 559L385.5 559.5L386 559.4L386.5 559.3L387 558.8L387.5 558.1L388 559.2L388.5 560.3L389 559.8L389.5 559L390 558.8L390.5 558.9L391 559.1L391.5 559.6L392 560.4L392.5 561.2L393 562.2L393.2 564.2L393.5 562.8L394 560L394.5 559.8L395 543.4L395.5 527.1L396 510.8L396.5 527.2L397 543.5L397.5 559.9L398 559.6L398.5 560.2L399 562.3L399.5 564.1L400 567.3L400.1 567.4L400.5 566.7L401 564.9L401.5 563.3L402 562.1L402.5 561.1L403 558.7L403.5 564L404 553L404.5 542.1L405 531.1L405.5 520.6L406 537L406.5 553.4L407 569.7L407.5 567.1L408 568.1L408.5 569.3L409 570.1L409.5 571L409.9 572.5L410 572.7L410.5 573.2L411 573L411.5 572.6L412 572.7L412.5 572.6L413 572L413.5 571.4L414 571.2L414.5 571.2L415 571L415.5 570.9L416 566.9L416.5 563L416.9 563.1L417 563.2L417.5 563.1L418 566.6L418.5 570L419 569.2L419.5 568.3L420 567.6L420.5 567.1L421 567.6L421.5 568.1L422 565.4L422.5 562.6L423 564.8L423.5 566.7L423.9 566L424 565.4L424.5 564.3L425 563.5L425.5 562.8L426 562.6L426.5 562.5L427 562.3L427.5 562.2L428 561.9L428.5 560.3L429 556.5L429.5 552.7L430 554.3L430.5 556.3L430.9 557.6L431 556.6L431.5 552.2L432 547.9L432.5 544.8L433 530.7L433.5 516.7L434 502.6L434.1 500L434.5 445.7L434.7 418.5L435 413L435.5 410.5L436 411.9L436.5 413.8L437 414.2L437.3 418.5L437.5 445.7L437.9 500L438 502.6L438.5 517.3L439 532.1L439.5 546.9L439.6 549.8L440 550.5L440.5 552.8L440.7 554.6L441 554.7L441.5 557.9L442 559.3L442.5 560.7L443 562.8L443.5 565.3L444 565.7L444.5 566.1L444.9 567.9L445 566.3L445.5 566.7L446 569.3L446.5 571.9L447 571.8L447.5 571.7L448 571.9L448.5 572L449 572.4L449.5 572.8L450 573.1L450.4 575.2L450.5 574.5L451 570.9L451.5 567.3L452 563.5L452.5 559.6L453 556.5L453.5 553.4L454 550.2L454.5 547.1L454.6 548.7L455 542.1L455.5 533.9L456 526.1L456.5 519.4L457 505L457.4 493.5L457.5 496.8L458 513.3L458.5 529.7L459 541.5L459.5 553.5L460 565.5L460.2 570.3L460.5 567.6L461 568.9L461.5 570.2L462 572L462.5 573.7L463 574.6L463.5 575.5L464 576.8L464.5 578.1L465 579.5L465.5 580.9L465.8 582.2L466 582.4L466.5 583.5L467 583.9L467.5 584.2L468 584.9L468.5 585.5L469 585.1L469.5 584.7L470 585.1L470.5 585.3L471 586L471.5 586.6L472 586.4L472.5 586.2L472.8 582.9L473 580.6L473.5 575.7L474 575.6L474.5 575.8L475 575.9L475.5 576L476 580.9L476.5 585.9L477 586.1L477.5 586.5L478 587.7L478.5 589L479 589.8L479.5 590.5L480 591.1L480.5 591.4L481 591.8L481.5 591.9L482 591.7L482.5 591.3L483 591L483.5 590.7L484 590.3L484.5 589.9L485 586L485.5 582.2L486 582.2L486.5 582.4L486.8 584.8L487 586.5L487.5 590.4L488 590.9L488.5 591.3L489 591.6L489.5 591.9L490 592.4L490.5 592.8L491 593.5L491.5 594.1L492 594.3L492.5 593.7L493 592.5L493.5 591.2L494 591.4L494.5 591.6L495 590.9L495.5 590.3L495.6 594.3L496 586.3L496.5 576.4L496.9 568.8L497 570.6L497.5 579.9L498 589.2L498.2 592.9L498.5 587.1L499 589.9L499.5 592.5L500 592.4L500.4 592.2L500.5 591.6L501 590.4L501.5 589.4L502 589.1L502.5 589.1L503 588.4L503.5 587.7L504 592.9L504.5 584.4L505 576L505.3 571.1L505.5 575.2L506 585L506.5 594.7L506.6 596.7L507 595.7L507.5 596.5L508 597L508.5 597.4L509 597.9L509.5 598.5L510 599L510.1 599L510.5 598.5L511 598.2L511.5 597.9L512 598.2L512.5 598.5L513 597.9L513.5 597.3L514 598.1L514.5 599L515 599.1L515.5 599.2L516 598.9L516.5 598.7L517 598.9L517.5 599.2L518 599.4L518.5 599.7L519 599.5L519.5 599.3L519.9 599.2L520 599L520.5 599.1L521 599.2L521.5 599.3L522 597.3L522.5 595.6L523 597.8L523.5 600.2L524 600.8L524.5 601.5L525 601L525.5 600.6L526 601.2L526.5 601.7L526.9 603.1L527 603.4L527.5 604.7L528 604.2L528.5 603.5L529 603.1L529.5 602.8L530 602.3L530.5 602.1L531 600.9L531.5 599.8L532 600L532.5 600.2L533 601.7L533.5 603.2L533.9 603.7L534 603.7L534.5 603.9L535 603.6L535.5 603.2L536 603.1L536.5 603.1L537 602.3L537.5 601.5L538 601.8L538.5 602L539 602.2L539.5 602.1L540 601.9L540.5 601.5L541 601L541.5 600.5L542 599.9L542.5 599.4L543 598.6L543.5 597.9L543.7 598L544 598.1L544.5 598.2L545 598.1L545.5 598.1L546 598.4L546.5 598.8L547 598.5L547.5 598.2L548 598.5L548.5 598.8L549 597.6L549.3 596.9L549.5 596.5L550 596.9L550.5 597.3L551 598.7L551.5 600.2L552 600.3L552.5 600.6L553 599L553.5 597.6L554 598.4L554.5 599.2L554.9 599.9L555 600L555.5 600.5L556 603.3L556.5 606.1L557 606.5L557.5 606.9L558 607.4L558.5 607.9L559 608.6L559.5 609.3L560 610.1L560.5 610.8L561 611.1L561.5 611.2L561.8 611.1L562 610.7L562.5 610.6L563 610.2L563.5 609.9L564 610.7L564.5 611.6L565 610.4L565.5 609L566 610.8L566.5 612.4L567 612.4L567.5 612.3L568 612.2L568.5 612L568.8 611.4L569 610.8L569.5 609.9L570 609.7L570.5 609.6L571 609.4L571.5 609.4L572 610L572.5 610.7L573 610.7L573.5 610.9L574 611.4L574.5 612L575 612.4L575.5 612.7L576 611.7L576.5 610.8L577 612.1L577.5 613.3L578 613.7L578.5 614L579 614.2L579.5 614.2L580 614.5L580.5 612.9L581 610.6L581.5 608.1L582 606.2L582.3 608.7L582.5 605.7L583 598.6L583.5 591.5L584 599L584.5 606.4L584.8 610.8L585 607.3L585.5 607.3L586 608.3L586.5 609.3L587 611.4L587.5 612.5L588 612.6L588.5 612.7L589 612.8L589.5 612.9L590 612.8L590.5 612.7L591 612.8L591.5 613.1L592 613L592.5 613L593 613.7L593.5 614.4L594 614.3L594.5 614L595 614.1L595.5 614.1L596 613.9L596.5 613.7L596.8 613.9L597 614L597.5 614.7L598 614.4L598.5 614.2L599 614.1L599.5 614.1L600 613.2L600.5 612.3L600.6 612.9L601 612L601.5 610.7L602 610.9L602.5 611.1L603 610L603.5 608.9L604 608.1L604.5 607.2L604.8 607L605 607.7L605.5 609.5L606 611.5L606.5 613.4L606.8 614.8L607 614.2L607.5 612.5L608 610.8L608.4 611.7L608.5 609.2L609 596.4L609.4 586.2L609.5 588.2L610 598.9L610.5 609.6L610.6 611.8L611 611.8L611.5 613.2L612 615.4L612.5 617.4L613 618.6L613.2 619L613.5 618.6L614 618.9L614.5 619.2L615 617.7L615.5 616.2L616 615.9L616.5 615.7L617 616.3L617.5 617L618 617.6L618.5 618.3L619 618.6L619.5 618.8L620 618.4L620.5 618L621 618.7L621.5 619.6L622 619.2L622.5 618.9L623 620.4L623.5 621.5L624 621.8L624.5 621.9L625 621.3L625.5 620.5L626 620.3L626.5 620.1L627 619.9L627.5 619.8L628 620.8L628.5 622L629 622.4L629.5 622.7L630 623.1L630.5 623.4L631 623.3L631.3 623L631.5 622.9L632 622.9L632.5 622.8L633 621.7L633.5 620.6L634 621.9L634.5 623.4L635 623.8L635.5 624.2L636 624.4L636.5 624.6L637 624.6L637.5 624.7L638 624.8L638.5 624.9L639 625.2L639.5 625.6L639.7 625.9L640 626L640.5 626.1L641 625.8L641.5 625.6L642 623.5L642.5 621.6L643 621.4L643.5 621.1L644 622.4L644.5 623.6L645 622.8L645.5 622L645.8 623.7L646 621.7L646.5 616.7L647 612.8L647.5 609L647.8 607L648 608.7L648.5 613L649 618.1L649.5 623.3L649.8 625.5L650 622.4L650.5 622.3L651 622.6L651.5 623.1L652 623.6L652.5 624.3L653 625.3L653.5 626.4L653.7 627.2L654 627.5L654.5 627.9L655 628L655.5 628L656 626L656.5 624L657 623.9L657.5 623.7L658 623.7L658.5 623.6L659 625L659.5 626.4L660 626.6L660.5 626.8L661 626.8L661.5 626.7L662 626.4L662.1 626.4L662.5 625.7L663 624.8L663.5 624L664 621.8L664.5 619.6L665 619.1L665.5 618.5L666 620L666.5 621.5L667 619.8L667.5 618.1L668 617.1L668.5 616.1L669 614.8L669.5 616.1L670 617.5L670.5 618.9L671 620.5L671.5 622.3L672 621.6L672.5 621.8L673 621.7L673.5 621.7L674 621.9L674.5 622.1L675 622.2L675.3 622.2L675.5 622.3L676 622.6L676.5 622.8L677 623.3L677.5 623.9L678 623.4L678.5 622.9L679 623.5L679.5 624.2L680 625.5L680.5 626.8L681 627.9L681.5 629L681.6 629.3L682 629.2L682.5 629.2L683 629.3L683.5 629.4L684 629.7L684.5 629.8L685 629.6L685.5 629.2L686 629L686.5 628.7L687 628.4L687.5 628.1L688 627.9L688.5 627.8L689 627.9L689.5 628.1L690 628.8L690.5 629.6L691 629.6L691.5 629.5L692 629.7L692.5 629.8L692.8 629.9L693 630L693.5 630.2L694 630.1L694.5 630L695 629.9L695.5 629.8L696 630.2L696.5 630.7L697 631L697.5 631.4L698 631.6L698.5 631.8L699 632.1L699.5 632.4L700 632.9L700.5 633.3L701 633.5L701.2 633.5L701.5 633L702 632.5L702.5 632L703 631.4L703.5 630.9L704 630.6L704.5 630.2L705 629.8L705.5 629.2L706 627.6L706.5 626.1L706.8 625.9L707 626.2L707.5 626.9L708 627.7L708.5 628.4L709 629.6L709.5 630.7L710 631L710.5 631.3L711 631.8L711.5 632.3L712 632.7L712.4 633L712.5 632.9L713 632.4L713.5 632L714 630.3L714.5 628.6L715 630.2L715.5 631.7L716 631.1L716.5 630.5L717 627.7L717.5 624.8L718 624.3L718.5 623.9L719 623.7L719.5 624.2L720 627.3L720.5 630.5L721 630.7L721.5 631.1L722 632L722.5 632.9L723 633.6L723.5 634.1L724 635L724.5 635.9L725 636.6L725.5 637.4L726 638.4L726.5 638.6L727 638.6L727.5 638.5L728 638.3L728.5 638L729 637.7L729.5 637.3L730 637.1L730.5 637L731 636.9L731.5 636.9L732 636.7L732.5 636.5L733 636.8L733.5 637.1L734 637.2L734.5 637.5L735 637.5L735.5 637.5L736 638.1L736.5 638.6L737 636.9L737.5 635.2L738 635.2L738.5 635.3L739 635.3L739.5 635.2L739.9 636.1L740 636.1L740.5 637.3L741 637.4L741.5 637.5L742 637.5L742.5 637.6L743 636.6L743.5 635.7L744 637L744.5 638.3L745 638.5L745.5 638.7L746 638.3L746.5 637.6L747 637.6L747.5 637.5L748 637.4L748.5 637.3L749 637.9L749.5 638.6L750 638.8L750.5 639.2L751 639L751.5 639L752 639.4L752.5 639.7L753 640.2L753.5 640.8L753.9 641.2L754 641.5L754.5 641.5L755 641.9L755.5 642.3L756 642.3L756.5 642.3L757 642.1L757.5 641.8L758 640.7L758.5 639.5L759 639L759.5 638.4L760 637.8L760.5 637.4L761 637.3L761.5 637.3L762 637.3L762.5 637.1L763 637.1L763.5 636.9L764 635L764.5 633L765 632.1L765.5 631.1L766 630.3L766.5 629.8L767 631.7L767.5 633.8L768 634.9L768.5 636L769 636.7L769.5 637.4L770 638.5L770.5 638.5L771 638.5L771.5 638.6L772 638.2L772.5 637.9L773 638.3L773.5 638.6L774 639.3L774.5 639.9L774.9 640.5L775 640.7L775.5 641.1L776 640.8L776.5 640.5L777 640.3L777.5 640.1L778 639.7L778.5 639.3L779 639.5L779.5 639.9L780 640.2L780.5 640.5L781 641.2L781.5 641.8L782 642.4L782.5 643L783 643L783.5 642.8L784 642.2L784.5 641.5L785 641.2L785.5 640.8L786 640.7L786.5 640.8L787 640.6L787.5 640.6L788 640.8L788.5 641.2L788.8 641.5L789 641.7L789.5 641.9L790 642.3L790.5 642.7L791 642.6L791.5 642.5L792 642.7L792.5 642.8L793 642.6L793.5 642.3L794 642.2L794.5 642.1L795 641L795.5 640L796 639.8L796.5 639.6L797 639.5L797.5 639.5L798 640.3L798.5 641.2L799 640.7L799.5 640.3L800 640L800.5 639.9L801 640.6L801.5 641.4L802 641.7L802.5 642L802.8 642.3L803 642.6L803.5 642.9L804 643.1L804.5 643.3L805 642.3L805.5 641.3L806 642.6L806.5 643.8L807 643.2L807.5 642.5L808 642.8L808.5 643.2L809 643.1L809.5 643L810 643.4L810.5 643.7L811 644L811.5 644.2L812 644L812.5 643.6L813 643.4L813.5 643.2L814 642.5L814.5 641.9L815 642.1L815.5 642.4L816 642.1L816.5 641.9L816.8 641.9L817 641.9L817.5 641.8L818 641.9L818.5 642L819 642.9L819.5 643.8L820 643.7L820.5 643.6L821 644.2L821.5 644.8L822 643.4L822.5 641.9L823 641.7L823.5 641.6L824 642.8L824.5 644L825 643.5L825.5 643L826 642.7L826.5 642.4L827 641.7L827.5 641.1L828 640.7L828.5 640.3L829 640.8L829.5 641.2L830 641.2L830.5 641.2L831 641.1L831.5 641L832 641L832.5 641.1L833 640.5L833.5 640L834 640.3L834.5 640.7L835 637.8L835.5 634.9L836 638.2L836.5 641.4L837 641.3L837.5 641.2L838 638.5L838.5 635.8L839 635.8L839.5 635.9L840 636.1L840.5 636.4L841 638.9L841.5 641.4L842 641.6L842.5 641.6L843 641.2L843.5 640.7L844 640.8L844.5 640.8L845 640.7L845.5 640.8L846 640.6L846.5 640.7L847 641.3L847.5 641.9L848 642.4L848.5 642.8L849 642.6L849.5 642.1L850 642L850.5 641.9L851 641.5L851.5 641.2L852 641.1L852.5 641.2L853 641.1L853.5 641L854 641.3L854.5 641.5L855 640.7L855.5 639.8L856 639.9L856.5 640L857 640L857.5 640.2L858 640.7L858.5 641.3L859 642L859.5 642.6L860 642.4L860.5 642.1L861 642.3L861.1 642.1L861.5 642.1L862 641.3L862.5 640.6L863 640.5L863.5 640.4L864 640.7L864.5 641.1L865 641.3L865.5 641.5L866 641.7L866.5 641.8L867 641.6L867.5 641.3L868 640.9L868.5 640.6L869 640.8L869.5 640.9L870 641.7L870.5 642.4L871 642.5L871.5 642.6L872 641.7L872.5 640.9L873 641.3L873.5 641.8L874 642.1L874.5 642.4L875 642.4L875.5 642.4L876 642.4L876.5 642.4L877 641.7L877.5 641L878 641.2L878.5 641.4L879 643.1L879.5 644.8L880 644.7L880.5 644.5L881 644.5L881.5 644.6L882 644.6L882.5 644.8L883 645.7L883.5 646.6L884 646.9L884.5 647.2L884.9 647.6L885 647.7L885.5 647.7L886 646.9L886.5 646L887 646L887.5 646.1L888 645.6L888.5 645.3L889 645.4L889.5 645.6L890 646.1L890.5 646.5L891 646.4L891.5 646.2L892 646.6L892.5 646.8L893 646.4L893.5 645.9L894 645.9L894.5 645.9L895 645.4L895.5 645L896 645.6L896.5 646.3L897 646.3L897.5 646.3L898 646.4L898.5 646.5L899 646.6L899.5 646.7L900 646.4L900.5 646.1L901 646L901.5 645.8L902 645.6L902.5 645.4L903 645.6L903.5 645.9L904 645.8L904.5 645.7L905 645.8L905.5 645.9L906 645.9L906.5 646L907 646L907.5 645.9L908 646.1L908.5 646.1L909 646L909.5 645.9L910 645.6L910.5 645.4L911 645.2L911.5 645.1L912 645.4L912.5 645.9L913 646.2L913.5 646.7L914 647.2L914.5 647.7L915 648L915.5 648.3L916 648.5L916.5 648.5L917 648.5L917.5 648.3L918 647.8L918.5 647.2L919 646.6L919.5 646.2L920 645.6L920.5 645.2L921 645.4L921.5 645.7L922 646L922.5 646.2L923 647.1L923.5 647.8L924 647.6L924.5 647.3L925 645.6L925.5 643.9L926 643.7L926.5 643.7L927 645.2L927.5 646.8L928 646.9L928.5 646.9L929 646.4L929.5 645.7L930 644.9L930.5 644L931 643.7L931.5 643.5L932 644.2L932.5 645L933 645L933.5 645.2L934 645.4L934.5 645.7L935 645.6L935.5 645.5L936 645.8L936.5 646L937 646L937.5 646L938 646L938.5 646L939 646L939.5 646.1L940 645.9L940.5 645.7L941 645.5L941.5 645.3L942 644.5L942.5 643.5L943 643.2L943.5 642.8L944 643.4L944.5 644.1L945 643.7L945.5 643.5L946 642.7L946.5 642L947 642.7L947.5 643.5L948 643.7L948.5 644.1L949 644.3L949.5 644.5L950 644.5L950.5 644.4L951 644.2L951.5 644L952 643.8L952.5 643.5L952.9 643.1L953 642.9L953.5 642.6L954 642.6L954.5 642.7L955 643.1L955.5 643.7L956 643.9L956.5 644L957 644L957.5 643.9L958 643.8L958.5 643.6L959 643.2L959.5 642.8L960 640.9L960.5 639.1L961 639.2L961.5 639.4L962 639.6L962.5 639.9L963 642.4L963.5 644.9L964 645.5L964.5 646.2L965 646.6L965.5 647L966 647L966.5 647L967 644.7L967.5 642.4L968 644.9L968.5 647.5L969 647.6L969.5 647.7L970 647.8L970.5 647.8L971 647.1L971.5 646.4L972 646.3L972.5 646.4L973 645.7L973.5 645.2L974 645.6L974.5 646.1L975 646.2L975.5 646.4L976 646.2L976.5 646L977 645.7L977.5 645.3L978 643.8L978.5 642.4L979 642.4L979.5 642.5L980 644.6L980.5 646.7L980.9 646.8L981 646.8L981.5 646.8L982 646.8L982.5 646.8L983 647L983.5 647.2L984 647.1L984.5 647L985 647.4L985.5 647.8L986 647.7L986.5 647.5L987 647.8L987.5 648L988 647.9L988.5 647.7L989 647.8L989.5 648L990 647.5L990.5 647.2L991 647.4L991.5 647.7L992 648.8L992.5 649.8L993 649.7L993.5 649.4L994 649.5L994.5 649.4L995 649.5L995.5 649.5L996 649.1L996.5 648.8L997 648.5L997.5 648.3L998 648.2L998.5 648.2L999 648.3L999.5 648.6L1000 648.6L1000.5 648.6L1001 648.8L1001.5 648.9L1002 648.7L1002.5 648.4L1003 648.4L1003.5 648.4L1004 649L1004.5 649.6L1005 649.3L1005.5 649L1006 649.7L1006.5 650.3L1007 650.2L1007.5 650.1L1008 648.6L1008.5 647.2L1008.8 646.9L1009 646.6L1009.5 646.5L1010 647.3L1010.5 648.4L1011 649.1L1011.5 649.8L1012 650.2L1012.5 650.4L1013 650.4L1013.5 650.3L1014 650.4L1014.5 650.4L1015 649.3L1015.5 648.2L1016 648.1L1016.5 648L1017 648L1017.5 648.1L1018 648.7L1018.5 649.3L1019 649.9L1019.5 650.5L1020 650.4L1020.5 650.2L1021 650.5L1021.5 650.6L1022 650.2L1022.5 649.7L1023 649.6L1023.5 649.5L1024 649.5L1024.5 649.6L1025 649.2L1025.5 648.9L1026 649.4L1026.5 649.8L1027 649.9L1027.5 649.9L1028 650.1L1028.5 650.2L1029 650.5L1029.5 650.8L1030 650.7L1030.5 650.7L1031 650.4L1031.5 650.1L1032 650.3L1032.5 650.5L1032.6 650.2L1032.6 656.3L1032.5 656.4L1032 656.5L1031.5 656.6L1031 656.7L1030.5 656.9L1030 657.1L1029.5 657.4L1029 657.1L1028.5 656.8L1028 658L1027.5 659.3L1027 659.1L1026.5 658.9L1026 658.7L1025.5 658.6L1025 657L1024.5 655.5L1024 655.6L1023.5 655.7L1023 656L1022.5 656.2L1022 656.8L1021.5 657.5L1021 657.6L1020.5 657.6L1020 657.6L1019.5 657.5L1019 657L1018.5 656.5L1018 656.3L1017.5 656L1017 655.8L1016.5 655.6L1016 655.8L1015.5 656.1L1015 656.4L1014.5 656.7L1014 658.9L1013.5 661.1L1013 661L1012.5 660.8L1012 660.5L1011.5 660.2L1011 657.5L1010.5 655L1010 654.7L1009.5 654.6L1009 654.9L1008.8 655.2L1008.5 655.7L1008 656L1007.5 656.3L1007 656.7L1006.5 657L1006 656.8L1005.5 656.4L1005 655.9L1004.5 655.5L1004 655.4L1003.5 655.4L1003 655.2L1002.5 655.1L1002 656L1001.5 656.9L1001 656.1L1000.5 655.2L1000 655L999.5 654.8L999 654.5L998.5 654.3L998 654.2L997.5 654.4L997 654.6L996.5 654.9L996 655.3L995.5 655.8L995 655.9L994.5 655.9L994 656.1L993.5 656.1L993 656.2L992.5 656L992 655.7L991.5 655.3L991 655.7L990.5 656.3L990 656.2L989.5 656.2L989 656.2L988.5 656.3L988 655.3L987.5 654.2L987 654.3L986.5 654.4L986 654.2L985.5 654L985 653.9L984.5 653.9L984 654.1L983.5 654.2L983 654.2L982.5 654.1L982 653.5L981.5 652.9L981 653.1L980.9 653.1L980.5 653.2L980 652.8L979.5 652.4L979 652.4L978.5 652.4L978 654.6L977.5 656.9L977 655L976.5 653.1L976 652.9L975.5 652.7L975 652.6L974.5 652.6L974 654.6L973.5 656.6L973 654.5L972.5 652.4L972 652.7L971.5 653L971 653.6L970.5 654.2L970 654L969.5 653.8L969 654.1L968.5 654.3L968 653.9L967.5 653.5L967 653.4L966.5 653.3L966 653.3L965.5 653.2L965 652.7L964.5 652.1L964 652.4L963.5 652.6L963 651.4L962.5 650.2L962 650.8L961.5 651.4L961 651.2L960.5 651.1L960 650.3L959.5 649.6L959 650L958.5 650.4L958 650.3L957.5 650.2L957 650.1L956.5 649.9L956 650.4L955.5 651L955 650.4L954.5 649.9L954 649.7L953.5 649.7L953 649.4L952.9 649.6L952.5 649.6L952 650.1L951.5 650.6L951 650.9L950.5 651.1L950 651.4L949.5 651.6L949 651L948.5 650.4L948 650.6L947.5 650.9L947 650.7L946.5 650.5L946 650.1L945.5 649.8L945 649.9L944.5 650.1L944 650.5L943.5 651L943 651.8L942.5 652.5L942 652.7L941.5 652.8L941 652.9L940.5 652.9L940 652.7L939.5 652.6L939 652.4L938.5 652.4L938 652.7L937.5 652.9L937 652.8L936.5 652.6L936 652.7L935.5 652.8L935 652.2L934.5 651.7L934 651.7L933.5 651.6L933 651.5L932.5 651.5L932 652.1L931.5 652.6L931 652.8L930.5 653L930 653L929.5 652.9L929 653.1L928.5 653.2L928 653.2L927.5 653.1L927 653.3L926.5 653.5L926 653.2L925.5 653L925 653.2L924.5 653.4L924 653.8L923.5 654.1L923 655L922.5 655.7L922 655.5L921.5 655.2L921 654.2L920.5 653.2L920 653.4L919.5 653.9L919 653.6L918.5 653.5L918 653.9L917.5 654.2L917 655.4L916.5 656.5L916 656.5L915.5 656.3L915 656.1L914.5 655.7L914 654.3L913.5 652.8L913 652.4L912.5 652.1L912 651.6L911.5 651.4L911 651.3L910.5 651.4L910 652L909.5 652.6L909 652.8L908.5 652.9L908 652.8L907.5 652.6L907 652.7L906.5 652.7L906 652.4L905.5 652.1L905 652.1L904.5 652.2L904 652.1L903.5 652.1L903 652.1L902.5 652.1L902 652.7L901.5 653.3L901 653.5L900.5 653.7L900 653.5L899.5 653.3L899 653.7L898.5 654L898 654.5L897.5 655L897 653.6L896.5 652.2L896 652.1L895.5 652.1L895 652.1L894.5 652.2L894 653.4L893.5 654.8L893 654.4L892.5 653.9L892 653.7L891.5 653.4L891 653.2L890.5 652.9L890 652.9L889.5 652.9L889 652.5L888.5 652L888 652.1L887.5 652.4L887 652.8L886.5 653.4L886 653.7L885.5 653.9L885 654L884.9 654L884.5 653.6L884 654.5L883.5 655.3L883 653.4L882.5 651.5L882 651.6L881.5 651.9L881 651.8L880.5 651.7L880 651.5L879.5 651.3L879 651.1L878.5 650.8L878 651.7L877.5 652.6L877 652.4L876.5 652.1L876 651.8L875.5 651.6L875 650.1L874.5 648.7L874 648.8L873.5 649L873 651.1L872.5 653.2L872 653.3L871.5 653.4L871 651.3L870.5 649.1L870 649.3L869.5 649.3L869 649.4L868.5 649.3L868 649.1L867.5 649L867 648.7L866.5 648.4L866 650.4L865.5 652.5L865 650.2L864.5 647.9L864 647.7L863.5 647.6L863 648.9L862.5 650.3L862 649.4L861.5 648.5L861.1 648.7L861 648.9L860.5 648.9L860 649.4L859.5 649.6L859 649.3L858.5 648.9L858 647.9L857.5 647.1L857 647.9L856.5 649L856 649.2L855.5 649.5L855 649.8L854.5 650L854 648.9L853.5 647.8L853 648.5L852.5 649.1L852 648.5L851.5 648L851 648.4L850.5 648.8L850 649.4L849.5 649.9L849 650.5L848.5 651L848 650.7L847.5 650.3L847 649.8L846.5 649.3L846 648.1L845.5 647.1L845 647.3L844.5 647.7L844 647.8L843.5 647.8L843 648L842.5 648.2L842 648.1L841.5 648L841 648.2L840.5 648.5L840 648.1L839.5 647.9L839 647.8L838.5 647.9L838 647.8L837.5 647.8L837 647.9L836.5 647.9L836 648.2L835.5 648.4L835 647.8L834.5 647L834 648.1L833.5 649.3L833 649.4L832.5 649.6L832 648.6L831.5 647.6L831 647.7L830.5 647.6L830 649.4L829.5 651.1L829 649.7L828.5 648.3L828 648.6L827.5 648.9L827 649.1L826.5 649.3L826 649.8L825.5 650.2L825 650.6L824.5 650.9L824 650.9L823.5 650.9L823 651.4L822.5 651.9L822 651.7L821.5 651.4L821 651L820.5 650.6L820 650.6L819.5 650.5L819 650.3L818.5 650.1L818 649.7L817.5 649.3L817 649.2L816.8 649.2L816.5 649.2L816 649.1L815.5 649.1L815 650.9L814.5 652.8L814 652.9L813.5 653.2L813 651.7L812.5 650.2L812 650.7L811.5 651L811 651.1L810.5 651L810 650.8L809.5 650.6L809 650.9L808.5 651.2L808 651.2L807.5 651.2L807 650.6L806.5 649.9L806 650.1L805.5 650.2L805 650.1L804.5 650L804 650L803.5 650L803 649.7L802.8 649.4L802.5 649.2L802 648.5L801.5 647.9L801 647.7L800.5 647.6L800 647.8L799.5 648L799 648.3L798.5 648.6L798 648.6L797.5 648.6L797 648.7L796.5 648.8L796 648.9L795.5 648.9L795 648.9L794.5 648.9L794 649.2L793.5 649.5L793 649.5L792.5 649.6L792 649.4L791.5 649.2L791 649.8L790.5 650.5L790 650.3L789.5 650.2L789 650L788.8 649.8L788.5 649.5L788 649.2L787.5 649L787 648.9L786.5 649L786 648.7L785.5 648.5L785 649L784.5 649.4L784 649.9L783.5 650.4L783 650.5L782.5 650.4L782 650.3L781.5 650.1L781 650L780.5 649.8L780 650.3L779.5 650.8L779 649.2L778.5 647.7L778 647.7L777.5 647.7L777 647.8L776.5 648L776 647.8L775.5 647.6L775 648.8L774.9 649L774.5 649.6L774 648.2L773.5 646.7L773 646.3L772.5 645.9L772 645.6L771.5 645.4L771 645.6L770.5 645.9L770 645.5L769.5 644.5L769 644.4L768.5 644.3L768 643.3L767.5 642.3L767 641.4L766.5 640.7L766 640.6L765.5 640.4L765 642L764.5 643.6L764 644.1L763.5 644.5L763 645.5L762.5 646.3L762 646.3L761.5 646.3L761 645.6L760.5 645L760 645.1L759.5 645.4L759 646.9L758.5 648.3L758 648.7L757.5 648.9L757 649.1L756.5 649.1L756 649.2L755.5 649.1L755 649.4L754.5 649.6L754 649.3L753.9 648.9L753.5 648.4L753 647.7L752.5 647.2L752 647.3L751.5 647.5L751 646.7L750.5 645.9L750 646.5L749.5 647.1L749 646.5L748.5 645.9L748 646.5L747.5 647.1L747 647.2L746.5 647.3L746 646.9L745.5 646.4L745 646.1L744.5 645.8L744 645.7L743.5 645.6L743 645L742.5 644.6L742 644.6L741.5 644.8L741 645L740.5 645.1L740 645.4L739.9 645.6L739.5 645.7L739 646.1L738.5 646.5L738 649.4L737.5 652.4L737 649.4L736.5 646.4L736 645.8L735.5 645.2L735 645.2L734.5 645.2L734 645L733.5 644.9L733 644.9L732.5 645L732 645.3L731.5 645.6L731 645.6L730.5 645.7L730 645.8L729.5 646L729 645.8L728.5 645.6L728 645.7L727.5 645.7L727 645.6L726.5 645.5L726 645.5L725.5 644.9L725 644.8L724.5 644.7L724 643.9L723.5 643.2L723 642.4L722.5 641.7L722 640.3L721.5 638.9L721 638.6L720.5 638.3L720 638L719.5 637.7L719 637.2L718.5 637.7L718 637.7L717.5 637.7L717 637.9L716.5 638.1L716 639L715.5 639.7L715 639.5L714.5 639.3L714 639.3L713.5 639.4L713 640.3L712.5 641.2L712.4 641.3L712 641.1L711.5 640.9L711 640.7L710.5 640.6L710 639.8L709.5 638.9L709 638.6L708.5 638.1L708 638.3L707.5 638.5L707 637.8L706.8 637.4L706.5 637.6L706 637.1L705.5 636.5L705 637.4L704.5 638.2L704 638.2L703.5 638.3L703 638.9L702.5 639.6L702 640.3L701.5 641L701.2 643L701 644.1L700.5 646.5L700 646.1L699.5 645.7L699 642.7L698.5 639.8L698 639.2L697.5 638.7L697 638.5L696.5 638.3L696 638.1L695.5 637.9L695 637.9L694.5 638L694 638.5L693.5 639L693 638.9L692.8 638.9L692.5 638.9L692 638.8L691.5 638.7L691 637.8L690.5 637L690 636.6L689.5 636.1L689 636L688.5 636L688 637.9L687.5 640L687 638.1L686.5 636.4L686 636.6L685.5 636.9L685 640L684.5 643L684 643.2L683.5 643.3L683 640.7L682.5 638L682 637.8L681.6 637.5L681.5 637.2L681 636.4L680.5 635.8L680 634.9L679.5 634L679 633.5L678.5 633.1L678 636L677.5 639L677 638.5L676.5 638L676 634.1L675.5 630.2L675.3 630.1L675 630.5L674.5 630.6L674 630.6L673.5 630.5L673 629.9L672.5 629.3L672 629.8L671.5 629.9L671 628.4L670.5 627.2L670 625.8L669.5 624.4L669 622.4L668.5 623.3L668 624.5L667.5 625.7L667 627.3L666.5 628.8L666 629.9L665.5 630.8L665 632.2L664.5 633.6L664 633L663.5 632.4L663 633L662.5 633.6L662.1 634.2L662 634.5L661.5 634.7L661 635.1L660.5 635.5L660 635.7L659.5 635.8L659 635.6L658.5 635.3L658 635.6L657.5 635.9L657 635.7L656.5 635.6L656 635.9L655.5 636.1L655 636L654.5 635.8L654 635.7L653.7 635.4L653.5 634.7L653 636.2L652.5 637.7L652 636.8L651.5 636.1L651 632.9L650.5 630.1L650 630.4L649.8 629.3L649.5 627.2L649 622.9L648.5 618.6L648 614.7L647.8 613.1L647.5 615.8L647 619.6L646.5 623.5L646 627.4L645.8 629L645.5 631.4L645 631.2L644.5 631L644 631.7L643.5 632.1L643 632.4L642.5 632.5L642 633L641.5 633.5L641 633.6L640.5 633.6L640 634.4L639.7 634.8L639.5 634.7L639 634.3L638.5 633.8L638 633.4L637.5 633.1L637 632.8L636.5 632.6L636 632.2L635.5 631.7L635 632.2L634.5 632.6L634 632.3L633.5 632.1L633 632.1L632.5 632.1L632 631.5L631.5 630.9L631.3 630.9L631 631L630.5 630.8L630 631.9L629.5 632.9L629 631.4L628.5 630L628 629.4L627.5 628.9L627 629.5L626.5 630.2L626 630L625.5 629.7L625 630.1L624.5 630.3L624 630.4L623.5 630.4L623 630.1L622.5 629.3L622 628.7L621.5 628.2L621 627.3L620.5 626.6L620 626.6L619.5 626.6L619 626.7L618.5 626.9L618 626.8L617.5 626.8L617 626.6L616.5 626.4L616 626.4L615.5 626.4L615 626.8L614.5 627.1L614 627.4L613.5 627.6L613.2 626.8L613 626.5L612.5 625.2L612 623.6L611.5 621.8L611 619.3L610.6 612.7L610.5 610.5L610 599.9L609.5 589.2L609.4 586.9L609 597.2L608.5 609.9L608.4 612.5L608 617.6L607.5 619.2L607 621L606.8 621.5L606.5 620.2L606 618.2L605.5 616.3L605 614.5L604.8 613.7L604.5 614.9L604 615.9L603.5 616.8L603 617.5L602.5 618.4L602 619.3L601.5 620.3L601 621.7L600.6 622.7L600.5 623L600 623.9L599.5 624.8L599 624.7L598.5 624.6L598 623.5L597.5 622.5L597 622.7L596.8 622.9L596.5 623.2L596 623.6L595.5 624L595 624L594.5 623.8L594 623.5L593.5 623L593 622.4L592.5 621.8L592 622.4L591.5 623L591 622.9L590.5 622.8L590 622.8L589.5 622.9L589 622.4L588.5 621.9L588 621.5L587.5 621.1L587 620.7L586.5 619.6L586 618.8L585.5 617.9L585 617L584.8 613L584.5 608.5L584 601.1L583.5 593.7L583 601.1L582.5 608.4L582.3 611.3L582 615.6L581.5 616.6L581 618.5L580.5 620.2L580 621.9L579.5 622.7L579 622.6L578.5 622.4L578 623.3L577.5 624.1L577 623L576.5 621.9L576 621.5L575.5 621.1L575 621.1L574.5 621L574 620.6L573.5 620.2L573 619.3L572.5 618.6L572 619.2L571.5 619.9L571 619.9L570.5 620.1L570 619.6L569.5 619.3L569 619.3L568.8 619.5L568.5 619.6L568 620.5L567.5 621.5L567 621.7L566.5 621.9L566 621.3L565.5 620.5L565 620.3L564.5 619.8L564 619.3L563.5 618.8L563 618.4L562.5 618.2L562 618.7L561.8 619.1L561.5 619.5L561 620.9L560.5 622.3L560 622L559.5 621.5L559 619.2L558.5 616.8L558 616L557.5 615.3L557 614.4L556.5 613.7L556 613.2L555.5 612.8L555 612.5L554.9 612.3L554.5 611.8L554 612.5L553.5 613.2L553 612.4L552.5 611.8L552 611.4L551.5 611.1L551 609.8L550.5 608.4L550 607.5L549.5 606.5L549.3 606.4L549 606.6L548.5 606.6L548 606.9L547.5 607.2L547 606.9L546.5 606.7L546 607.2L545.5 607.7L545 607.4L544.5 607.2L544 607.9L543.7 608.3L543.5 608.5L543 608.5L542.5 608.6L542 608.9L541.5 609.4L541 610L540.5 610.6L540 610.9L539.5 611L539 611L538.5 610.9L538 610.7L537.5 610.4L537 611L536.5 611.5L536 611.6L535.5 611.9L535 611.9L534.5 611.9L534 612.6L533.9 612.7L533.5 613L533 612L532.5 611L532 610.9L531.5 610.7L531 610.5L530.5 610.5L530 611.2L529.5 612.1L529 612.4L528.5 612.8L528 613.1L527.5 613.4L527 613L526.9 612.9L526.5 612.2L526 611.9L525.5 611.5L525 610.7L524.5 609.8L524 609.8L523.5 609.8L523 611.2L522.5 612.7L522 612.5L521.5 612.3L521 612.4L520.5 612.4L520 609.8L519.9 609.5L519.5 607.6L519 608L518.5 608.4L518 608.6L517.5 608.8L517 608.3L516.5 607.8L516 607.9L515.5 608L515 608.1L514.5 608.1L514 607.5L513.5 606.8L513 607.2L512.5 607.6L512 607.4L511.5 607.3L511 607.2L510.5 607.3L510.1 607.3L510 607.3L509.5 606.8L509 606.6L508.5 606.5L508 605.5L507.5 604.5L507 603.7L506.6 597.9L506.5 595.9L506 586.3L505.5 576.6L505.3 572.6L505 578L504.5 586.6L504 594.9L503.5 597.9L503 598.1L502.5 598.5L502 598.5L501.5 598.6L501 599.6L500.5 600.7L500.4 601.2L500 601.4L499.5 601.4L499 601.3L498.5 601L498.2 595.1L498 591.4L497.5 582.1L497 572.8L496.9 570.8L496.5 578.4L496 588.1L495.6 595.9L495.5 601L495 600.9L494.5 601L494 600.8L493.5 600.7L493 601.5L492.5 602.4L492 603.8L491.5 604.6L491 603.4L490.5 602.1L490 601.6L489.5 601.2L489 600.4L488.5 599.6L488 599.4L487.5 599L487 598.7L486.8 598.5L486.5 598.3L486 598.6L485.5 599.1L485 599.2L484.5 599.4L484 599.3L483.5 599.3L483 599.6L482.5 600L482 600.4L481.5 600.7L481 600.6L480.5 600.3L480 599.9L479.5 599.2L479 599.5L478.5 599.7L478 598.6L477.5 597.8L477 597.2L476.5 596.8L476 595.6L475.5 594.5L475 594.2L474.5 593.8L474 593.7L473.5 593.7L473 594L472.8 594.4L472.5 594.8L472 595.1L471.5 595.2L471 595.2L470.5 595.1L470 594.8L469.5 594.4L469 594.7L468.5 595L468 594.6L467.5 594.1L467 593.6L466.5 593.1L466 591.9L465.8 590.8L465.5 589.4L465 588L464.5 586.7L464 585.5L463.5 584.3L463 582.9L462.5 581.4L462 580.6L461.5 579.8L461 577.7L460.5 575.6L460.2 571.2L460 566.4L459.5 554.4L459 542.4L458.5 530.2L458 513.8L457.5 497.5L457.4 494.2L457 505.9L456.5 520.5L456 529.2L455.5 537L455 544.8L454.6 551.1L454.5 554L454 556.6L453.5 559.1L453 562.3L452.5 565.6L452 569.7L451.5 573.8L451 577.2L450.5 580.6L450.4 581.3L450 583.7L449.5 583.6L449 582.7L448.5 581.8L448 581.7L447.5 581.5L447 581.2L446.5 580.9L446 580.2L445.5 579.4L445 579.4L444.9 578.4L444.5 576.8L444 575.6L443.5 574.4L443 571.2L442.5 567.7L442 565.5L441.5 563.4L441 561.6L440.7 559.7L440.5 558.3L440 553.6L439.6 550L439.5 547L439 532.4L438.5 517.8L438 503.1L437.9 500L437.5 445.7L437.3 418.5L437 420.1L436.5 420.1L436 418.7L435.5 417.8L435 418.8L434.7 418.5L434.5 445.7L434.1 500L434 502.9L433.5 516.9L433 531L432.5 545.1L432 550.1L431.5 554.5L431 559.5L430.9 560.6L430.5 563.5L430 565.9L429.5 567.9L429 568.1L428.5 568.2L428 569.4L427.5 569.9L427 570.3L426.5 570.7L426 571L425.5 571.5L425 572.9L424.5 574.4L424 576.7L423.9 577.6L423.5 579.5L423 580L422.5 580.4L422 580.7L421.5 580.8L421 578.8L420.5 576.8L420 577.2L419.5 577.8L419 578.1L418.5 578.4L418 579.8L417.5 580.9L417 580.3L416.9 580L416.5 579.3L416 581.2L415.5 583.1L415 583.2L414.5 583.3L414 583.6L413.5 583.9L413 582.3L412.5 580.8L412 581.2L411.5 581.6L411 581.6L410.5 581.4L410 581.2L409.9 580.4L409.5 579.1L409 578.2L408.5 577.6L408 578.9L407.5 580.3L407 570.6L406.5 554.3L406 537.9L405.5 521.6L405 532.9L404.5 543.6L404 554.5L403.5 565.4L403 568.6L402.5 569.2L402 572L401.5 575.2L401 576.6L400.5 578.2L400.1 577L400 576.9L399.5 573.9L399 572L398.5 569.9L398 567.8L397.5 560.4L397 544L396.5 527.6L396 511.3L395.5 527.7L395 544L394.5 560.3L394 566.8L393.5 569.4L393.2 570.9L393 572.1L392.5 571.3L392 570.3L391.5 569.5L391 568.4L390.5 567.5L390 567.7L389.5 568L389 568.2L388.5 568L388 568.4L387.5 568.7L387 570.8L386.5 572.7L386 572.5L385.5 572.1L385 569.3L384.5 566.4L384 565.5L383.5 564.6L383 564L382.5 563.6L382 563.2L381.5 563.1L381 562.8L380.5 562.6L380 563.4L379.6 563.8L379.5 563.9L379 563L378.5 561.8L378 559.1L377.5 556.3L377 554.8L376.5 553.4L376 552.4L375.5 551.6L375 550.3L374.5 549.1L374 547.6L373.5 544.4L373 540.4L372.5 536.3L372 530.7L371.5 522.1L371 513.7L370.5 505.2L370.1 498.5L370 500.2L369.5 508.7L369 517.1L368.5 525.6L368 530.6L367.5 533.7L367 535.5L366.5 537.2L366 539.8L365.6 541.8L365.5 543L365 543.8L364.5 544.5L364 544.9L363.5 545.4L363 549L362.5 552.8L362 553.6L361.5 554.7L361.4 554.7L361 553.2L360.5 550.8L360 550.6L359.5 550.3L359 549.4L358.5 548.4L358 548.7L357.5 548.9L357 547.5L356.5 546.2L356 545.8L355.8 543.7L355.5 542L355 539.1L354.5 536.1L354 533L353.5 529.7L353 526.8L352.5 523.8L352 520.2L351.6 515.3L351.5 512.8L351 500.1L350.5 487.5L350 474.8L349.9 472.3L349.5 478.1L349 484.1L348.5 490.2L348 496.3L347.5 500.5L347 502.2L346.5 504L346 504.9L345.5 506.6L345 508.4L344.5 510.1L344 511.9L343.5 512.2L343 515.7L342.5 519.3L342 505.7L341.5 488.3L341 471L340.5 453.6L340.3 446.6L340 456.4L339.5 472.5L339 488.9L338.5 505.3L338 510.6L337.5 511.5L337 512.1L336.5 512.7L336 514.3L335.5 515.8L335 515.5L334.9 515.4L334.5 514.2L334 513.4L333.5 512.6L333 511.9L332.5 511.1L332 510.2L331.5 509.4L331 508.8L330.7 508.5L330.5 508.2L330 507.6L329.5 507.1L329 506.5L328.5 506L328 505.7L327.5 505.3L327 504.9L326.5 504.5L326 503.7L325.5 502.7L325.1 502.6L325 502.3L324.5 501.8L324 498.8L323.5 495.9L323 494L322.5 492.1L322 490.7L321.5 489.2L321 487.5L320.9 487.2L320.5 486L320 484.4L319.5 483.1L319 482.2L318.5 481.4L318 480.7L317.5 479.9L317 478.4L316.7 475.6L316.5 474.2L316 470.9L315.5 467.6L315 464L314.5 460.5L314 457.4L313.9 456.8L313.5 456.4L313 455.1L312.5 453.8L312 452.4L311.5 450.7L311 448.7L310.5 446.7L310 444.8L309.7 442.6L309.5 441.2L309 437.7L308.5 434.3L308 433.4L307.5 431.6L307 431.2L306.5 434.8L306 435.1L305.5 432.8L305 428.5L304.5 424.2L304.3 420.3L304 408.7L303.5 389.4L303.4 385.5L303 398.5L302.5 414.4L302.3 420.7L302 426.6L301.5 433.4L301 441.1L300.5 447.3L300 453.1L299.5 458.8L299.2 462.2L299 464.4L298.5 469.5L298 474.5L297.5 479.7L297 484.8L296.5 490L296.4 491L296 493.5L295.5 494.8L295 496.2L294.5 497.7L294 500.5L293.5 503.3L293 503.6L292.9 503.6L292.5 503.8L292 505L291.5 506.5L291 507.8L290.5 509.3L290 510.7L289.5 511.9L289 513.2L288.5 514.3L288 519L287.5 523.6L287 524.3L286.5 524.9L286 525.5L285.5 526.1L285 522.7L284.5 519.6L284 519.8L283.5 520.2L283 520.8L282.5 521.6L282 522.4L281.5 523.2L281 527.2L280.5 531L280 531.6L279.5 532.1L279 529.6L278.5 527L278 527.1L277.5 527.4L277 528.5L276.5 529.7L276 530.6L275.5 531.7L275 533L274.5 534.3L274 535.4L273.5 536.2L273 536.5L272.5 536.6L272 536.1L271.5 536.2L271 536L270.5 535.9L270 536.9L269.5 537.9L269 538.5L268.5 539.1L268 539.3L267.5 539.6L267 541.9L266.8 542.9L266.5 544.4L266 545L265.5 545.7L265 544.9L264.5 544.1L264 545.1L263.5 546.1L263 546.6L262.5 547.2L262 548.3L261.5 549.3L261.2 549.6L261 549.7L260.5 549.6L260 550.2L259.5 550.7L259 550.4L258.5 550.1L258 550.5L257.5 550.9L257 550.9L256.5 551L256 550.6L255.5 550.5L255 551.5L254.5 552.7L254 553.3L253.5 553.8L253 554.2L252.8 554.3L252.5 554.1L252 552.7L251.5 551.1L251 551.3L250.5 551.5L250 550.7L249.5 550L249 549L248.5 548.1L248 547.8L247.5 547.6L247 547.4L246.5 547.4L246 549.9L245.5 552.3L245 552.4L244.5 552.5L244.4 551.6L244 549.2L243.5 546.1L243 545.1L242.5 544L242 545.9L241.5 547.8L241 546.7L240.5 545.6L240 544.4L239.5 543.2L239 539.3L238.8 537.7L238.5 536.8L238 536.9L237.5 537L237 537.2L236.5 537.5L236 538.1L235.5 538.8L235 539.7L234.5 540.7L234 541.5L233.5 542.3L233 542.4L232.5 542.4L232 544L231.5 545.5L231 545.7L230.5 545.8L230 545L229.5 544.2L229 543.9L228.5 542.6L228 542L227.5 541.5L227 540.7L226.5 540.1L226 539.8L225.5 539.3L225 538.5L224.5 537.7L224 536.8L223.5 536L223 535.2L222.5 534.4L222.1 534.1L222 535L221.5 536.1L221 537L220.5 537.8L220 538.7L219.5 539.4L219 539L218.5 538.4L218 538.2L217.9 537.4L217.5 537.5L217 538.3L216.5 539.3L216 540.1L215.5 541L215 542.5L214.5 543.9L214 544.4L213.5 544.9L213 546.1L212.5 547.4L212 548.6L211.5 549.9L211 550.9L210.9 551.5L210.5 551.9L210 553.1L209.5 554.3L209 554.5L208.5 554.3L208 554L207.5 553.3L207 551.9L206.5 550.4L206 549.4L205.5 548.6L205 548.3L204.5 548.2L204 550.5L203.9 551.3L203.5 553.1L203 552.1L202.5 551.1L202 550.2L201.5 549.3L201 548.9L200.5 548.3L200 548.1L199.5 547.6L199 547.3L198.5 546.8L198 546.5L197.5 546.1L197 545L196.5 544.1L196 541.9L195.5 540L195 539.8L194.5 539.8L194 539.9L193.5 540.1L193 540.2L192.5 540.3L192 539.9L191.5 539.5L191 542L190.5 544.5L190 544.2L189.5 544.1L189 541.2L188.5 538.6L188 539L187.5 539.5L187 540.1L186.5 540.6L186 541.4L185.5 541.9L185 540.4L184.5 538.9L184 539.1L183.5 539.4L183 539.3L182.5 539.3L182 539.3L181.5 539.2L181 538.4L180.5 537.6L180 538.4L179.5 539.2L179 538.8L178.5 538.3L178 537L177.5 535.7L177 536.4L176.5 537.1L176 536L175.5 534.8L175 534.3L174.5 533.8L174 537.5L173.5 541.2L173 537.7L172.5 534.2L172 534.6L171.5 535L171 534L170.5 533L170 533.5L169.5 533.9L169 533.1L168.5 532L168 530.1L167.5 528.1L167 527.1L166.5 526.2L166 525.8L165.5 525.4L165 524.4L164.5 523.4L164 522.7L163.5 521.9L163 521.2L162.5 520.6L162 518.5L161.5 515.5L161 512.9L160.5 510.4L160 507.6L159.5 504.9Z" fill="#0000ff" stroke="none"/><path d="M159.5 500.8L160 503.5L160.5 506.2L161 509.1L161.5 512L162 515L162.5 515.4L163 516.3L163.5 517.2L164 517.9L164.5 518.6L165 519.3L165.5 519.9L166 520.6L166.5 521.3L167 522.2L167.5 523.3L168 524.4L168.5 525.6L169 526.7L169.5 527.3L170 527.7L170.5 528L171 528.2L171.5 528.4L172 528.6L172.5 528.8L173 529.1L173.5 529.2L174 529.4L174.5 529.4L175 529.6L175.5 529.8L176 530.2L176.5 530.5L177 531L177.5 531.4L178 532L178.5 532.4L179 532.8L179.5 533L180 533.3L180.5 533.5L181 533.7L181.5 533.8L182 534L182.5 534.1L183 534.1L183.5 534.2L184 534.4L184.5 534.6L185 534.8L185.5 535L186 535.2L186.5 535.3L187 535.2L187.5 535L188 534.7L188.5 534.6L189 534.5L189.5 534.5L190 534.7L190.5 534.9L191 535.2L191.5 535.4L192 535.6L192.5 535.8L193 535.8L193.5 535.8L194 535.7L194.5 535.6L195 535.7L195.5 535.9L196 536.4L196.5 537.2L197 538L197.5 539.2L198 540.4L198.5 541.5L199 542.4L199.5 543.2L200 543.9L200.5 544.3L201 544.6L201.5 544.8L202 544.9L202.5 544.9L203 544.8L203.5 544.7L203.9 544.6L204 544.2L204.5 544.1L205 544.1L205.5 544.3L206 544.8L206.5 545.6L207 546.3L207.5 547.1L208 547.8L208.5 548.1L209 548.2L209.5 548L210 547.7L210.5 547.4L210.9 546.9L211 546.2L211.5 544.8L212 543.6L212.5 542.4L213 541.4L213.5 540.4L214 539.4L214.5 538.5L215 537.5L215.5 536.5L216 535.5L216.5 534.6L217 534L217.5 533.5L217.9 533.5L218 534.2L218.5 534.4L219 534.5L219.5 534.3L220 534L220.5 533.4L221 532.7L221.5 531.8L222 530.7L222.1 530L222.5 530.3L223 530.9L223.5 531.4L224 532L224.5 532.7L225 533.5L225.5 534.4L226 534.9L226.5 535.5L227 536.1L227.5 536.8L228 537.6L228.5 538.4L229 539.4L229.5 539.3L230 539.2L230.5 539.1L231 539L231.5 538.8L232 538.5L232.5 537.9L233 537.4L233.5 536.8L234 536.1L234.5 535.5L235 534.9L235.5 534.3L236 533.8L236.5 533.3L237 532.9L237.5 532.5L238 532.2L238.5 531.7L238.8 531.4L239 531.9L239.5 533.1L240 534.4L240.5 535.6L241 536.6L241.5 537.7L242 538.8L242.5 539.9L243 540.9L243.5 541.9L244 542.9L244.4 543.6L244.5 543.3L245 543.2L245.5 543.1L246 542.9L246.5 542.7L247 542.6L247.5 542.6L248 542.9L248.5 543.2L249 543.7L249.5 544.2L250 544.8L250.5 545.5L251 546.2L251.5 546.9L252 547.6L252.5 548.2L252.8 548.4L253 548.3L253.5 547.9L254 547.4L254.5 546.8L255 546.2L255.5 545.8L256 545.6L256.5 545.6L257 545.6L257.5 545.6L258 545.5L258.5 545.3L259 545L259.5 544.9L260 544.7L260.5 544.7L261 544.6L261.2 544.5L261.5 544.2L262 543.5L262.5 542.8L263 542.1L263.5 541.4L264 540.6L264.5 539.8L265 539L265.5 538.2L266 537.5L266.5 536.8L266.8 536.5L267 536.1L267.5 535.4L268 534.7L268.5 534.1L269 533.5L269.5 532.8L270 532.3L270.5 531.7L271 531.3L271.5 530.9L272 530.7L272.5 530.8L273 530.8L273.5 530.4L274 529.7L274.5 528.8L275 527.7L275.5 526.7L276 525.7L276.5 524.8L277 524L277.5 523.4L278 522.9L278.5 522.5L279 522.2L279.5 521.8L280 521.3L280.5 520.7L281 519.9L281.5 519L282 518.1L282.5 517.1L283 516.2L283.5 515.4L284 514.6L284.5 514.2L285 513.9L285.5 513.8L286 513.9L286.5 513.4L287 512.8L287.5 512.1L288 511.4L288.5 510.5L289 509.4L289.5 508.1L290 506.6L290.5 505L291 503.3L291.5 501.8L292 500.4L292.5 499.2L292.9 498.3L293 498.1L293.5 496.7L294 495.4L294.5 494L295 492.6L295.5 491.2L296 489.7L296.4 489.4L296.5 488.3L297 483.2L297.5 478L298 472.9L298.5 467.7L299 462.6L299.2 460.7L299.5 457.2L300 451.4L300.5 445.6L301 439.8L301.5 432.1L302 424.4L302.3 419.9L302.5 413.6L303 397.7L303.4 385L303.5 388.9L304 408.3L304.3 420L304.5 421.2L305 425.3L305.5 429.4L306 427.5L306.5 426.1L307 424.8L307.5 426.6L308 428.5L308.5 430.8L309 434L309.5 437.4L309.7 438.8L310 439.4L310.5 441.4L311 443.2L311.5 445.1L312 446.9L312.5 448.6L313 450.2L313.5 451.8L313.9 453.3L314 453.9L314.5 457L315 460.2L315.5 463.6L316 467L316.5 470.3L316.7 471.8L317 473.4L317.5 474.9L318 476.1L318.5 477.2L319 478.2L319.5 479.2L320 480.4L320.5 481.8L320.9 483L321 483.3L321.5 485.1L322 486.8L322.5 488.4L323 490.1L323.5 491.8L324 493.6L324.5 495.4L325 497.2L325.1 497.8L325.5 498.5L326 499.3L326.5 500L327 500.6L327.5 501.2L328 501.6L328.5 502.1L329 502.5L329.5 503.1L330 503.6L330.5 504.2L330.7 504.4L331 504.7L331.5 505.2L332 505.9L332.5 506.6L333 507.5L333.5 508.3L334 509.2L334.5 510L334.9 510.6L335 510.5L335.5 510L336 509.4L336.5 508.7L337 508L337.5 507.3L338 506.6L338.5 505L339 488.6L339.5 472.2L340 455.8L340.3 446L340.5 452.9L341 470.2L341.5 487.6L342 504.9L342.5 504.8L343 505.9L343.5 507L344 507.9L344.5 506.5L345 504.9L345.5 503L346 501L346.5 499.5L347 497.9L347.5 496.4L348 495L348.5 488.9L349 482.8L349.5 476.7L349.9 471.9L350 474.5L350.5 487.1L351 499.7L351.5 512.4L351.6 514.9L352 517.2L352.5 520.5L353 523.8L353.5 527L354 530.1L354.5 533.2L355 536.1L355.5 539L355.8 540.7L356 541.3L356.5 541.8L357 542.4L357.5 543L358 543.7L358.5 544.3L359 544.8L359.5 545.1L360 545.2L360.5 545.2L361 545.1L361.4 545L361.5 544.5L362 543.4L362.5 542.6L363 541.9L363.5 541.3L364 540.9L364.5 540.4L365 539.7L365.5 538.9L365.6 538.4L366 536.5L366.5 534L367 531.6L367.5 529.1L368 526.6L368.5 524.8L369 516.3L369.5 507.9L370 499.4L370.1 497.7L370.5 504.5L371 512.9L371.5 521.4L372 529.8L372.5 533.5L373 537.3L373.5 541.2L374 544.9L374.5 545.2L375 545.9L375.5 546.8L376 547.9L376.5 549.2L377 550.7L377.5 552.4L378 554L378.5 555.5L379 556.7L379.5 557.7L379.6 557.7L380 557.8L380.5 557.9L381 558.1L381.5 558.3L382 558.7L382.5 559.2L383 559.9L383.5 560.6L384 561.4L384.5 562.2L385 562.9L385.5 563.3L386 563.7L386.5 564L387 564.2L387.5 564.3L388 564.3L388.5 564.2L389 564.2L389.5 563.8L390 563.6L390.5 563.7L391 564L391.5 564.5L392 565.2L392.5 566L393 566.8L393.2 567.2L393.5 565.8L394 563.2L394.5 560L395 543.7L395.5 527.4L396 511.1L396.5 527.4L397 543.8L397.5 560.1L398 564.3L398.5 566.6L399 568.6L399.5 570.5L400 572.1L400.1 571.9L400.5 570.7L401 569.1L401.5 567.7L402 566.5L402.5 565.5L403 564.7L403.5 564.9L404 553.9L404.5 543L405 532L405.5 521L406 537.4L406.5 553.7L407 570L407.5 570.9L408 571.8L408.5 572.8L409 574L409.5 575.5L409.9 576.7L410 577.2L410.5 577.3L411 577.3L411.5 577.2L412 576.9L412.5 576.6L413 576.3L413.5 575.9L414 575.6L414.5 575.4L415 575.2L415.5 575.1L416 575.1L416.5 575.1L416.9 575.2L417 575.3L417.5 575.1L418 574.8L418.5 574.3L419 573.7L419.5 573.2L420 572.8L420.5 572.6L421 572.6L421.5 572.5L422 572.4L422.5 572.2L423 571.8L423.5 571.3L423.9 570.6L424 570L424.5 569.1L425 568.2L425.5 567.5L426 567L426.5 566.7L427 566.4L427.5 566.1L428 565.9L428.5 564.7L429 563.5L429.5 562.3L430 560.9L430.5 559.6L430.9 559L431 558L431.5 553.4L432 548.8L432.5 544.9L433 530.8L433.5 516.8L434 502.7L434.1 500L434.5 445.7L434.7 418.5L435 417L435.5 416.5L436 415.9L436.5 415.8L437 415.8L437.3 418.5L437.5 445.7L437.9 500L438 502.8L438.5 517.5L439 532.2L439.5 547L439.6 549.9L440 552.3L440.5 556L440.7 557.5L441 558.3L441.5 560.4L442 562.4L442.5 564.5L443 566.6L443.5 568.8L444 571.1L444.5 573.3L444.9 575.1L445 575.3L445.5 575.7L446 576L446.5 576.3L447 576.6L447.5 576.8L448 577L448.5 577.1L449 577.2L449.5 577.3L450 577.4L450.4 577.6L450.5 576.9L451 573.5L451.5 570.1L452 566.6L452.5 563.1L453 559.7L453.5 556.3L454 552.9L454.5 549.5L454.6 549.6L455 543.3L455.5 535.4L456 527.6L456.5 519.9L457 505.5L457.4 494L457.5 497.2L458 513.6L458.5 530L459 541.9L459.5 553.9L460 565.9L460.2 570.8L460.5 571.5L461 573.1L461.5 574.6L462 576.1L462.5 577.5L463 578.8L463.5 580.1L464 581.3L464.5 582.6L465 584L465.5 585.5L465.8 586.6L466 587L466.5 587.6L467 588.1L467.5 588.6L468 589.1L468.5 589.5L469 589.9L469.5 590.3L470 590.7L470.5 590.9L471 591L471.5 590.9L472 590.7L472.5 590.4L472.8 590L473 589.6L473.5 589.4L474 589.4L474.5 589.6L475 589.7L475.5 589.8L476 589.9L476.5 590.1L477 590.6L477.5 591.2L478 592L478.5 593.1L479 594.1L479.5 595.1L480 595.8L480.5 596.4L481 596.6L481.5 596.5L482 596.1L482.5 595.7L483 595.2L483.5 594.8L484 594.5L484.5 594.2L485 594.1L485.5 594L486 594L486.5 594.2L486.8 594.4L487 594.7L487.5 595.1L488 595.5L488.5 595.7L489 596.1L489.5 596.4L490 596.8L490.5 597.3L491 597.7L491.5 598.2L492 598.5L492.5 598L493 597.4L493.5 596.8L494 596.2L494.5 595.6L495 595.1L495.5 594.8L495.6 595L496 587.3L496.5 577.8L496.9 570.1L497 572L497.5 581.3L498 590.6L498.2 594.3L498.5 595.9L499 596.1L499.5 596.2L500 596.2L500.4 596.1L500.5 595.5L501 594.7L501.5 594.2L502 593.8L502.5 593.7L503 593.7L503.5 593.9L504 594L504.5 585.5L505 576.9L505.3 571.7L505.5 575.7L506 585.6L506.5 595.4L506.6 597.3L507 599.8L507.5 600.4L508 600.9L508.5 601.3L509 601.7L509.5 602.2L510 602.8L510.1 602.7L510.5 602.5L511 602.5L511.5 602.5L512 602.6L512.5 602.6L513 602.6L513.5 602.7L514 602.7L514.5 602.9L515 603L515.5 603.2L516 603.2L516.5 603.3L517 603.4L517.5 603.5L518 603.6L518.5 603.7L519 603.8L519.5 603.8L519.9 603.6L520 603.4L520.5 603.4L521 603.3L521.5 603.3L522 603.4L522.5 603.7L523 604.1L523.5 604.7L524 605.3L524.5 606L525 606.6L525.5 607.2L526 607.8L526.5 608.3L526.9 608.6L527 608.6L527.5 608.5L528 608.3L528.5 607.9L529 607.6L529.5 607.2L530 606.9L530.5 606.8L531 606.8L531.5 606.9L532 607.1L532.5 607.3L533 607.5L533.5 607.7L533.9 607.9L534 607.8L534.5 607.6L535 607.4L535.5 607.2L536 606.9L536.5 606.8L537 606.7L537.5 606.6L538 606.6L538.5 606.6L539 606.5L539.5 606.3L540 606L540.5 605.5L541 605L541.5 604.4L542 604L542.5 603.6L543 603.4L543.5 603.2L543.7 603.3L544 603.5L544.5 603.5L545 603.5L545.5 603.4L546 603.2L546.5 603L547 602.9L547.5 602.8L548 602.7L548.5 602.6L549 602.5L549.3 602.3L549.5 602.4L550 602.9L550.5 603.2L551 603.5L551.5 603.8L552 604.1L552.5 604.6L553 605.2L553.5 605.9L554 606.7L554.5 607.5L554.9 608.2L555 608.4L555.5 608.9L556 609.4L556.5 609.9L557 610.5L557.5 611.1L558 611.9L558.5 612.6L559 613.4L559.5 614L560 614.5L560.5 614.9L561 615L561.5 615L561.8 614.9L562 614.6L562.5 614.5L563 614.5L563.5 614.8L564 615.2L564.5 615.7L565 616.2L565.5 616.6L566 616.7L566.5 616.7L567 616.6L567.5 616.4L568 616.1L568.5 615.8L568.8 615.5L569 615.2L569.5 614.9L570 614.7L570.5 614.6L571 614.4L571.5 614.3L572 614.4L572.5 614.5L573 614.7L573.5 615L574 615.4L574.5 615.8L575 616.2L575.5 616.5L576 616.8L576.5 617.1L577 617.4L577.5 617.6L578 617.9L578.5 618.1L579 618.3L579.5 618.5L580 618.2L580.5 616.5L581 614.7L581.5 612.8L582 610.8L582.3 609.9L582.5 606.9L583 599.6L583.5 592.4L584 599.9L584.5 607.5L584.8 612L585 612.7L585.5 613.8L586 614.9L586.5 615.9L587 616.8L587.5 617L588 617L588.5 617.1L589 617.1L589.5 617L590 616.9L590.5 616.9L591 617L591.5 617.1L592 617.5L592.5 617.8L593 618.2L593.5 618.6L594 618.9L594.5 619.1L595 619.2L595.5 619.2L596 619.1L596.5 618.9L596.8 618.7L597 618.5L597.5 618.4L598 618.4L598.5 618.4L599 618.5L599.5 618.6L600 618.7L600.5 618.9L600.6 619L601 618L601.5 616.8L602 615.7L602.5 614.6L603 613.7L603.5 612.8L604 611.9L604.5 610.9L604.8 610.2L605 611.1L605.5 613L606 615L606.5 617.1L606.8 618.4L607 617.8L607.5 616.1L608 614.4L608.4 612.1L608.5 609.6L609 596.8L609.4 586.6L609.5 588.8L610 599.4L610.5 610.1L610.6 612.2L611 615.4L611.5 617.2L612 619L612.5 620.6L613 622.1L613.2 622.6L613.5 622.9L614 622.9L614.5 622.9L615 622.8L615.5 622.5L616 622.3L616.5 622.1L617 622L617.5 622L618 622.1L618.5 622.3L619 622.4L619.5 622.6L620 622.7L620.5 622.9L621 623.1L621.5 623.4L622 623.9L622.5 624.6L623 625.3L623.5 625.6L624 625.9L624.5 626.1L625 626.1L625.5 626L626 625.8L626.5 625.6L627 625.4L627.5 625.3L628 625.4L628.5 625.7L629 626.1L629.5 626.5L630 626.8L630.5 627L631 627L631.3 626.9L631.5 626.8L632 626.8L632.5 626.8L633 626.8L633.5 626.9L634 627L634.5 627.3L635 627.6L635.5 627.8L636 628.1L636.5 628.3L637 628.5L637.5 628.7L638 629L638.5 629.4L639 629.9L639.5 630.4L639.7 630.6L640 630.4L640.5 630L641 629.6L641.5 629.2L642 628.9L642.5 628.7L643 628.5L643.5 628.2L644 627.8L644.5 627.2L645 626.6L645.5 626L645.8 626.3L646 624.7L646.5 620.8L647 616.9L647.5 613.1L647.8 610.8L648 612.6L648.5 616.8L649 621L649.5 625.1L649.8 627.4L650 626.4L650.5 626.6L651 626.8L651.5 627.3L652 628L652.5 628.9L653 629.9L653.5 631L653.7 631.7L654 632L654.5 632.2L655 632.2L655.5 632.1L656 632L656.5 631.8L657 631.7L657.5 631.5L658 631.5L658.5 631.4L659 631.4L659.5 631.3L660 631.2L660.5 631L661 630.8L661.5 630.5L662 630.2L662.1 630.1L662.5 629.5L663 628.9L663.5 628.3L664 627.8L664.5 627.4L665 626.9L665.5 626.3L666 625.6L666.5 624.9L667 623.6L667.5 622.3L668 621L668.5 619.7L669 618.4L669.5 619.7L670 621.1L670.5 622.5L671 624L671.5 625.7L672 625.6L672.5 625.7L673 626L673.5 626.2L674 626.3L674.5 626.3L675 626.1L675.3 625.9L675.5 625.9L676 626.3L676.5 626.7L677 627.1L677.5 627.7L678 628.3L678.5 629L679 629.7L679.5 630.3L680 631L680.5 631.7L681 632.4L681.5 633.2L681.6 633.6L682 633.8L682.5 634.1L683 634.2L683.5 634.2L684 634.2L684.5 634L685 633.7L685.5 633.4L686 633L686.5 632.7L687 632.5L687.5 632.3L688 632.2L688.5 632.3L689 632.4L689.5 632.6L690 632.9L690.5 633.1L691 633.4L691.5 633.6L692 633.8L692.5 633.9L692.8 633.9L693 633.9L693.5 633.9L694 634L694.5 634L695 634.1L695.5 634.2L696 634.3L696.5 634.4L697 634.6L697.5 634.9L698 635.2L698.5 635.6L699 636L699.5 636.4L700 636.9L700.5 637.2L701 637.4L701.2 637.4L701.5 637L702 636.3L702.5 635.6L703 635L703.5 634.7L704 634.3L704.5 633.9L705 633.5L705.5 633L706 632.5L706.5 632L706.8 631.8L707 632.2L707.5 632.9L708 633.6L708.5 634.3L709 634.9L709.5 635.3L710 635.5L710.5 635.7L711 635.9L711.5 636L712 636.2L712.4 636.4L712.5 636.3L713 636.1L713.5 636L714 635.9L714.5 635.8L715 635.6L715.5 635.4L716 635.1L716.5 634.7L717 634.2L717.5 633.8L718 633.3L718.5 632.9L719 632.5L719.5 633L720 633.6L720.5 634.1L721 634.7L721.5 635.3L722 636L722.5 636.7L723 637.5L723.5 638.3L724 639L724.5 639.7L725 640.5L725.5 641.3L726 642L726.5 642.1L727 642.1L727.5 642.1L728 642L728.5 641.9L729 641.7L729.5 641.6L730 641.4L730.5 641.3L731 641.2L731.5 641.2L732 641.2L732.5 641.2L733 641.2L733.5 641.2L734 641.2L734.5 641.3L735 641.5L735.5 641.8L736 642L736.5 642.2L737 642.4L737.5 642.4L738 642.5L738.5 642.5L739 642.5L739.5 642.4L739.9 642.2L740 642L740.5 641.7L741 641.5L741.5 641.3L742 641.1L742.5 641.1L743 641.2L743.5 641.5L744 641.8L744.5 642.1L745 642.4L745.5 642.6L746 642.7L746.5 642.6L747 642.6L747.5 642.4L748 642.3L748.5 642.3L749 642.3L749.5 642.3L750 642.5L750.5 642.6L751 642.8L751.5 643.1L752 643.4L752.5 643.7L753 644L753.5 644.5L753.9 644.9L754 645.3L754.5 645.4L755 645.6L755.5 645.8L756 645.9L756.5 645.8L757 645.7L757.5 645.2L758 644.6L758.5 643.8L759 643L759.5 642.2L760 641.6L760.5 641.1L761 640.9L761.5 640.8L762 640.8L762.5 640.8L763 640.7L763.5 640.4L764 639.8L764.5 639L765 638.1L765.5 637.2L766 636.3L766.5 635.6L767 636.3L767.5 637.2L768 638.2L768.5 639.2L769 640.1L769.5 641L770 641.9L770.5 641.9L771 642L771.5 642.1L772 642.2L772.5 642.5L773 642.8L773.5 643.2L774 643.6L774.5 644L774.9 644.2L775 644.3L775.5 644.3L776 644.3L776.5 644.2L777 644.1L777.5 644L778 644L778.5 644.2L779 644.4L779.5 644.7L780 645.1L780.5 645.4L781 645.7L781.5 645.9L782 646.1L782.5 646.2L783 646.3L783.5 646.3L784 646.1L784.5 645.9L785 645.6L785.5 645.3L786 645L786.5 644.8L787 644.6L787.5 644.6L788 644.7L788.5 644.9L788.8 645.2L789 645.4L789.5 645.6L790 645.8L790.5 645.9L791 646L791.5 646.1L792 646.1L792.5 646.1L793 646.1L793.5 646L794 645.9L794.5 645.7L795 645.5L795.5 645.3L796 645.1L796.5 644.9L797 644.9L797.5 644.8L798 644.8L798.5 644.8L799 644.7L799.5 644.6L800 644.6L800.5 644.6L801 644.7L801.5 644.8L802 645L802.5 645.3L802.8 645.5L803 645.8L803.5 646.1L804 646.3L804.5 646.6L805 646.8L805.5 646.9L806 646.9L806.5 646.8L807 646.7L807.5 646.6L808 646.5L808.5 646.5L809 646.7L809.5 646.9L810 647.2L810.5 647.5L811 647.5L811.5 647.5L812 647.2L812.5 646.9L813 646.6L813.5 646.3L814 646L814.5 645.9L815 645.9L815.5 646L816 646.1L816.5 646.1L816.8 646.2L817 646.1L817.5 646.1L818 646.2L818.5 646.3L819 646.5L819.5 646.8L820 647.1L820.5 647.4L821 647.6L821.5 647.9L822 648L822.5 647.9L823 647.8L823.5 647.6L824 647.4L824.5 647.1L825 646.8L825.5 646.4L826 646L826.5 645.5L827 645.1L827.5 644.8L828 644.6L828.5 644.5L829 644.5L829.5 644.5L830 644.6L830.5 644.6L831 644.5L831.5 644.5L832 644.3L832.5 644.2L833 644.1L833.5 643.9L834 643.9L834.5 644L835 644.2L835.5 644.3L836 644.4L836.5 644.4L837 644.3L837.5 644.2L838 644L838.5 643.8L839 643.8L839.5 643.9L840 644.1L840.5 644.4L841 644.7L841.5 645L842 645.2L842.5 645.2L843 645L843.5 644.8L844 644.5L844.5 644.2L845 643.9L845.5 643.9L846 644L846.5 644.3L847 644.7L847.5 645.2L848 645.7L848.5 645.9L849 646L849.5 645.9L850 645.7L850.5 645.4L851 645.1L851.5 644.9L852 644.7L852.5 644.7L853 644.8L853.5 644.8L854 644.8L854.5 644.7L855 644.5L855.5 644.2L856 643.9L856.5 643.7L857 643.7L857.5 644L858 644.4L858.5 644.9L859 645.4L859.5 645.8L860 645.9L860.5 645.9L861 645.7L861.1 645.4L861.5 645.2L862 645L862.5 644.8L863 644.6L863.5 644.6L864 644.5L864.5 644.5L865 644.5L865.5 644.6L866 644.7L866.5 644.8L867 645L867.5 645.3L868 645.5L868.5 645.8L869 646L869.5 646.1L870 646.2L870.5 646L871 645.8L871.5 645.6L872 645.4L872.5 645.4L873 645.4L873.5 645.4L874 645.5L874.5 645.7L875 645.9L875.5 646.2L876 646.4L876.5 646.7L877 647L877.5 647.2L878 647.4L878.5 647.6L879 647.8L879.5 647.8L880 647.8L880.5 647.8L881 647.8L881.5 647.9L882 648.2L882.5 648.5L883 649.1L883.5 649.6L884 650.2L884.5 650.7L884.9 651L885 651L885.5 650.7L886 650.4L886.5 649.9L887 649.5L887.5 649.2L888 649L888.5 649.1L889 649.3L889.5 649.5L890 649.8L890.5 649.9L891 650L891.5 650.1L892 650L892.5 649.9L893 649.8L893.5 649.5L894 649.3L894.5 649.2L895 649.1L895.5 649.1L896 649.1L896.5 649.2L897 649.4L897.5 649.5L898 649.7L898.5 649.8L899 649.9L899.5 649.9L900 649.8L900.5 649.7L901 649.5L901.5 649.3L902 649.1L902.5 649L903 648.9L903.5 648.8L904 648.9L904.5 649L905 649L905.5 649.1L906 649.2L906.5 649.3L907 649.4L907.5 649.4L908 649.4L908.5 649.4L909 649.2L909.5 648.9L910 648.7L910.5 648.4L911 648.3L911.5 648.3L912 648.5L912.5 648.9L913 649.4L913.5 649.9L914 650.4L914.5 650.8L915 651.2L915.5 651.4L916 651.6L916.5 651.6L917 651.5L917.5 651.2L918 650.9L918.5 650.5L919 650.2L919.5 649.9L920 649.9L920.5 649.9L921 650.2L921.5 650.5L922 650.8L922.5 651L923 651.1L923.5 651L924 650.8L924.5 650.5L925 650.2L925.5 649.9L926 649.8L926.5 649.8L927 649.8L927.5 649.8L928 649.9L928.5 649.9L929 649.8L929.5 649.7L930 649.5L930.5 649.3L931 649.1L931.5 648.8L932 648.6L932.5 648.5L933 648.4L933.5 648.4L934 648.5L934.5 648.6L935 648.9L935.5 649.1L936 649.4L936.5 649.5L937 649.6L937.5 649.6L938 649.5L938.5 649.3L939 649.1L939.5 649L940 648.9L940.5 648.9L941 648.9L941.5 648.9L942 648.8L942.5 648.6L943 648.3L943.5 647.9L944 647.6L944.5 647.2L945 647L945.5 646.9L946 646.8L946.5 646.8L947 646.9L947.5 647L948 647.2L948.5 647.4L949 647.6L949.5 647.7L950 647.8L950.5 647.7L951 647.5L951.5 647.3L952 646.9L952.5 646.6L952.9 646.3L953 646.1L953.5 646.1L954 646.1L954.5 646.2L955 646.3L955.5 646.6L956 646.8L956.5 646.9L957 647L957.5 647L958 646.9L958.5 646.7L959 646.5L959.5 646.4L960 646.3L960.5 646.3L961 646.4L961.5 646.6L962 646.8L962.5 647.1L963 647.6L963.5 648L964 648.5L964.5 649L965 649.5L965.5 649.8L966 650L966.5 650.2L967 650.2L967.5 650.3L968 650.5L968.5 650.7L969 650.8L969.5 650.9L970 650.9L970.5 650.7L971 650.4L971.5 650.1L972 649.8L972.5 649.5L973 649.4L973.5 649.3L974 649.3L974.5 649.4L975 649.5L975.5 649.5L976 649.6L976.5 649.6L977 649.5L977.5 649.5L978 649.4L978.5 649.4L979 649.4L979.5 649.5L980 649.6L980.5 649.7L980.9 649.8L981 649.9L981.5 650L982 650.1L982.5 650.2L983 650.2L983.5 650.3L984 650.4L984.5 650.6L985 650.8L985.5 651.1L986 651.3L986.5 651.4L987 651.4L987.5 651.4L988 651.3L988.5 651.2L989 651.2L989.5 651.1L990 651.2L990.5 651.3L991 651.5L991.5 651.8L992 652.3L992.5 652.7L993 653L993.5 653.2L994 653.2L994.5 653.1L995 652.9L995.5 652.5L996 652.2L996.5 651.8L997 651.6L997.5 651.3L998 651.2L998.5 651.3L999 651.4L999.5 651.6L1000 651.8L1000.5 652.1L1001 652.2L1001.5 652.3L1002 652.3L1002.5 652.3L1003 652.2L1003.5 652.3L1004 652.4L1004.5 652.6L1005 652.9L1005.5 653.1L1006 653.3L1006.5 653.3L1007 653.2L1007.5 653L1008 652.7L1008.5 652.4L1008.8 652.1L1009 651.8L1009.5 651.7L1010 651.7L1010.5 651.9L1011 652.2L1011.5 652.6L1012 653L1012.5 653.3L1013 653.5L1013.5 653.6L1014 653.5L1014.5 653.4L1015 653.2L1015.5 653.1L1016 652.9L1016.5 652.8L1017 652.8L1017.5 652.9L1018 653L1018.5 653.2L1019 653.3L1019.5 653.4L1020 653.5L1020.5 653.6L1021 653.5L1021.5 653.5L1022 653.4L1022.5 653.2L1023 653.1L1023.5 652.9L1024 652.7L1024.5 652.6L1025 652.5L1025.5 652.6L1026 652.7L1026.5 652.9L1027 653.1L1027.5 653.3L1028 653.4L1028.5 653.5L1029 653.6L1029.5 653.6L1030 653.6L1030.5 653.6L1031 653.6L1031.5 653.6L1032 653.5L1032.5 653.4L1032.6 653.2" fill="none" stroke="#0000ff" stroke-width="3.0" stroke-linejoin="round" stroke-linecap="round"/>
<path d="M159.5 695.8L160.5 699.6L161 701.9L161.5 701.7L162.5 701.3L163.5 701.9L164.5 701.9L165.5 702.3L166.5 702L167.5 702.6L168.5 702.8L169.5 703.3L170.5 703.1L170.7 703.2L171.5 702.8L172.5 703.8L173.5 702.9L174.5 703.8L175.5 703.5L176.5 703.5L177.5 703.6L178.5 703.7L179.5 704.1L180.5 704.1L181.5 704.6L182.5 703.8L183.5 704.4L184.5 704.3L185.5 704.8L186.4 704.2L186.5 704.6L187.5 704.9L188.5 704.5L189.5 705.2L190.5 705.1L191.5 705.4L192.5 705.5L193.5 705.1L194.5 705.3L195.5 705.5L196.5 705.9L197.5 706L198.5 705.7L199.5 705.8L200.5 705.8L201.5 706L202.1 706.1L202.5 706L203.5 706.2L204.5 705.2L205.5 704.9L206.5 697.6L207.5 689.8L208.5 659.1L208.7 653L209.5 676L210 689.7L210.5 695.3L211.5 704.9L212.5 705.8L213.1 706.4L213.5 706.4L214.5 706.6L215.5 706.4L216.5 706.4L217.5 706.6L218.5 706.3L219.5 707L220.5 706.5L221.5 706.5L222.5 707.4L223.5 706.9L224.1 706.7L224.5 707.4L225.5 706.6L226.5 706.7L227.5 705.9L228 705.9L228.5 699.1L229.5 686L230 679.8L230.5 649.8L231.5 589.7L232.5 650.4L233 679.7L233.5 685.9L234.5 696.7L235.3 705.8L235.5 705.4L236.5 705.3L237.5 705.3L238.5 705.1L239.5 705.3L240.5 705L241.5 705.3L242.5 704.9L243.5 704.8L244.5 704.9L245.4 704.6L245.5 704.3L246.5 702.1L247.5 700L248.5 696.8L249.4 693.7L249.5 694L250.5 698.2L251 699.9L251.5 701.1L252.5 702.6L253.5 705.3L254.5 703L255.5 701L256 700.1L256.5 691.7L257.5 674.9L257.8 670.3L258.5 656.4L259.5 636.8L260.5 665.8L261 679.6L261.5 684.6L262.5 692.6L263.5 701L264.5 699.7L265.5 697.9L266.5 695.6L266.8 695.2L267.5 687.2L268.1 680.4L268.5 501.8L269.2 190L269.5 323.9L270.3 680.1L270.5 682.5L271.5 694L271.6 694.7L272.5 699.5L273.2 702.6L273.5 703.3L274.5 703.9L275.5 703.4L276.5 704.2L277.5 704.3L278.5 704.3L279.5 704.4L280.5 704.7L281.5 704.6L282.5 704.9L283.5 699L284.5 693.2L285 690.2L285.5 677.2L286.5 652.3L286.7 646.8L287.5 655L288 660.1L288.5 655L289.3 647L289.5 652.8L290.5 681.3L290.8 689.8L291.5 695.8L292.5 704.4L292.6 705L293.5 699.9L294.5 693.2L295 689.3L295.5 680.8L296.5 663.2L297.5 644.6L297.7 640.9L298.5 653.7L299.5 670.3L300.5 676.5L301.1 680.2L301.5 678.4L302.5 674.5L303.5 670.2L304.5 663L305.3 658.2L305.5 663.4L306.5 690L307.5 700.2L307.8 703L308.5 701L309.5 700.4L310.5 697.9L311.2 696L311.5 697.4L312.5 702.6L313 704.7L313.5 705.6L314.5 706.6L315.5 707.7L316 708.1L316.5 708.2L317.5 708.7L318.5 708.8L319.5 708.7L320.5 708.6L321.5 708.5L322.5 709L323.5 709.3L324.5 708.6L325 709.3L325.5 708L326.5 707.4L327.5 706.6L328.5 705.2L329 704.6L329.5 701L330.5 693.2L331.3 686.5L331.5 687.8L332.5 691.8L333.5 684.5L334.5 676.1L335.5 688.8L336 695.2L336.5 699.7L336.9 703.9L337.5 698.9L338.5 690.1L339.5 640L340.5 612L340.6 609.3L341.5 632.4L341.8 640L342.5 674.5L343.2 709L343.5 709.3L344.5 709.3L345.5 709.9L346 710.7L346.5 710.6L347.5 710.3L348.5 710.7L349.5 710.2L350.5 710.3L351.5 709.9L352.5 710.6L353 710.4L353.5 709.6L354.5 707.3L355.5 705L356.5 698.4L357.1 694.6L357.5 697.3L358.5 705L359.5 707.9L359.9 709.2L360.5 708.8L361.5 708.3L362.5 707.1L363.5 706.7L364 705.8L364.5 705.6L365.5 704.3L366.2 703.8L366.5 704.3L367.5 706.6L368 708.2L368.5 708.7L369.5 709.7L369.7 709.9L370.5 707.4L371.5 705.2L372.5 701.6L373 700.3L373.5 695.2L374.5 686L375.3 679L375.5 681.4L376.5 694L377 699.8L377.5 702.4L378.5 707.1L378.8 707.8L379.5 700.8L380.5 689.8L381.5 662.3L382.3 640.1L382.5 645.2L383.5 668.1L384 680.1L384.5 688.4L385.1 697.5L385.5 695.1L386.5 688.2L387 684.8L387.5 681.7L388.5 674.9L388.6 674.7L389.5 691.1L390 700.3L390.5 705.7L390.7 707.9L391.5 705.8L392.5 702.4L393.5 699.5L394.2 696.2L394.5 697.7L395.5 703.2L396 706.2L396.5 707.9L397.5 710.6L397.6 711.1L398.5 711L399.5 710.8L400.5 711.1L401.5 711L402.5 710.6L403.2 711.3L403.5 710L404.5 708.3L405.5 705.8L406 704.8L406.5 701.1L407.5 693.9L408 689.7L408.5 685.5L409.5 677L409.9 672.8L410.5 679.4L411.5 690.2L412.5 695.8L413.5 701.9L413.7 702.8L414.5 698.3L415 695L415.5 691.3L416.5 684.9L417.5 694.8L418 699.9L418.5 702L419.5 706.6L420 709L420.5 709.2L421.5 709.7L422.5 709.3L423.5 709.8L424.5 710.4L425.5 710.4L425.6 710.5L426.5 706.9L427.5 702.3L428 700.1L428.5 692.5L429.5 677.9L429.8 673.3L430.5 683.9L431.5 700.1L432.5 707L432.6 708.3L433.5 706.7L434.5 705L435.5 705.2L436.1 705.1L436.5 706.5L437.5 708.4L438 709.4L438.5 710.1L439.5 710.7L440.5 711.4L441.4 712.2L441.5 711.7L442.5 711.7L443.5 708.8L444.5 707L445.5 705.8L445.7 703.7L446.5 705.9L447.5 707L448.5 707.6L449.5 706.2L450.5 703L451 702.9L451.5 702.7L452.5 700.1L453.5 699.3L454.5 693.4L455.5 686.9L455.8 684.7L456.5 693.4L457.5 705.1L458.5 708.1L459.5 712.4L460.5 711L461.5 709.8L462.5 708.8L463.5 709.2L464.5 707.6L465.5 707.4L465.9 705.4L466.5 706.8L467.5 708.6L468.5 709.9L469.5 710.9L470.5 711.4L471.3 711.6L471.5 710.8L472.5 710.8L473.5 711.5L474.5 710.5L475 710.6L475.5 707.2L476.5 702.3L477 699.5L477.5 698.5L478.5 695.1L478.7 694.6L479.5 698.2L480.5 700.7L481 703.3L481.5 702.6L482.5 704.2L483 703.7L483.5 704.2L484.5 704.8L485.1 705.8L485.5 705.6L486.5 706.7L487.5 707.7L488 709.1L488.5 708.9L489.5 709.8L490.5 710.7L491.5 711.7L492.5 710.5L493.5 710.5L494 710.7L494.5 709.1L495.5 709.9L496.5 709.9L496.9 708.5L497.5 709.9L498.5 710.6L499 712.1L499.5 712.1L500.5 713.1L501.5 713.2L502.2 713.7L502.5 713.8L503.5 713.4L504.5 713.3L505.5 713.2L506.5 712.6L507.5 712.8L508.5 712.9L509.5 711.4L509.7 712.5L510.5 711.8L511.5 711.2L512.5 710.7L513.5 710.5L514.5 710.2L515 710.5L515.5 709.7L516.5 710.6L517.5 709.6L518 710.2L518.5 709.5L519.5 706.5L520.3 706L520.5 706.9L521.5 707.7L522.5 710.2L523.5 711.1L524.5 712.4L524.6 712.4L525.5 710.6L526.5 709.2L527 708.4L527.5 706.8L528.5 705.2L529.4 702.9L529.5 703L530.5 705L531.5 708.8L532.5 710.8L533.1 710.5L533.5 711L534.5 711.3L535.5 711.9L536.5 712.1L537.5 711.4L538.5 711.6L539.5 711.8L540.5 710.9L540.6 711.8L541.5 710.3L542.5 709.3L543.5 708L544.5 705.1L545.5 702.9L545.9 702.4L546.5 703.5L547.5 705.1L548.5 707.5L549.5 708.7L550.5 710.1L551.4 712.1L551.5 712.2L552.5 711.7L553.5 711.8L554.5 711L555 711L555.5 710.7L556.5 710.1L557.5 710.4L558.5 709.6L558.9 709.7L559.5 709.5L560.5 710.5L561.5 710.8L562.5 711.6L563.5 712.8L564.2 713.4L564.5 712.9L565.5 712.8L566.5 713.6L567.5 713.7L568.5 713.7L569.5 714.4L570.5 712.8L571.5 711.2L572.5 710.6L573.5 707.2L574.5 704.7L575.4 703L575.5 702.6L576.5 704.4L577.5 706.6L578 708.2L578.5 708.9L579.5 710.3L580.2 711L580.5 710.6L581.5 710.8L582.5 709.1L583.5 709L584.5 707.9L585.5 709.9L586.5 711.6L587.5 713.8L588.2 713.1L588.5 714.4L589.5 711.4L590.5 709.9L591.5 708.1L591.9 706.6L592.5 705.8L593.5 704.2L594 703L594.5 701.8L595.5 700.5L596 699.6L596.5 700.3L597.5 704.6L598.5 707.1L599.5 708L600.5 710.8L601.5 714.1L602.5 714.1L603.5 713.6L604.5 712.8L605.5 713.6L606.5 714.3L607.5 714.1L608.5 713.8L609.5 713.7L610.5 714.5L611.5 714.2L612.5 714.5L613.3 714.6L613.5 715L614.5 713.5L615.5 712.8L616.5 711L617.5 711.5L618.5 710.6L618.6 710.1L619.5 709.9L620.5 711.6L621.5 712.8L622.5 714.6L623.5 714.8L623.9 715.3L624.5 715.2L625.5 715.3L626.5 714.1L627.5 714.2L628.5 713.9L629.5 714.2L630.5 714.1L631.5 714.2L632.5 713.5L633.5 713.9L634.5 713.4L635.5 714.6L636.5 713.3L637.5 714.6L638.5 714.1L638.9 712.8L639.5 713.9L640.5 714L641.5 713.3L642.5 714.5L643.5 714.4L644.5 714.9L645.3 714.5L645.5 714.9L646.5 715.1L647.5 714.8L648.5 714.6L649.5 714.8L650.5 714.5L651.5 715.1L652.5 713.8L653.5 715.6L654.5 714.9L655.5 715.1L656.5 715.3L657.5 714.4L658.5 715.9L659.5 714.4L660.5 715.1L661.5 715.1L662.5 715.5L663.5 714.9L664.5 714.3L665 715.1L665.5 713.7L666.5 714.6L667.5 714.4L668.5 715.2L669.5 714.2L670.5 714L671.5 713.7L672 713.6L672.5 713.7L673.5 714L674.5 712.9L675.5 713.2L676.5 712.4L677.2 712.8L677.5 713.2L678.5 713.3L679.5 714.4L680 715.1L680.5 715.4L681.5 715.5L682.5 715L683.5 714.6L684.5 714.4L685.5 715.5L686.5 715.8L687.5 715.4L688.5 715.9L689.5 715L690.5 715.1L691.5 716L692.5 714.9L693.5 715.6L694.5 715.5L695.5 715.5L696.5 716.2L697.5 715L698.5 715.3L699.5 714.5L700 715L700.5 715.3L701.5 715.3L702.5 715.4L703.5 715.7L704.5 715.2L705.5 714.7L706.5 715.6L707.5 715.8L708.5 715.1L709.5 715.2L710.5 716.4L711.5 716.1L712.5 716.1L713.5 716L714.5 715.7L715.5 715.4L716.5 715.9L717.5 715.6L718.5 715.5L719.5 715.7L720.5 715.7L721.5 716.1L722.5 715.3L723.5 716.9L724.5 715.3L725.5 715.6L726.5 716.2L727.5 715.4L728.5 715.6L729.5 715.8L730.5 714.5L731.5 715.6L732.5 715.4L733.5 715.8L734.5 716.1L735.5 716.2L736.5 716.6L737.5 716.6L738.5 716.4L739.5 715.9L740.5 716.4L741.5 715.5L742.5 715.9L743.5 716.6L744.5 716.3L745.5 715.4L746.5 715.7L747.5 716.4L748.5 716.3L749.5 716.5L750.5 715.3L751.5 715.5L752.5 716L753.5 715.7L754.5 716.1L755.5 716.1L756.5 716.3L757.5 716.1L758.5 716.4L759.5 716.5L760.5 716.2L761.5 715.6L762.5 716.8L763.5 716.3L764.5 716.4L765.5 716.3L766.5 715.5L767.5 716.5L768.5 716L769.5 715.7L770.5 716.9L771.5 716.2L772.5 716.4L773.5 716.7L774.5 717.1L775.5 715.5L776.5 716L777.5 716.7L778.5 716.1L779.5 714.9L780.5 716.5L781.5 716.5L782.5 716.8L783.5 716.5L784.5 716.2L785.5 716.5L786.5 716.4L787.5 716.2L788.5 716.6L789.5 716.7L790.5 716L791.5 717L792.5 716.9L793.5 716.9L794.5 715.3L795.5 716.6L796.5 716.5L797.5 716.1L798.5 716.9L799.5 715.9L800 717.2L800.5 716.8L801.5 716.4L802.5 717.3L803.5 716.8L804.5 716.8L805.5 716.1L806.5 716.9L807.5 717.3L808.5 717.2L809.5 716.1L810.5 717.3L811.5 717.4L812.5 717.1L813.5 716.5L814.5 716L815.5 716.3L816.5 716.5L817.5 716.8L818.5 717L819.5 716.4L820.5 716L821.5 716.6L822.5 716.1L823.5 717.4L824.5 716.2L825.5 717L826.5 717.1L827.5 716.3L828.5 717.2L829.5 716.7L830.5 716.4L831.5 716.4L832.5 716.9L833.5 717.3L834.5 716L835.5 717.1L836.5 716.8L837.5 716.5L838.5 716.8L839.5 716.8L840.5 716.8L841.5 717.2L842.5 716.5L843.5 717.8L844.5 717.3L845.5 716.6L846.5 716L847.5 716.9L848.5 716.7L849.5 717.3L850.5 717.3L851.5 717.8L852.5 716.9L853.5 717.3L854.5 716.8L855.5 716.8L856.5 717.7L857.5 716.9L858.5 717L859.5 716.8L860.5 717.2L861.5 717.3L862.5 717L863.5 716.5L864.5 717.2L865.5 716.7L866.5 716.9L867.5 717.2L868.5 717.2L869.5 716L870.5 717.9L871.5 717.5L872.5 718L873.5 718.3L874.5 716.7L875.5 716.9L876.5 717.2L877.5 717.6L878.5 716.9L879.5 717L880.5 717.6L881.5 716.8L882.5 717.3L883.5 717.7L884.5 717.1L885.5 717.5L886.5 717.1L887.5 716.5L888.5 717L889.5 717.1L890.5 717.1L891.5 717.2L892.5 717.4L893.5 717.4L894.5 717.3L895.5 717L896.5 717.1L897.5 717.1L898.5 717L899.5 717.9L900 716.4L900.5 717.4L901.5 716.5L902.5 717L903.5 717.6L904.5 717.2L905.5 717.9L906.5 716.9L907.5 717.2L908.5 717L909.5 717.3L910.5 717.2L911.5 717.2L912.5 717.4L913.5 717.8L914.5 717.4L915.5 717.4L916.5 717.2L917.5 717L918.5 716.7L919.5 716.9L920.5 717.4L921.5 716.5L922.5 717.7L923.5 717.2L924.5 717L925.5 717.2L926.5 717.7L927.5 717.6L928.5 717.6L929.5 718.3L930.5 718.5L931.5 716.9L932.5 717.9L933.5 717.2L934.5 716.9L935.5 717.3L936.5 718L937.5 717.4L938.5 717.4L939.5 718.3L940.5 717.9L941.5 717.6L942.5 718.5L943.5 717.9L944.5 717.4L945.5 717.2L946.5 717.5L947.5 717.8L948.5 718.2L949.5 718.1L950.5 717.8L951.5 717.2L952.5 718.2L953.5 717.8L954.5 717.3L955.5 717.2L956.5 717.9L957.5 718L958.5 718.2L959.5 717.3L960.5 718.7L961.5 717L962.5 717.8L963.5 718.5L964.5 718.3L965.5 717.5L966.5 718.2L967.5 718.5L968.5 718.2L969.5 717.5L970.5 718.7L971.5 717.2L972.5 718L973.5 717.5L974.5 717.8L975.5 717.8L976.5 718.2L977.5 717.4L978.5 718.1L979.5 718.6L980.5 718L981.5 718.3L982.5 718.2L983.5 717.7L984.5 717.9L985.5 718.1L986.5 718.3L987.5 719L988.5 718.8L989.5 717.9L990.5 717.9L991.5 717.6L992.5 717.1L993.5 718.7L994.5 718.4L995.5 717.3L996.5 718.2L997.5 719.2L998.5 718.4L999.5 718.4L1000.5 718.3L1001.5 717.8L1002.5 717.7L1003.5 717.8L1004.5 718.3L1005.5 718.1L1006.5 718.6L1007.5 719.1L1008.5 718.5L1009.5 718.7L1010.5 718.1L1011.5 717.7L1012.5 719.3L1013.5 718.6L1014.5 718.9L1015.5 718.2L1016.5 717.6L1017.5 719L1018.5 717.4L1019.5 718.3L1020.5 718.1L1021.5 718.5L1022.5 718.8L1023.5 718.8L1024.5 717.5L1025.5 718.9L1026.5 717.6L1027.5 718.8L1028.5 718.3L1029.5 717.9L1030.5 718.2L1031.5 717.9L1032 718.5" fill="none" stroke="#0a820a" stroke-width="2.9" stroke-linejoin="round" stroke-linecap="round"/>
<g stroke="#363636" stroke-width="3" fill="none">
<rect x="158.5" y="69.0" width="876.0" height="652.5"/>
<line x1="158.5" y1="721.5" x2="158.5" y2="729.0" stroke-width="2.4"/><line x1="210.0" y1="721.5" x2="210.0" y2="735.0" stroke-width="2.4"/><line x1="261.6" y1="721.5" x2="261.6" y2="729.0" stroke-width="2.4"/><line x1="313.1" y1="721.5" x2="313.1" y2="735.0" stroke-width="2.4"/><line x1="364.6" y1="721.5" x2="364.6" y2="729.0" stroke-width="2.4"/><line x1="416.1" y1="721.5" x2="416.1" y2="735.0" stroke-width="2.4"/><line x1="467.7" y1="721.5" x2="467.7" y2="729.0" stroke-width="2.4"/><line x1="519.2" y1="721.5" x2="519.2" y2="735.0" stroke-width="2.4"/><line x1="570.7" y1="721.5" x2="570.7" y2="729.0" stroke-width="2.4"/><line x1="622.3" y1="721.5" x2="622.3" y2="735.0" stroke-width="2.4"/><line x1="673.8" y1="721.5" x2="673.8" y2="729.0" stroke-width="2.4"/><line x1="725.3" y1="721.5" x2="725.3" y2="735.0" stroke-width="2.4"/><line x1="776.9" y1="721.5" x2="776.9" y2="729.0" stroke-width="2.4"/><line x1="828.4" y1="721.5" x2="828.4" y2="735.0" stroke-width="2.4"/><line x1="879.9" y1="721.5" x2="879.9" y2="729.0" stroke-width="2.4"/><line x1="931.4" y1="721.5" x2="931.4" y2="735.0" stroke-width="2.4"/><line x1="983.0" y1="721.5" x2="983.0" y2="729.0" stroke-width="2.4"/><line x1="1034.5" y1="721.5" x2="1034.5" y2="735.0" stroke-width="2.4"/>
</g>
<g font-family="'Liberation Serif', serif" fill="#111" font-size="38">
<text transform="translate(210.3,772) scale(0.975,1.03)" text-anchor="middle">10</text><text transform="translate(313.4,772) scale(0.975,1.03)" text-anchor="middle">20</text><text transform="translate(416.4,772) scale(0.975,1.03)" text-anchor="middle">30</text><text transform="translate(519.5,772) scale(0.975,1.03)" text-anchor="middle">40</text><text transform="translate(622.6,772) scale(0.975,1.03)" text-anchor="middle">50</text><text transform="translate(725.6,772) scale(0.975,1.03)" text-anchor="middle">60</text><text transform="translate(828.7,772) scale(0.975,1.03)" text-anchor="middle">70</text><text transform="translate(931.7,772) scale(0.975,1.03)" text-anchor="middle">80</text><text transform="translate(1034.8,772) scale(0.975,1.03)" text-anchor="middle">90</text>
</g>
<g font-family="'Liberation Serif', serif" fill="#111" font-size="33.5">
<text x="870" y="404">BX</text>
<text x="829" y="501.5">GA-BX/AD</text>
<text x="786.3" y="618.3" font-size="33.3">GA-BX/AD-g-IA</text>
<text x="867" y="708">AD</text>
</g>
<text font-family="'Liberation Serif', serif" fill="#111" font-size="41" x="521.5" y="823">2θ (°)</text>
<text font-family="'Liberation Serif', serif" fill="#111" font-size="40" transform="translate(105.2,503.5) rotate(-90)" x="0" y="0">Intansity (a.u.)</text>
</svg>
</body></html>
